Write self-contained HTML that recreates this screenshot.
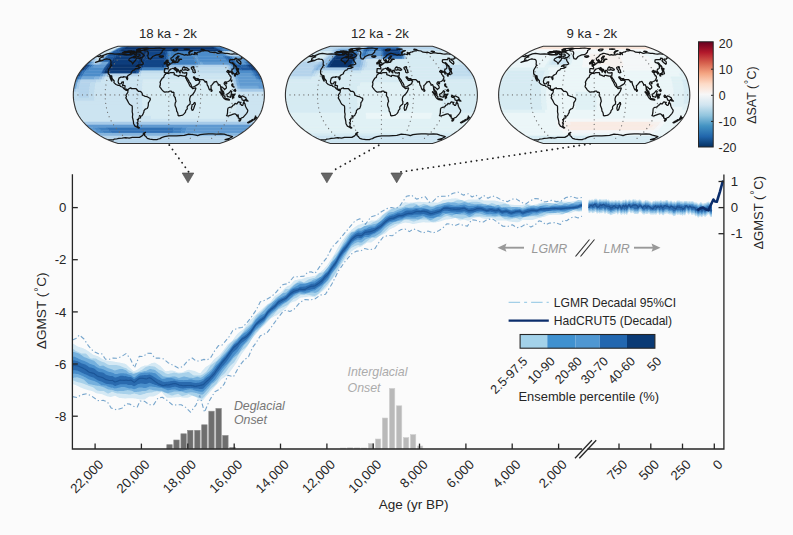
<!DOCTYPE html>
<html><head><meta charset="utf-8"><title>Figure</title>
<style>html,body{margin:0;padding:0;background:#fbfbfb;}svg{display:block;}</style></head>
<body>
<svg width="793" height="535" viewBox="0 0 793 535">
<clipPath id="c0"><polygon points="118,46.3 120.8,46.3 123.6,46.3 126.5,46.3 129.3,46.3 132.1,46.3 134.9,46.3 137.8,46.3 140.6,46.3 143.4,46.3 146.2,46.3 149.1,46.3 151.9,46.3 154.7,46.3 157.5,46.3 160.4,46.3 163.2,46.3 166,46.3 168.8,46.3 171.7,46.3 174.5,46.3 177.3,46.3 180.2,46.3 183,46.3 185.8,46.3 188.6,46.3 191.5,46.3 194.3,46.3 197.1,46.3 199.9,46.3 202.8,46.3 205.6,46.3 208.4,46.3 211.2,46.3 214.1,46.3 216.9,46.3 219.7,46.3 219.7,46.3 223.5,47.5 228.2,49.2 233.2,51.5 237.5,53.9 241.4,56.5 245.2,59.2 248.6,62 251.8,64.9 254.5,67.8 256.9,70.8 258.9,73.8 260.6,76.8 261.8,79.8 262.7,82.8 263.4,85.9 264,88.9 264.3,91.9 264.4,94.9 264.3,97.9 264,100.9 263.4,103.9 262.7,107 261.8,110 260.6,113 258.9,116 256.9,119 254.5,122 251.8,124.9 248.6,127.8 245.2,130.6 241.4,133.3 237.5,135.9 233.2,138.3 228.2,140.6 223.5,142.3 219.7,143.5 219.7,143.5 216.9,143.5 214.1,143.5 211.2,143.5 208.4,143.5 205.6,143.5 202.8,143.5 199.9,143.5 197.1,143.5 194.3,143.5 191.5,143.5 188.6,143.5 185.8,143.5 183,143.5 180.2,143.5 177.3,143.5 174.5,143.5 171.7,143.5 168.8,143.5 166,143.5 163.2,143.5 160.4,143.5 157.5,143.5 154.7,143.5 151.9,143.5 149.1,143.5 146.2,143.5 143.4,143.5 140.6,143.5 137.8,143.5 134.9,143.5 132.1,143.5 129.3,143.5 126.5,143.5 123.6,143.5 120.8,143.5 118,143.5 118,143.5 114.2,142.3 109.5,140.6 104.5,138.3 100.2,135.9 96.3,133.3 92.5,130.6 89.1,127.8 85.9,124.9 83.2,122 80.8,119 78.8,116 77.1,113 75.9,110 75,107 74.3,103.9 73.7,100.9 73.4,97.9 73.3,94.9 73.4,91.9 73.7,88.9 74.3,85.9 75,82.8 75.9,79.8 77.1,76.8 78.8,73.8 80.8,70.8 83.2,67.8 85.9,64.9 89.1,62 92.5,59.2 96.3,56.5 100.2,53.9 104.5,51.5 109.5,49.2 114.2,47.5 118,46.3"/></clipPath>
<g clip-path="url(#c0)">
<polygon points="118,46.3 119.4,46.3 115.7,47.5 114.2,47.5" fill="#c0dcee" stroke="#c0dcee" stroke-width="0.5"/>
<polygon points="119.4,46.3 123.6,46.3 120.3,47.5 115.7,47.5" fill="#cce4f1" stroke="#cce4f1" stroke-width="0.5"/>
<polygon points="123.6,46.3 125.1,46.3 121.8,47.5 120.3,47.5" fill="#72a8d8" stroke="#72a8d8" stroke-width="0.5"/>
<polygon points="125.1,46.3 127.9,46.3 124.8,47.5 121.8,47.5" fill="#3272b6" stroke="#3272b6" stroke-width="0.5"/>
<polygon points="127.9,46.3 129.3,46.3 126.3,47.5 124.8,47.5" fill="#1f599f" stroke="#1f599f" stroke-width="0.5"/>
<polygon points="129.3,46.3 209.8,46.3 212.9,47.5 126.3,47.5" fill="#0a356f" stroke="#0a356f" stroke-width="0.5"/>
<polygon points="209.8,46.3 211.2,46.3 214.4,47.5 212.9,47.5" fill="#124688" stroke="#124688" stroke-width="0.5"/>
<polygon points="211.2,46.3 212.6,46.3 215.9,47.5 214.4,47.5" fill="#1f599f" stroke="#1f599f" stroke-width="0.5"/>
<polygon points="212.6,46.3 214.1,46.3 217.4,47.5 215.9,47.5" fill="#3272b6" stroke="#3272b6" stroke-width="0.5"/>
<polygon points="214.1,46.3 218.3,46.3 222,47.5 217.4,47.5" fill="#4080c0" stroke="#4080c0" stroke-width="0.5"/>
<polygon points="218.3,46.3 219.7,46.3 223.5,47.5 222,47.5" fill="#4d8dca" stroke="#4d8dca" stroke-width="0.5"/>
<polygon points="114.2,47.5 115.7,47.5 111.1,49.2 109.5,49.2" fill="#c0dcee" stroke="#c0dcee" stroke-width="0.5"/>
<polygon points="115.7,47.5 120.3,47.5 116.1,49.2 111.1,49.2" fill="#cce4f1" stroke="#cce4f1" stroke-width="0.5"/>
<polygon points="120.3,47.5 121.8,47.5 117.7,49.2 116.1,49.2" fill="#72a8d8" stroke="#72a8d8" stroke-width="0.5"/>
<polygon points="121.8,47.5 124.8,47.5 121,49.2 117.7,49.2" fill="#1f599f" stroke="#1f599f" stroke-width="0.5"/>
<polygon points="124.8,47.5 126.3,47.5 122.7,49.2 121,49.2" fill="#185094" stroke="#185094" stroke-width="0.5"/>
<polygon points="126.3,47.5 212.9,47.5 216.7,49.2 122.7,49.2" fill="#0a356f" stroke="#0a356f" stroke-width="0.5"/>
<polygon points="212.9,47.5 214.4,47.5 218.3,49.2 216.7,49.2" fill="#0e3e7c" stroke="#0e3e7c" stroke-width="0.5"/>
<polygon points="214.4,47.5 215.9,47.5 220,49.2 218.3,49.2" fill="#1f599f" stroke="#1f599f" stroke-width="0.5"/>
<polygon points="215.9,47.5 222,47.5 226.6,49.2 220,49.2" fill="#3272b6" stroke="#3272b6" stroke-width="0.5"/>
<polygon points="222,47.5 223.5,47.5 228.2,49.2 226.6,49.2" fill="#4d8dca" stroke="#4d8dca" stroke-width="0.5"/>
<polygon points="109.5,49.2 111.1,49.2 106.3,51.5 104.5,51.5" fill="#c0dcee" stroke="#c0dcee" stroke-width="0.5"/>
<polygon points="111.1,49.2 116.1,49.2 111.7,51.5 106.3,51.5" fill="#cce4f1" stroke="#cce4f1" stroke-width="0.5"/>
<polygon points="116.1,49.2 117.7,49.2 113.5,51.5 111.7,51.5" fill="#72a8d8" stroke="#72a8d8" stroke-width="0.5"/>
<polygon points="117.7,49.2 121,49.2 117,51.5 113.5,51.5" fill="#1f599f" stroke="#1f599f" stroke-width="0.5"/>
<polygon points="121,49.2 122.7,49.2 118.8,51.5 117,51.5" fill="#185094" stroke="#185094" stroke-width="0.5"/>
<polygon points="122.7,49.2 216.7,49.2 220.7,51.5 118.8,51.5" fill="#0a356f" stroke="#0a356f" stroke-width="0.5"/>
<polygon points="216.7,49.2 218.3,49.2 222.5,51.5 220.7,51.5" fill="#0e3e7c" stroke="#0e3e7c" stroke-width="0.5"/>
<polygon points="218.3,49.2 220,49.2 224.2,51.5 222.5,51.5" fill="#1f599f" stroke="#1f599f" stroke-width="0.5"/>
<polygon points="220,49.2 221.6,49.2 226,51.5 224.2,51.5" fill="#3272b6" stroke="#3272b6" stroke-width="0.5"/>
<polygon points="221.6,49.2 226.6,49.2 231.4,51.5 226,51.5" fill="#4080c0" stroke="#4080c0" stroke-width="0.5"/>
<polygon points="226.6,49.2 228.2,49.2 233.2,51.5 231.4,51.5" fill="#4d8dca" stroke="#4d8dca" stroke-width="0.5"/>
<polygon points="104.5,51.5 111.7,51.5 107.8,53.9 100.2,53.9" fill="#cce4f1" stroke="#cce4f1" stroke-width="0.5"/>
<polygon points="111.7,51.5 113.5,51.5 109.7,53.9 107.8,53.9" fill="#72a8d8" stroke="#72a8d8" stroke-width="0.5"/>
<polygon points="113.5,51.5 120.6,51.5 117.4,53.9 109.7,53.9" fill="#1f599f" stroke="#1f599f" stroke-width="0.5"/>
<polygon points="120.6,51.5 122.4,51.5 119.3,53.9 117.4,53.9" fill="#185094" stroke="#185094" stroke-width="0.5"/>
<polygon points="122.4,51.5 143.8,51.5 142.1,53.9 119.3,53.9" fill="#0e3e7c" stroke="#0e3e7c" stroke-width="0.5"/>
<polygon points="143.8,51.5 147.4,51.5 146,53.9 142.1,53.9" fill="#0a356f" stroke="#0a356f" stroke-width="0.5"/>
<polygon points="147.4,51.5 149.2,51.5 147.9,53.9 146,53.9" fill="#0e3e7c" stroke="#0e3e7c" stroke-width="0.5"/>
<polygon points="149.2,51.5 165.3,51.5 165,53.9 147.9,53.9" fill="#124688" stroke="#124688" stroke-width="0.5"/>
<polygon points="165.3,51.5 167.1,51.5 166.9,53.9 165,53.9" fill="#185094" stroke="#185094" stroke-width="0.5"/>
<polygon points="167.1,51.5 168.8,51.5 168.8,53.9 166.9,53.9" fill="#3272b6" stroke="#3272b6" stroke-width="0.5"/>
<polygon points="168.8,51.5 170.6,51.5 170.8,53.9 168.8,53.9" fill="#4d8dca" stroke="#4d8dca" stroke-width="0.5"/>
<polygon points="170.6,51.5 190.3,51.5 191.7,53.9 170.8,53.9" fill="#4080c0" stroke="#4080c0" stroke-width="0.5"/>
<polygon points="190.3,51.5 218.9,51.5 222.3,53.9 191.7,53.9" fill="#4d8dca" stroke="#4d8dca" stroke-width="0.5"/>
<polygon points="218.9,51.5 220.7,51.5 224.2,53.9 222.3,53.9" fill="#609ad1" stroke="#609ad1" stroke-width="0.5"/>
<polygon points="220.7,51.5 222.5,51.5 226.1,53.9 224.2,53.9" fill="#85b4de" stroke="#85b4de" stroke-width="0.5"/>
<polygon points="222.5,51.5 224.2,51.5 228,53.9 226.1,53.9" fill="#a6cae8" stroke="#a6cae8" stroke-width="0.5"/>
<polygon points="224.2,51.5 226,51.5 229.9,53.9 228,53.9" fill="#c0dcee" stroke="#c0dcee" stroke-width="0.5"/>
<polygon points="226,51.5 233.2,51.5 237.5,53.9 229.9,53.9" fill="#cce4f1" stroke="#cce4f1" stroke-width="0.5"/>
<polygon points="100.2,53.9 104,53.9 100.3,56.5 96.3,56.5" fill="#c0dcee" stroke="#c0dcee" stroke-width="0.5"/>
<polygon points="104,53.9 107.8,53.9 104.3,56.5 100.3,56.5" fill="#cce4f1" stroke="#cce4f1" stroke-width="0.5"/>
<polygon points="107.8,53.9 109.7,53.9 106.3,56.5 104.3,56.5" fill="#72a8d8" stroke="#72a8d8" stroke-width="0.5"/>
<polygon points="109.7,53.9 117.4,53.9 114.4,56.5 106.3,56.5" fill="#1f599f" stroke="#1f599f" stroke-width="0.5"/>
<polygon points="117.4,53.9 119.3,53.9 116.4,56.5 114.4,56.5" fill="#185094" stroke="#185094" stroke-width="0.5"/>
<polygon points="119.3,53.9 142.1,53.9 140.6,56.5 116.4,56.5" fill="#0e3e7c" stroke="#0e3e7c" stroke-width="0.5"/>
<polygon points="142.1,53.9 146,53.9 144.7,56.5 140.6,56.5" fill="#0a356f" stroke="#0a356f" stroke-width="0.5"/>
<polygon points="146,53.9 147.9,53.9 146.7,56.5 144.7,56.5" fill="#0e3e7c" stroke="#0e3e7c" stroke-width="0.5"/>
<polygon points="147.9,53.9 165,53.9 164.8,56.5 146.7,56.5" fill="#124688" stroke="#124688" stroke-width="0.5"/>
<polygon points="165,53.9 166.9,53.9 166.8,56.5 164.8,56.5" fill="#185094" stroke="#185094" stroke-width="0.5"/>
<polygon points="166.9,53.9 168.8,53.9 168.8,56.5 166.8,56.5" fill="#3272b6" stroke="#3272b6" stroke-width="0.5"/>
<polygon points="168.8,53.9 170.8,53.9 170.9,56.5 168.8,56.5" fill="#4d8dca" stroke="#4d8dca" stroke-width="0.5"/>
<polygon points="170.8,53.9 191.7,53.9 193,56.5 170.9,56.5" fill="#4080c0" stroke="#4080c0" stroke-width="0.5"/>
<polygon points="191.7,53.9 193.6,53.9 195.1,56.5 193,56.5" fill="#4d8dca" stroke="#4d8dca" stroke-width="0.5"/>
<polygon points="193.6,53.9 195.6,53.9 197.1,56.5 195.1,56.5" fill="#609ad1" stroke="#609ad1" stroke-width="0.5"/>
<polygon points="195.6,53.9 224.2,53.9 227.3,56.5 197.1,56.5" fill="#4d8dca" stroke="#4d8dca" stroke-width="0.5"/>
<polygon points="224.2,53.9 226.1,53.9 229.3,56.5 227.3,56.5" fill="#609ad1" stroke="#609ad1" stroke-width="0.5"/>
<polygon points="226.1,53.9 228,53.9 231.4,56.5 229.3,56.5" fill="#98c0e4" stroke="#98c0e4" stroke-width="0.5"/>
<polygon points="228,53.9 237.5,53.9 241.4,56.5 231.4,56.5" fill="#b5d4ec" stroke="#b5d4ec" stroke-width="0.5"/>
<polygon points="96.3,56.5 98.3,56.5 94.7,59.2 92.5,59.2" fill="#a6cae8" stroke="#a6cae8" stroke-width="0.5"/>
<polygon points="98.3,56.5 100.3,56.5 96.8,59.2 94.7,59.2" fill="#c0dcee" stroke="#c0dcee" stroke-width="0.5"/>
<polygon points="100.3,56.5 102.3,56.5 98.9,59.2 96.8,59.2" fill="#d6ebf3" stroke="#d6ebf3" stroke-width="0.5"/>
<polygon points="102.3,56.5 104.3,56.5 101,59.2 98.9,59.2" fill="#ebf6f8" stroke="#ebf6f8" stroke-width="0.5"/>
<polygon points="104.3,56.5 106.3,56.5 103.1,59.2 101,59.2" fill="#98c0e4" stroke="#98c0e4" stroke-width="0.5"/>
<polygon points="106.3,56.5 108.4,56.5 105.3,59.2 103.1,59.2" fill="#3272b6" stroke="#3272b6" stroke-width="0.5"/>
<polygon points="108.4,56.5 114.4,56.5 111.6,59.2 105.3,59.2" fill="#1f599f" stroke="#1f599f" stroke-width="0.5"/>
<polygon points="114.4,56.5 116.4,56.5 113.7,59.2 111.6,59.2" fill="#185094" stroke="#185094" stroke-width="0.5"/>
<polygon points="116.4,56.5 140.6,56.5 139.2,59.2 113.7,59.2" fill="#0e3e7c" stroke="#0e3e7c" stroke-width="0.5"/>
<polygon points="140.6,56.5 144.7,56.5 143.4,59.2 139.2,59.2" fill="#0a356f" stroke="#0a356f" stroke-width="0.5"/>
<polygon points="144.7,56.5 146.7,56.5 145.5,59.2 143.4,59.2" fill="#0e3e7c" stroke="#0e3e7c" stroke-width="0.5"/>
<polygon points="146.7,56.5 164.8,56.5 164.6,59.2 145.5,59.2" fill="#124688" stroke="#124688" stroke-width="0.5"/>
<polygon points="164.8,56.5 166.8,56.5 166.7,59.2 164.6,59.2" fill="#185094" stroke="#185094" stroke-width="0.5"/>
<polygon points="166.8,56.5 168.8,56.5 168.8,59.2 166.7,59.2" fill="#3272b6" stroke="#3272b6" stroke-width="0.5"/>
<polygon points="168.8,56.5 170.9,56.5 171,59.2 168.8,59.2" fill="#4d8dca" stroke="#4d8dca" stroke-width="0.5"/>
<polygon points="170.9,56.5 193,56.5 194.3,59.2 171,59.2" fill="#4080c0" stroke="#4080c0" stroke-width="0.5"/>
<polygon points="193,56.5 195.1,56.5 196.4,59.2 194.3,59.2" fill="#4d8dca" stroke="#4d8dca" stroke-width="0.5"/>
<polygon points="195.1,56.5 197.1,56.5 198.5,59.2 196.4,59.2" fill="#609ad1" stroke="#609ad1" stroke-width="0.5"/>
<polygon points="197.1,56.5 223.3,56.5 226.1,59.2 198.5,59.2" fill="#4d8dca" stroke="#4d8dca" stroke-width="0.5"/>
<polygon points="223.3,56.5 225.3,56.5 228.2,59.2 226.1,59.2" fill="#3272b6" stroke="#3272b6" stroke-width="0.5"/>
<polygon points="225.3,56.5 229.3,56.5 232.4,59.2 228.2,59.2" fill="#2866aa" stroke="#2866aa" stroke-width="0.5"/>
<polygon points="229.3,56.5 231.4,56.5 234.6,59.2 232.4,59.2" fill="#4080c0" stroke="#4080c0" stroke-width="0.5"/>
<polygon points="231.4,56.5 233.4,56.5 236.7,59.2 234.6,59.2" fill="#609ad1" stroke="#609ad1" stroke-width="0.5"/>
<polygon points="233.4,56.5 241.4,56.5 245.2,59.2 236.7,59.2" fill="#72a8d8" stroke="#72a8d8" stroke-width="0.5"/>
<polygon points="92.5,59.2 94.7,59.2 91.3,62 89.1,62" fill="#85b4de" stroke="#85b4de" stroke-width="0.5"/>
<polygon points="94.7,59.2 96.8,59.2 93.5,62 91.3,62" fill="#a6cae8" stroke="#a6cae8" stroke-width="0.5"/>
<polygon points="96.8,59.2 98.9,59.2 95.7,62 93.5,62" fill="#c0dcee" stroke="#c0dcee" stroke-width="0.5"/>
<polygon points="98.9,59.2 101,59.2 97.9,62 95.7,62" fill="#d6ebf3" stroke="#d6ebf3" stroke-width="0.5"/>
<polygon points="101,59.2 103.1,59.2 100.1,62 97.9,62" fill="#98c0e4" stroke="#98c0e4" stroke-width="0.5"/>
<polygon points="103.1,59.2 105.3,59.2 102.4,62 100.1,62" fill="#4080c0" stroke="#4080c0" stroke-width="0.5"/>
<polygon points="105.3,59.2 111.6,59.2 109,62 102.4,62" fill="#2866aa" stroke="#2866aa" stroke-width="0.5"/>
<polygon points="111.6,59.2 113.7,59.2 111.2,62 109,62" fill="#185094" stroke="#185094" stroke-width="0.5"/>
<polygon points="113.7,59.2 115.9,59.2 113.4,62 111.2,62" fill="#0a356f" stroke="#0a356f" stroke-width="0.5"/>
<polygon points="115.9,59.2 139.2,59.2 137.8,62 113.4,62" fill="#0e3e7c" stroke="#0e3e7c" stroke-width="0.5"/>
<polygon points="139.2,59.2 143.4,59.2 142.3,62 137.8,62" fill="#0a356f" stroke="#0a356f" stroke-width="0.5"/>
<polygon points="143.4,59.2 145.5,59.2 144.5,62 142.3,62" fill="#0e3e7c" stroke="#0e3e7c" stroke-width="0.5"/>
<polygon points="145.5,59.2 164.6,59.2 164.4,62 144.5,62" fill="#124688" stroke="#124688" stroke-width="0.5"/>
<polygon points="164.6,59.2 166.7,59.2 166.6,62 164.4,62" fill="#185094" stroke="#185094" stroke-width="0.5"/>
<polygon points="166.7,59.2 168.8,59.2 168.8,62 166.6,62" fill="#3272b6" stroke="#3272b6" stroke-width="0.5"/>
<polygon points="168.8,59.2 171,59.2 171.1,62 168.8,62" fill="#4d8dca" stroke="#4d8dca" stroke-width="0.5"/>
<polygon points="171,59.2 194.3,59.2 195.4,62 171.1,62" fill="#4080c0" stroke="#4080c0" stroke-width="0.5"/>
<polygon points="194.3,59.2 196.4,59.2 197.7,62 195.4,62" fill="#4d8dca" stroke="#4d8dca" stroke-width="0.5"/>
<polygon points="196.4,59.2 198.5,59.2 199.9,62 197.7,62" fill="#609ad1" stroke="#609ad1" stroke-width="0.5"/>
<polygon points="198.5,59.2 226.1,59.2 228.7,62 199.9,62" fill="#4d8dca" stroke="#4d8dca" stroke-width="0.5"/>
<polygon points="226.1,59.2 228.2,59.2 230.9,62 228.7,62" fill="#3272b6" stroke="#3272b6" stroke-width="0.5"/>
<polygon points="228.2,59.2 232.4,59.2 235.3,62 230.9,62" fill="#1f599f" stroke="#1f599f" stroke-width="0.5"/>
<polygon points="232.4,59.2 234.6,59.2 237.6,62 235.3,62" fill="#4080c0" stroke="#4080c0" stroke-width="0.5"/>
<polygon points="234.6,59.2 243,59.2 246.4,62 237.6,62" fill="#609ad1" stroke="#609ad1" stroke-width="0.5"/>
<polygon points="243,59.2 245.2,59.2 248.6,62 246.4,62" fill="#4d8dca" stroke="#4d8dca" stroke-width="0.5"/>
<polygon points="89.1,62 91.3,62 88.2,64.9 85.9,64.9" fill="#3272b6" stroke="#3272b6" stroke-width="0.5"/>
<polygon points="91.3,62 93.5,62 90.5,64.9 88.2,64.9" fill="#609ad1" stroke="#609ad1" stroke-width="0.5"/>
<polygon points="93.5,62 95.7,62 92.8,64.9 90.5,64.9" fill="#85b4de" stroke="#85b4de" stroke-width="0.5"/>
<polygon points="95.7,62 100.1,62 97.4,64.9 92.8,64.9" fill="#a6cae8" stroke="#a6cae8" stroke-width="0.5"/>
<polygon points="100.1,62 102.4,62 99.7,64.9 97.4,64.9" fill="#98c0e4" stroke="#98c0e4" stroke-width="0.5"/>
<polygon points="102.4,62 109,62 106.7,64.9 99.7,64.9" fill="#72a8d8" stroke="#72a8d8" stroke-width="0.5"/>
<polygon points="109,62 111.2,62 109,64.9 106.7,64.9" fill="#1f599f" stroke="#1f599f" stroke-width="0.5"/>
<polygon points="111.2,62 115.7,62 113.6,64.9 109,64.9" fill="#0a356f" stroke="#0a356f" stroke-width="0.5"/>
<polygon points="115.7,62 137.8,62 136.6,64.9 113.6,64.9" fill="#0e3e7c" stroke="#0e3e7c" stroke-width="0.5"/>
<polygon points="137.8,62 142.3,62 141.2,64.9 136.6,64.9" fill="#0a356f" stroke="#0a356f" stroke-width="0.5"/>
<polygon points="142.3,62 144.5,62 143.5,64.9 141.2,64.9" fill="#0e3e7c" stroke="#0e3e7c" stroke-width="0.5"/>
<polygon points="144.5,62 164.4,62 164.2,64.9 143.5,64.9" fill="#124688" stroke="#124688" stroke-width="0.5"/>
<polygon points="164.4,62 166.6,62 166.5,64.9 164.2,64.9" fill="#185094" stroke="#185094" stroke-width="0.5"/>
<polygon points="166.6,62 168.8,62 168.8,64.9 166.5,64.9" fill="#3272b6" stroke="#3272b6" stroke-width="0.5"/>
<polygon points="168.8,62 171.1,62 171.2,64.9 168.8,64.9" fill="#4d8dca" stroke="#4d8dca" stroke-width="0.5"/>
<polygon points="171.1,62 195.4,62 196.5,64.9 171.2,64.9" fill="#4080c0" stroke="#4080c0" stroke-width="0.5"/>
<polygon points="195.4,62 197.7,62 198.8,64.9 196.5,64.9" fill="#4d8dca" stroke="#4d8dca" stroke-width="0.5"/>
<polygon points="197.7,62 199.9,62 201.1,64.9 198.8,64.9" fill="#609ad1" stroke="#609ad1" stroke-width="0.5"/>
<polygon points="199.9,62 202.1,62 203.4,64.9 201.1,64.9" fill="#72a8d8" stroke="#72a8d8" stroke-width="0.5"/>
<polygon points="202.1,62 228.7,62 231,64.9 203.4,64.9" fill="#609ad1" stroke="#609ad1" stroke-width="0.5"/>
<polygon points="228.7,62 230.9,62 233.3,64.9 231,64.9" fill="#4080c0" stroke="#4080c0" stroke-width="0.5"/>
<polygon points="230.9,62 235.3,62 238,64.9 233.3,64.9" fill="#2866aa" stroke="#2866aa" stroke-width="0.5"/>
<polygon points="235.3,62 237.6,62 240.3,64.9 238,64.9" fill="#4080c0" stroke="#4080c0" stroke-width="0.5"/>
<polygon points="237.6,62 239.8,62 242.6,64.9 240.3,64.9" fill="#4d8dca" stroke="#4d8dca" stroke-width="0.5"/>
<polygon points="239.8,62 244.2,62 247.2,64.9 242.6,64.9" fill="#609ad1" stroke="#609ad1" stroke-width="0.5"/>
<polygon points="244.2,62 246.4,62 249.5,64.9 247.2,64.9" fill="#4080c0" stroke="#4080c0" stroke-width="0.5"/>
<polygon points="246.4,62 248.6,62 251.8,64.9 249.5,64.9" fill="#2866aa" stroke="#2866aa" stroke-width="0.5"/>
<polygon points="85.9,64.9 88.2,64.9 85.6,67.8 83.2,67.8" fill="#0a356f" stroke="#0a356f" stroke-width="0.5"/>
<polygon points="88.2,64.9 90.5,64.9 88,67.8 85.6,67.8" fill="#185094" stroke="#185094" stroke-width="0.5"/>
<polygon points="90.5,64.9 92.8,64.9 90.4,67.8 88,67.8" fill="#3272b6" stroke="#3272b6" stroke-width="0.5"/>
<polygon points="92.8,64.9 95.1,64.9 92.7,67.8 90.4,67.8" fill="#4d8dca" stroke="#4d8dca" stroke-width="0.5"/>
<polygon points="95.1,64.9 106.7,64.9 104.6,67.8 92.7,67.8" fill="#609ad1" stroke="#609ad1" stroke-width="0.5"/>
<polygon points="106.7,64.9 109,64.9 107,67.8 104.6,67.8" fill="#185094" stroke="#185094" stroke-width="0.5"/>
<polygon points="109,64.9 143.5,64.9 142.7,67.8 107,67.8" fill="#0a356f" stroke="#0a356f" stroke-width="0.5"/>
<polygon points="143.5,64.9 161.9,64.9 161.7,67.8 142.7,67.8" fill="#124688" stroke="#124688" stroke-width="0.5"/>
<polygon points="161.9,64.9 164.2,64.9 164.1,67.8 161.7,67.8" fill="#0e3e7c" stroke="#0e3e7c" stroke-width="0.5"/>
<polygon points="164.2,64.9 166.5,64.9 166.5,67.8 164.1,67.8" fill="#1f599f" stroke="#1f599f" stroke-width="0.5"/>
<polygon points="166.5,64.9 168.8,64.9 168.8,67.8 166.5,67.8" fill="#609ad1" stroke="#609ad1" stroke-width="0.5"/>
<polygon points="168.8,64.9 196.5,64.9 197.4,67.8 168.8,67.8" fill="#98c0e4" stroke="#98c0e4" stroke-width="0.5"/>
<polygon points="196.5,64.9 198.8,64.9 199.8,67.8 197.4,67.8" fill="#a6cae8" stroke="#a6cae8" stroke-width="0.5"/>
<polygon points="198.8,64.9 226.4,64.9 228.3,67.8 199.8,67.8" fill="#b5d4ec" stroke="#b5d4ec" stroke-width="0.5"/>
<polygon points="226.4,64.9 228.7,64.9 230.7,67.8 228.3,67.8" fill="#a6cae8" stroke="#a6cae8" stroke-width="0.5"/>
<polygon points="228.7,64.9 231,64.9 233.1,67.8 230.7,67.8" fill="#85b4de" stroke="#85b4de" stroke-width="0.5"/>
<polygon points="231,64.9 233.3,64.9 235.5,67.8 233.1,67.8" fill="#4d8dca" stroke="#4d8dca" stroke-width="0.5"/>
<polygon points="233.3,64.9 235.7,64.9 237.8,67.8 235.5,67.8" fill="#3272b6" stroke="#3272b6" stroke-width="0.5"/>
<polygon points="235.7,64.9 240.3,64.9 242.6,67.8 237.8,67.8" fill="#1f599f" stroke="#1f599f" stroke-width="0.5"/>
<polygon points="240.3,64.9 244.9,64.9 247.3,67.8 242.6,67.8" fill="#2866aa" stroke="#2866aa" stroke-width="0.5"/>
<polygon points="244.9,64.9 247.2,64.9 249.7,67.8 247.3,67.8" fill="#1f599f" stroke="#1f599f" stroke-width="0.5"/>
<polygon points="247.2,64.9 249.5,64.9 252.1,67.8 249.7,67.8" fill="#124688" stroke="#124688" stroke-width="0.5"/>
<polygon points="249.5,64.9 251.8,64.9 254.5,67.8 252.1,67.8" fill="#0a356f" stroke="#0a356f" stroke-width="0.5"/>
<polygon points="83.2,67.8 85.6,67.8 83.2,70.8 80.8,70.8" fill="#0a356f" stroke="#0a356f" stroke-width="0.5"/>
<polygon points="85.6,67.8 88,67.8 85.7,70.8 83.2,70.8" fill="#1f599f" stroke="#1f599f" stroke-width="0.5"/>
<polygon points="88,67.8 90.4,67.8 88.1,70.8 85.7,70.8" fill="#4080c0" stroke="#4080c0" stroke-width="0.5"/>
<polygon points="90.4,67.8 104.6,67.8 102.8,70.8 88.1,70.8" fill="#4d8dca" stroke="#4d8dca" stroke-width="0.5"/>
<polygon points="104.6,67.8 107,67.8 105.3,70.8 102.8,70.8" fill="#185094" stroke="#185094" stroke-width="0.5"/>
<polygon points="107,67.8 140.3,67.8 139.5,70.8 105.3,70.8" fill="#0a356f" stroke="#0a356f" stroke-width="0.5"/>
<polygon points="140.3,67.8 142.7,67.8 141.9,70.8 139.5,70.8" fill="#2866aa" stroke="#2866aa" stroke-width="0.5"/>
<polygon points="142.7,67.8 164.1,67.8 164,70.8 141.9,70.8" fill="#4080c0" stroke="#4080c0" stroke-width="0.5"/>
<polygon points="164.1,67.8 166.5,67.8 166.4,70.8 164,70.8" fill="#609ad1" stroke="#609ad1" stroke-width="0.5"/>
<polygon points="166.5,67.8 168.8,67.8 168.8,70.8 166.4,70.8" fill="#a6cae8" stroke="#a6cae8" stroke-width="0.5"/>
<polygon points="168.8,67.8 228.3,67.8 230,70.8 168.8,70.8" fill="#c0dcee" stroke="#c0dcee" stroke-width="0.5"/>
<polygon points="228.3,67.8 230.7,67.8 232.4,70.8 230,70.8" fill="#98c0e4" stroke="#98c0e4" stroke-width="0.5"/>
<polygon points="230.7,67.8 233.1,67.8 234.9,70.8 232.4,70.8" fill="#609ad1" stroke="#609ad1" stroke-width="0.5"/>
<polygon points="233.1,67.8 235.5,67.8 237.3,70.8 234.9,70.8" fill="#4080c0" stroke="#4080c0" stroke-width="0.5"/>
<polygon points="235.5,67.8 237.8,67.8 239.8,70.8 237.3,70.8" fill="#3272b6" stroke="#3272b6" stroke-width="0.5"/>
<polygon points="237.8,67.8 240.2,67.8 242.2,70.8 239.8,70.8" fill="#2866aa" stroke="#2866aa" stroke-width="0.5"/>
<polygon points="240.2,67.8 249.7,67.8 252,70.8 242.2,70.8" fill="#1f599f" stroke="#1f599f" stroke-width="0.5"/>
<polygon points="249.7,67.8 252.1,67.8 254.5,70.8 252,70.8" fill="#124688" stroke="#124688" stroke-width="0.5"/>
<polygon points="252.1,67.8 254.5,67.8 256.9,70.8 254.5,70.8" fill="#0a356f" stroke="#0a356f" stroke-width="0.5"/>
<polygon points="80.8,70.8 83.2,70.8 81.3,73.8 78.8,73.8" fill="#1f599f" stroke="#1f599f" stroke-width="0.5"/>
<polygon points="83.2,70.8 85.7,70.8 83.8,73.8 81.3,73.8" fill="#3272b6" stroke="#3272b6" stroke-width="0.5"/>
<polygon points="85.7,70.8 102.8,70.8 101.3,73.8 83.8,73.8" fill="#4d8dca" stroke="#4d8dca" stroke-width="0.5"/>
<polygon points="102.8,70.8 105.3,70.8 103.8,73.8 101.3,73.8" fill="#1f599f" stroke="#1f599f" stroke-width="0.5"/>
<polygon points="105.3,70.8 110.1,70.8 108.8,73.8 103.8,73.8" fill="#0a356f" stroke="#0a356f" stroke-width="0.5"/>
<polygon points="110.1,70.8 137.1,70.8 136.3,73.8 108.8,73.8" fill="#0e3e7c" stroke="#0e3e7c" stroke-width="0.5"/>
<polygon points="137.1,70.8 139.5,70.8 138.8,73.8 136.3,73.8" fill="#1f599f" stroke="#1f599f" stroke-width="0.5"/>
<polygon points="139.5,70.8 141.9,70.8 141.3,73.8 138.8,73.8" fill="#a6cae8" stroke="#a6cae8" stroke-width="0.5"/>
<polygon points="141.9,70.8 230,70.8 231.4,73.8 141.3,73.8" fill="#c0dcee" stroke="#c0dcee" stroke-width="0.5"/>
<polygon points="230,70.8 232.4,70.8 233.9,73.8 231.4,73.8" fill="#98c0e4" stroke="#98c0e4" stroke-width="0.5"/>
<polygon points="232.4,70.8 234.9,70.8 236.4,73.8 233.9,73.8" fill="#609ad1" stroke="#609ad1" stroke-width="0.5"/>
<polygon points="234.9,70.8 252,70.8 253.9,73.8 236.4,73.8" fill="#4d8dca" stroke="#4d8dca" stroke-width="0.5"/>
<polygon points="252,70.8 254.5,70.8 256.4,73.8 253.9,73.8" fill="#3272b6" stroke="#3272b6" stroke-width="0.5"/>
<polygon points="254.5,70.8 256.9,70.8 258.9,73.8 256.4,73.8" fill="#1f599f" stroke="#1f599f" stroke-width="0.5"/>
<polygon points="78.8,73.8 81.3,73.8 79.7,76.8 77.1,76.8" fill="#185094" stroke="#185094" stroke-width="0.5"/>
<polygon points="81.3,73.8 83.8,73.8 82.2,76.8 79.7,76.8" fill="#3272b6" stroke="#3272b6" stroke-width="0.5"/>
<polygon points="83.8,73.8 101.3,73.8 100.1,76.8 82.2,76.8" fill="#4d8dca" stroke="#4d8dca" stroke-width="0.5"/>
<polygon points="101.3,73.8 103.8,73.8 102.6,76.8 100.1,76.8" fill="#609ad1" stroke="#609ad1" stroke-width="0.5"/>
<polygon points="103.8,73.8 106.3,73.8 105.1,76.8 102.6,76.8" fill="#85b4de" stroke="#85b4de" stroke-width="0.5"/>
<polygon points="106.3,73.8 108.8,73.8 107.7,76.8 105.1,76.8" fill="#a6cae8" stroke="#a6cae8" stroke-width="0.5"/>
<polygon points="108.8,73.8 138.8,73.8 138.3,76.8 107.7,76.8" fill="#b5d4ec" stroke="#b5d4ec" stroke-width="0.5"/>
<polygon points="138.8,73.8 141.3,73.8 140.8,76.8 138.3,76.8" fill="#c0dcee" stroke="#c0dcee" stroke-width="0.5"/>
<polygon points="141.3,73.8 228.9,73.8 230,76.8 140.8,76.8" fill="#cce4f1" stroke="#cce4f1" stroke-width="0.5"/>
<polygon points="228.9,73.8 231.4,73.8 232.6,76.8 230,76.8" fill="#c0dcee" stroke="#c0dcee" stroke-width="0.5"/>
<polygon points="231.4,73.8 233.9,73.8 235.1,76.8 232.6,76.8" fill="#98c0e4" stroke="#98c0e4" stroke-width="0.5"/>
<polygon points="233.9,73.8 251.4,73.8 252.9,76.8 235.1,76.8" fill="#609ad1" stroke="#609ad1" stroke-width="0.5"/>
<polygon points="251.4,73.8 253.9,73.8 255.5,76.8 252.9,76.8" fill="#4d8dca" stroke="#4d8dca" stroke-width="0.5"/>
<polygon points="253.9,73.8 256.4,73.8 258,76.8 255.5,76.8" fill="#3272b6" stroke="#3272b6" stroke-width="0.5"/>
<polygon points="256.4,73.8 258.9,73.8 260.6,76.8 258,76.8" fill="#1f599f" stroke="#1f599f" stroke-width="0.5"/>
<polygon points="77.1,76.8 79.7,76.8 78.5,79.8 75.9,79.8" fill="#3272b6" stroke="#3272b6" stroke-width="0.5"/>
<polygon points="79.7,76.8 82.2,76.8 81,79.8 78.5,79.8" fill="#4d8dca" stroke="#4d8dca" stroke-width="0.5"/>
<polygon points="82.2,76.8 95,76.8 94,79.8 81,79.8" fill="#72a8d8" stroke="#72a8d8" stroke-width="0.5"/>
<polygon points="95,76.8 100.1,76.8 99.1,79.8 94,79.8" fill="#85b4de" stroke="#85b4de" stroke-width="0.5"/>
<polygon points="100.1,76.8 102.6,76.8 101.7,79.8 99.1,79.8" fill="#98c0e4" stroke="#98c0e4" stroke-width="0.5"/>
<polygon points="102.6,76.8 105.1,76.8 104.3,79.8 101.7,79.8" fill="#b5d4ec" stroke="#b5d4ec" stroke-width="0.5"/>
<polygon points="105.1,76.8 232.6,76.8 233.4,79.8 104.3,79.8" fill="#cce4f1" stroke="#cce4f1" stroke-width="0.5"/>
<polygon points="232.6,76.8 235.1,76.8 236,79.8 233.4,79.8" fill="#a6cae8" stroke="#a6cae8" stroke-width="0.5"/>
<polygon points="235.1,76.8 237.6,76.8 238.6,79.8 236,79.8" fill="#72a8d8" stroke="#72a8d8" stroke-width="0.5"/>
<polygon points="237.6,76.8 255.5,76.8 256.7,79.8 238.6,79.8" fill="#609ad1" stroke="#609ad1" stroke-width="0.5"/>
<polygon points="255.5,76.8 258,76.8 259.2,79.8 256.7,79.8" fill="#4080c0" stroke="#4080c0" stroke-width="0.5"/>
<polygon points="258,76.8 260.6,76.8 261.8,79.8 259.2,79.8" fill="#2866aa" stroke="#2866aa" stroke-width="0.5"/>
<polygon points="75.9,79.8 78.5,79.8 77.6,82.8 75,82.8" fill="#609ad1" stroke="#609ad1" stroke-width="0.5"/>
<polygon points="78.5,79.8 81,79.8 80.2,82.8 77.6,82.8" fill="#98c0e4" stroke="#98c0e4" stroke-width="0.5"/>
<polygon points="81,79.8 96.5,79.8 95.9,82.8 80.2,82.8" fill="#b5d4ec" stroke="#b5d4ec" stroke-width="0.5"/>
<polygon points="96.5,79.8 101.7,79.8 101.1,82.8 95.9,82.8" fill="#c0dcee" stroke="#c0dcee" stroke-width="0.5"/>
<polygon points="101.7,79.8 143,79.8 142.8,82.8 101.1,82.8" fill="#cce4f1" stroke="#cce4f1" stroke-width="0.5"/>
<polygon points="143,79.8 230.8,79.8 231.4,82.8 142.8,82.8" fill="#d6ebf3" stroke="#d6ebf3" stroke-width="0.5"/>
<polygon points="230.8,79.8 233.4,79.8 234,82.8 231.4,82.8" fill="#cce4f1" stroke="#cce4f1" stroke-width="0.5"/>
<polygon points="233.4,79.8 236,79.8 236.6,82.8 234,82.8" fill="#a6cae8" stroke="#a6cae8" stroke-width="0.5"/>
<polygon points="236,79.8 238.6,79.8 239.2,82.8 236.6,82.8" fill="#72a8d8" stroke="#72a8d8" stroke-width="0.5"/>
<polygon points="238.6,79.8 259.2,79.8 260.1,82.8 239.2,82.8" fill="#609ad1" stroke="#609ad1" stroke-width="0.5"/>
<polygon points="259.2,79.8 261.8,79.8 262.7,82.8 260.1,82.8" fill="#4d8dca" stroke="#4d8dca" stroke-width="0.5"/>
<polygon points="75,82.8 77.6,82.8 76.9,85.9 74.3,85.9" fill="#72a8d8" stroke="#72a8d8" stroke-width="0.5"/>
<polygon points="77.6,82.8 80.2,82.8 79.5,85.9 76.9,85.9" fill="#a6cae8" stroke="#a6cae8" stroke-width="0.5"/>
<polygon points="80.2,82.8 90.6,82.8 90,85.9 79.5,85.9" fill="#b5d4ec" stroke="#b5d4ec" stroke-width="0.5"/>
<polygon points="90.6,82.8 95.9,82.8 95.3,85.9 90,85.9" fill="#c0dcee" stroke="#c0dcee" stroke-width="0.5"/>
<polygon points="95.9,82.8 142.8,82.8 142.6,85.9 95.3,85.9" fill="#cce4f1" stroke="#cce4f1" stroke-width="0.5"/>
<polygon points="142.8,82.8 231.4,82.8 231.9,85.9 142.6,85.9" fill="#d6ebf3" stroke="#d6ebf3" stroke-width="0.5"/>
<polygon points="231.4,82.8 234,82.8 234.5,85.9 231.9,85.9" fill="#cce4f1" stroke="#cce4f1" stroke-width="0.5"/>
<polygon points="234,82.8 236.6,82.8 237.2,85.9 234.5,85.9" fill="#a6cae8" stroke="#a6cae8" stroke-width="0.5"/>
<polygon points="236.6,82.8 239.2,82.8 239.8,85.9 237.2,85.9" fill="#72a8d8" stroke="#72a8d8" stroke-width="0.5"/>
<polygon points="239.2,82.8 262.7,82.8 263.4,85.9 239.8,85.9" fill="#609ad1" stroke="#609ad1" stroke-width="0.5"/>
<polygon points="74.3,85.9 76.9,85.9 76.4,88.9 73.7,88.9" fill="#72a8d8" stroke="#72a8d8" stroke-width="0.5"/>
<polygon points="76.9,85.9 79.5,85.9 79,88.9 76.4,88.9" fill="#a6cae8" stroke="#a6cae8" stroke-width="0.5"/>
<polygon points="79.5,85.9 90,85.9 89.6,88.9 79,88.9" fill="#b5d4ec" stroke="#b5d4ec" stroke-width="0.5"/>
<polygon points="90,85.9 95.3,85.9 94.9,88.9 89.6,88.9" fill="#c0dcee" stroke="#c0dcee" stroke-width="0.5"/>
<polygon points="95.3,85.9 142.6,85.9 142.4,88.9 94.9,88.9" fill="#cce4f1" stroke="#cce4f1" stroke-width="0.5"/>
<polygon points="142.6,85.9 231.9,85.9 232.3,88.9 142.4,88.9" fill="#d6ebf3" stroke="#d6ebf3" stroke-width="0.5"/>
<polygon points="231.9,85.9 234.5,85.9 234.9,88.9 232.3,88.9" fill="#cce4f1" stroke="#cce4f1" stroke-width="0.5"/>
<polygon points="234.5,85.9 237.2,85.9 237.5,88.9 234.9,88.9" fill="#b5d4ec" stroke="#b5d4ec" stroke-width="0.5"/>
<polygon points="237.2,85.9 239.8,85.9 240.2,88.9 237.5,88.9" fill="#85b4de" stroke="#85b4de" stroke-width="0.5"/>
<polygon points="239.8,85.9 258.2,85.9 258.7,88.9 240.2,88.9" fill="#72a8d8" stroke="#72a8d8" stroke-width="0.5"/>
<polygon points="258.2,85.9 263.4,85.9 264,88.9 258.7,88.9" fill="#609ad1" stroke="#609ad1" stroke-width="0.5"/>
<polygon points="73.7,88.9 76.4,88.9 76.1,91.9 73.4,91.9" fill="#a6cae8" stroke="#a6cae8" stroke-width="0.5"/>
<polygon points="76.4,88.9 89.6,88.9 89.3,91.9 76.1,91.9" fill="#b5d4ec" stroke="#b5d4ec" stroke-width="0.5"/>
<polygon points="89.6,88.9 94.9,88.9 94.6,91.9 89.3,91.9" fill="#c0dcee" stroke="#c0dcee" stroke-width="0.5"/>
<polygon points="94.9,88.9 142.4,88.9 142.3,91.9 94.6,91.9" fill="#cce4f1" stroke="#cce4f1" stroke-width="0.5"/>
<polygon points="142.4,88.9 232.3,88.9 232.5,91.9 142.3,91.9" fill="#d6ebf3" stroke="#d6ebf3" stroke-width="0.5"/>
<polygon points="232.3,88.9 234.9,88.9 235.1,91.9 232.5,91.9" fill="#cce4f1" stroke="#cce4f1" stroke-width="0.5"/>
<polygon points="234.9,88.9 237.5,88.9 237.8,91.9 235.1,91.9" fill="#c0dcee" stroke="#c0dcee" stroke-width="0.5"/>
<polygon points="237.5,88.9 240.2,88.9 240.4,91.9 237.8,91.9" fill="#b5d4ec" stroke="#b5d4ec" stroke-width="0.5"/>
<polygon points="240.2,88.9 264,88.9 264.3,91.9 240.4,91.9" fill="#a6cae8" stroke="#a6cae8" stroke-width="0.5"/>
<polygon points="73.4,91.9 78.7,91.9 78.6,94.9 73.3,94.9" fill="#c0dcee" stroke="#c0dcee" stroke-width="0.5"/>
<polygon points="78.7,91.9 89.3,91.9 89.2,94.9 78.6,94.9" fill="#b5d4ec" stroke="#b5d4ec" stroke-width="0.5"/>
<polygon points="89.3,91.9 94.6,91.9 94.5,94.9 89.2,94.9" fill="#c0dcee" stroke="#c0dcee" stroke-width="0.5"/>
<polygon points="94.6,91.9 142.3,91.9 142.3,94.9 94.5,94.9" fill="#cce4f1" stroke="#cce4f1" stroke-width="0.5"/>
<polygon points="142.3,91.9 237.8,91.9 237.9,94.9 142.3,94.9" fill="#d6ebf3" stroke="#d6ebf3" stroke-width="0.5"/>
<polygon points="237.8,91.9 264.3,91.9 264.4,94.9 237.9,94.9" fill="#cce4f1" stroke="#cce4f1" stroke-width="0.5"/>
<polygon points="73.3,94.9 78.6,94.9 78.7,97.9 73.4,97.9" fill="#c0dcee" stroke="#c0dcee" stroke-width="0.5"/>
<polygon points="78.6,94.9 89.2,94.9 89.3,97.9 78.7,97.9" fill="#b5d4ec" stroke="#b5d4ec" stroke-width="0.5"/>
<polygon points="89.2,94.9 94.5,94.9 94.6,97.9 89.3,97.9" fill="#c0dcee" stroke="#c0dcee" stroke-width="0.5"/>
<polygon points="94.5,94.9 142.3,94.9 142.3,97.9 94.6,97.9" fill="#cce4f1" stroke="#cce4f1" stroke-width="0.5"/>
<polygon points="142.3,94.9 237.9,94.9 237.8,97.9 142.3,97.9" fill="#d6ebf3" stroke="#d6ebf3" stroke-width="0.5"/>
<polygon points="237.9,94.9 264.4,94.9 264.3,97.9 237.8,97.9" fill="#cce4f1" stroke="#cce4f1" stroke-width="0.5"/>
<polygon points="73.4,97.9 94.6,97.9 94.9,100.9 73.7,100.9" fill="#c0dcee" stroke="#c0dcee" stroke-width="0.5"/>
<polygon points="94.6,97.9 142.3,97.9 142.4,100.9 94.9,100.9" fill="#cce4f1" stroke="#cce4f1" stroke-width="0.5"/>
<polygon points="142.3,97.9 237.8,97.9 237.5,100.9 142.4,100.9" fill="#d6ebf3" stroke="#d6ebf3" stroke-width="0.5"/>
<polygon points="237.8,97.9 264.3,97.9 264,100.9 237.5,100.9" fill="#cce4f1" stroke="#cce4f1" stroke-width="0.5"/>
<polygon points="73.7,100.9 142.4,100.9 142.6,103.9 74.3,103.9" fill="#cce4f1" stroke="#cce4f1" stroke-width="0.5"/>
<polygon points="142.4,100.9 237.5,100.9 237.2,103.9 142.6,103.9" fill="#d6ebf3" stroke="#d6ebf3" stroke-width="0.5"/>
<polygon points="237.5,100.9 264,100.9 263.4,103.9 237.2,103.9" fill="#cce4f1" stroke="#cce4f1" stroke-width="0.5"/>
<polygon points="74.3,103.9 142.6,103.9 142.8,107 75,107" fill="#cce4f1" stroke="#cce4f1" stroke-width="0.5"/>
<polygon points="142.6,103.9 237.2,103.9 236.6,107 142.8,107" fill="#d6ebf3" stroke="#d6ebf3" stroke-width="0.5"/>
<polygon points="237.2,103.9 263.4,103.9 262.7,107 236.6,107" fill="#cce4f1" stroke="#cce4f1" stroke-width="0.5"/>
<polygon points="75,107 142.8,107 143,110 75.9,110" fill="#cce4f1" stroke="#cce4f1" stroke-width="0.5"/>
<polygon points="142.8,107 236.6,107 236,110 143,110" fill="#d6ebf3" stroke="#d6ebf3" stroke-width="0.5"/>
<polygon points="236.6,107 262.7,107 261.8,110 236,110" fill="#cce4f1" stroke="#cce4f1" stroke-width="0.5"/>
<polygon points="75.9,110 143,110 143.4,113 77.1,113" fill="#cce4f1" stroke="#cce4f1" stroke-width="0.5"/>
<polygon points="143,110 236,110 235.1,113 143.4,113" fill="#d6ebf3" stroke="#d6ebf3" stroke-width="0.5"/>
<polygon points="236,110 261.8,110 260.6,113 235.1,113" fill="#cce4f1" stroke="#cce4f1" stroke-width="0.5"/>
<polygon points="77.1,113 143.4,113 143.8,116 78.8,116" fill="#cce4f1" stroke="#cce4f1" stroke-width="0.5"/>
<polygon points="143.4,113 235.1,113 233.9,116 143.8,116" fill="#d6ebf3" stroke="#d6ebf3" stroke-width="0.5"/>
<polygon points="235.1,113 260.6,113 258.9,116 233.9,116" fill="#cce4f1" stroke="#cce4f1" stroke-width="0.5"/>
<polygon points="78.8,116 151.3,116 151.7,119 80.8,119" fill="#cce4f1" stroke="#cce4f1" stroke-width="0.5"/>
<polygon points="151.3,116 226.4,116 225.1,119 151.7,119" fill="#d6ebf3" stroke="#d6ebf3" stroke-width="0.5"/>
<polygon points="226.4,116 258.9,116 256.9,119 225.1,119" fill="#cce4f1" stroke="#cce4f1" stroke-width="0.5"/>
<polygon points="80.8,119 256.9,119 254.5,122 83.2,122" fill="#cce4f1" stroke="#cce4f1" stroke-width="0.5"/>
<polygon points="83.2,122 254.5,122 251.8,124.9 85.9,124.9" fill="#a6cae8" stroke="#a6cae8" stroke-width="0.5"/>
<polygon points="85.9,124.9 251.8,124.9 248.6,127.8 89.1,127.8" fill="#609ad1" stroke="#609ad1" stroke-width="0.5"/>
<polygon points="89.1,127.8 93.5,127.8 96.8,130.6 92.5,130.6" fill="#609ad1" stroke="#609ad1" stroke-width="0.5"/>
<polygon points="93.5,127.8 97.9,127.8 101,130.6 96.8,130.6" fill="#4d8dca" stroke="#4d8dca" stroke-width="0.5"/>
<polygon points="97.9,127.8 106.8,127.8 109.5,130.6 101,130.6" fill="#4080c0" stroke="#4080c0" stroke-width="0.5"/>
<polygon points="106.8,127.8 173.3,127.8 173.1,130.6 109.5,130.6" fill="#3272b6" stroke="#3272b6" stroke-width="0.5"/>
<polygon points="173.3,127.8 182.1,127.8 181.6,130.6 173.1,130.6" fill="#4080c0" stroke="#4080c0" stroke-width="0.5"/>
<polygon points="182.1,127.8 186.6,127.8 185.8,130.6 181.6,130.6" fill="#4d8dca" stroke="#4d8dca" stroke-width="0.5"/>
<polygon points="186.6,127.8 248.6,127.8 245.2,130.6 185.8,130.6" fill="#609ad1" stroke="#609ad1" stroke-width="0.5"/>
<polygon points="92.5,130.6 96.8,130.6 100.3,133.3 96.3,133.3" fill="#609ad1" stroke="#609ad1" stroke-width="0.5"/>
<polygon points="96.8,130.6 101,130.6 104.3,133.3 100.3,133.3" fill="#4d8dca" stroke="#4d8dca" stroke-width="0.5"/>
<polygon points="101,130.6 109.5,130.6 112.4,133.3 104.3,133.3" fill="#4080c0" stroke="#4080c0" stroke-width="0.5"/>
<polygon points="109.5,130.6 173.1,130.6 172.9,133.3 112.4,133.3" fill="#3272b6" stroke="#3272b6" stroke-width="0.5"/>
<polygon points="173.1,130.6 181.6,130.6 180.9,133.3 172.9,133.3" fill="#4080c0" stroke="#4080c0" stroke-width="0.5"/>
<polygon points="181.6,130.6 185.8,130.6 185,133.3 180.9,133.3" fill="#4d8dca" stroke="#4d8dca" stroke-width="0.5"/>
<polygon points="185.8,130.6 245.2,130.6 241.4,133.3 185,133.3" fill="#609ad1" stroke="#609ad1" stroke-width="0.5"/>
<polygon points="96.3,133.3 241.4,133.3 237.5,135.9 100.2,135.9" fill="#85b4de" stroke="#85b4de" stroke-width="0.5"/>
<polygon points="100.2,135.9 237.5,135.9 233.2,138.3 104.5,138.3" fill="#b5d4ec" stroke="#b5d4ec" stroke-width="0.5"/>
<polygon points="104.5,138.3 233.2,138.3 228.2,140.6 109.5,140.6" fill="#b5d4ec" stroke="#b5d4ec" stroke-width="0.5"/>
<polygon points="109.5,140.6 228.2,140.6 223.5,142.3 114.2,142.3" fill="#b5d4ec" stroke="#b5d4ec" stroke-width="0.5"/>
<polygon points="114.2,142.3 223.5,142.3 219.7,143.5 118,143.5" fill="#b5d4ec" stroke="#b5d4ec" stroke-width="0.5"/>
<g fill="none" stroke="#6e6e6e" stroke-width="1.25" stroke-dasharray="0.01 4.6" stroke-linecap="round"><polyline points="126,138.3 123.1,135.9 120.5,133.3 118,130.6 115.7,127.8 113.6,124.9 111.8,122 110.1,119 108.8,116 107.7,113 106.9,110 106.3,107 105.8,103.9 105.4,100.9 105.2,97.9 105.1,94.9 105.2,91.9 105.4,88.9 105.8,85.9 106.3,82.8 106.9,79.8 107.7,76.8 108.8,73.8 110.1,70.8 111.8,67.8 113.6,64.9 115.7,62 118,59.2 120.5,56.5 123.1,53.9 126,51.5"/>
<polyline points="147.4,138.3 146,135.9 144.7,133.3 143.4,130.6 142.3,127.8 141.2,124.9 140.3,122 139.5,119 138.8,116 138.3,113 137.9,110 137.6,107 137.3,103.9 137.1,100.9 137,97.9 137,94.9 137,91.9 137.1,88.9 137.3,85.9 137.6,82.8 137.9,79.8 138.3,76.8 138.8,73.8 139.5,70.8 140.3,67.8 141.2,64.9 142.3,62 143.4,59.2 144.7,56.5 146,53.9 147.4,51.5"/>
<polyline points="168.8,138.3 168.8,135.9 168.8,133.3 168.8,130.6 168.8,127.8 168.8,124.9 168.8,122 168.8,119 168.8,116 168.8,113 168.8,110 168.8,107 168.8,103.9 168.8,100.9 168.8,97.9 168.8,94.9 168.8,91.9 168.8,88.9 168.8,85.9 168.8,82.8 168.8,79.8 168.8,76.8 168.8,73.8 168.8,70.8 168.8,67.8 168.8,64.9 168.8,62 168.8,59.2 168.8,56.5 168.8,53.9 168.8,51.5"/>
<polyline points="190.3,138.3 191.7,135.9 193,133.3 194.3,130.6 195.4,127.8 196.5,124.9 197.4,122 198.2,119 198.9,116 199.4,113 199.8,110 200.1,107 200.4,103.9 200.6,100.9 200.7,97.9 200.7,94.9 200.7,91.9 200.6,88.9 200.4,85.9 200.1,82.8 199.8,79.8 199.4,76.8 198.9,73.8 198.2,70.8 197.4,67.8 196.5,64.9 195.4,62 194.3,59.2 193,56.5 191.7,53.9 190.3,51.5"/>
<polyline points="211.7,138.3 214.6,135.9 217.2,133.3 219.7,130.6 222,127.8 224.1,124.9 225.9,122 227.6,119 228.9,116 230,113 230.8,110 231.4,107 231.9,103.9 232.3,100.9 232.5,97.9 232.6,94.9 232.5,91.9 232.3,88.9 231.9,85.9 231.4,82.8 230.8,79.8 230,76.8 228.9,73.8 227.6,70.8 225.9,67.8 224.1,64.9 222,62 219.7,59.2 217.2,56.5 214.6,53.9 211.7,51.5"/>
<polyline points="73.3,94.9 264.4,94.9"/></g>
<g fill="none" stroke="#141414" stroke-width="1.25" stroke-linejoin="round"><polyline points="101.5,56.2 107.1,53.9 110.1,53.3 114.9,54.1 119.3,53.9 122,54.2 124.2,54.7 126.7,54.9 130.6,54.9 133.7,53.2 134.1,54.4 136.2,54.2 136.3,55.7 134,56.8 132,57.3 129.4,58.7 128.7,60 129.7,60.9 131.3,61.8 132.2,62.6 132.6,64 133.7,62.3 135.6,60.3 136.5,58 138.2,58 139.5,58.7 141.4,59 141.2,60.3 141.8,61.4 143.1,62.9 143.3,64 141.2,64.8 138.4,64.9 136.1,66.4 138.6,65.6 138.5,66.9 139.9,67.5 140.5,67.2 138.8,68.1 137.2,68.5 135.3,68.7 134.7,69.8 132.7,70.5 131.9,71.6 131.2,72.6 131.1,73.7 129.7,74.5 127.9,75.6 127.4,76.8 127.7,78.6 127.3,79.7 126.8,78.9 126.4,78 126.3,76.9 125.5,77 123.5,76.6 123.2,77.4 122.4,77.1 120.9,77.1 119,78.1 118.5,79.8 118.1,81.3 118.3,82.5 118.7,83.4 119.4,83.9 121.3,83.6 121.8,82.2 123.5,81.9 123.2,83.4 122.5,85.3 123.7,85.3 125.1,85.9 124.8,88.3 125.5,89.5 126.8,89.2 127.9,89.7 127.6,90.4 126.5,90.4 125.7,90.1 123.6,88.4 122.8,87.1 120.7,86.5 119.5,85.3 118.2,85.4 116,84.5 113.9,82.6 114.2,81 112.9,79.5 112,78.1 111.7,75.9 110.8,75.7 111.1,77.4 111.2,78.9 111.9,80.4 111.9,81.1 111,79.8 110.2,78 109.7,75.9 109.7,75.3 109.3,74.4 108.4,74.1 108.2,72.3 108.3,70.6 108.9,69 110.3,67.1 110.8,65.8 111.8,65.5 110.8,64.3 111,62.3 110.9,60.9 110.2,59.8 109.4,59.3 107.8,59.2 106.4,58.9 104.3,59.5 102.1,60.6 99.7,61.2 97,62 95.6,62.3 97.9,61.4 101,60 99.4,59.9 99.5,58.9 100.1,58.1 101.3,57.5 103.6,56.8 102,56.8 101.5,56.2"/>
<polyline points="139.8,52.1 142.1,53.4 143.1,54.2 144.3,55.6 143,56.5 141.8,57.7 140.9,57.6 139.5,57 138,56.9 137.4,56.5 140.2,55.2 139.3,54.2 136.8,53.9 135.6,52.7 137.5,52.2 139.8,52.1"/>
<polyline points="123.3,54.4 126.2,54.7 129.4,54.5 130.3,53.9 130.6,52.2 127.7,52.4 125.1,53.2 122.3,53 124.2,51.7 127.4,51.5 124.3,53.2 123.3,54.4"/>
<polyline points="137.4,50.8 140.8,50.9 143.3,50.1 145.8,49.2 149,48.5 146.9,48.2 141.7,48.5 139.6,48.9 136.7,49.7 137,50.6 137.4,50.8"/>
<polyline points="132.2,52.4 134.5,52.7 135,51.7 133.4,51.2 131,51.5 132.2,52.4"/>
<polyline points="144,50.1 147.4,48.9 149.7,48.5 154.6,48.4 159.5,48 162.5,48.5 165,48.7 162.3,50.6 162.1,52 160.5,53.7 159.1,54.7 156.4,54.9 152.7,56.5 150.6,59.2 148.7,58.7 148.1,57 147.7,55.5 148.4,53.7 148.3,52.4 147.4,51 145,50.9 144,50.1"/>
<polyline points="159.9,55.9 161.7,55.9 163.1,55.8 163.4,56.5 162.8,56.9 161.5,57.4 160.3,57.1 159.6,57 159.2,56.3 159.9,55.9"/>
<polyline points="127.9,89.7 129,88.6 130.9,87.7 131.1,88.6 132.9,88.6 135.1,88.5 136.1,88.6 136.9,89.8 138.4,91.3 140.2,91.4 141.5,92.2 142.3,93.8 142.3,94.9 143.4,95.5 145.2,96.4 147.1,96.7 149,97.8 150.1,98.2 150.3,99.7 149.3,101.5 148.4,102.7 148.3,105.4 147.8,107.3 147.2,108.5 146,108.8 145,109.4 143.9,110.9 143.9,112.1 143.2,113.6 142.4,115.1 142,115.7 141.3,116 140.1,116 139.5,115.6 140.5,116.9 140.5,117.9 138.4,118.4 138.4,119.6 137.2,119.6 138,120.5 137.9,122 137,122.9 138.1,123.7 137.4,125.2 137.9,126.2 137.4,126.4 139.4,127.8 138.6,128.1 137.1,127.2 135,126.1 133.6,123.7 133.4,121.4 132.9,119 132.4,117.2 132.7,114.2 132.2,111.8 132.3,108.8 132.2,106 129.5,104.2 128.7,103 127.6,100.9 126.8,99.4 125.8,97.9 126.3,97 126.4,96.1 125.9,95.5 126.4,94.3 127,93.7 127.8,92.5 127.9,90.7 127.9,89.7"/>
<polyline points="165.9,73.3 168.4,73.5 170.3,72.7 173.8,72.5 174.4,73.8 174.1,74.7 176.4,75.4 178.8,76.5 179.2,75.3 180.5,75.3 183.6,76.2 185.1,76.1 185.4,76.8 186,78 187,80.4 188.1,82.2 189,84.1 189.6,85.6 190.7,86.8 191.7,87.4 192.6,88.6 195.7,87.8 195.9,88.6 194.8,91.3 193.3,93.7 191.7,95.2 190.6,96.1 190.1,97.3 189.7,98.8 189.7,100.9 190.2,101.5 190.1,103.9 188.2,105.4 187.1,107 187.3,108.8 185.7,110.6 185.5,112.1 184.3,113.6 182.7,115.1 181.4,115.4 178.9,115.9 178.1,115.4 178,114.2 177.5,112.4 176.7,111.2 176.4,108.8 175.1,105.7 175,104.5 175.3,102.7 176,101.5 175.7,100.2 175.3,98.5 175.4,97.9 174.7,97 173.7,95.5 173.9,93.7 174,92.8 173.4,92.2 172,92.3 171.2,91.1 169.6,91.2 167.8,92 166.7,91.8 164.9,92.2 163.8,91.6 162.8,90.7 162,89.8 160.9,88.3 160,87.4 159.7,86 160.2,85.3 160.4,83.1 160,82.2 161.1,80.1 162.2,78.3 163.7,77.4 163.9,76.5 164.6,74.8 165.4,74.4 165.9,73.3"/>
<polyline points="194.8,102.1 195.4,104.2 194.8,105.1 193.8,108.2 193.1,110 192.1,110.3 191.4,108.2 192,106 191.9,104.8 193.3,104.2 194.1,103 194.8,102.1"/>
<polyline points="185.2,76 186.3,75.9 186.5,75 186.8,73.5 186.7,72.7 186,72.7 184.8,73.1 184,72.9 182.8,72.8 182.3,72.1 181.9,71.4 181.6,70.6 181.5,70.3 180.5,70.3 180.1,70.6 179.9,70.7 180.1,71.3 180.3,71.9 180.2,72.3 180.2,72.9 179.7,72.7 179.3,72.1 179.3,71.8 178.8,71.1 178.3,70.5 178.3,69.7 177.8,69.3 176.5,68.7 175.5,67.8 175.3,67.5 174.7,67.6 174.7,68.1 175.4,68.7 175.9,69.6 176.6,70 177.9,70.7 177.2,71.4 177,72 176.6,72 176.5,70.8 175.9,70.4 174.9,69.9 174.2,69.3 173.7,68.5 173.1,68.2 172.4,68.5 171.3,68.8 170.4,69 170.4,69.6 169.3,70.2 168.8,71.1 168.6,71.9 168,72.6 166.6,72.8 166.1,73.2 165.7,72.7 165.1,72.5 164.4,72.6 164.5,71.6 164.2,71.1 164.6,70.2 164.6,69.3 164.4,69 165,68.6 166.5,68.7 167.9,68.8 168.1,68.7 168.3,67.2 167.8,66.5 166.7,66.1 166.8,65.7 168.2,65.6 168.2,65.1 168.9,65.1 169.5,64.8 170,64.3 170.7,64 171.1,63.2 172,62.9 172.7,62.6 172.6,61.7 172.4,61 173.4,60.5 173.3,61.4 173.3,62.1 173.8,62.6 174.6,62.4 175.2,62.6 176,62.3 177.1,62.2 177.7,62.3 178.2,61.9 178,61 178.5,60.5 179.1,60.9 179.4,60.2 178.9,59.6 180.8,59.5 181.6,59.3 181.1,59.1 179.8,59 178.6,59.3 177.9,58.8 177.7,57.8 178.9,56.5 179.1,56.2 177.6,56.1 177.4,56.8 176.6,57.4 176.1,58.1 176,58.7 176.8,59.3 176,60.6 175.9,61.4 175.1,61.8 174.5,61.8 174.4,61.3 174,60.6 173.5,59.8 173.3,59.5 172.5,60.2 171.7,60.3 171.2,59.8 170.9,58.7 171,58 171.7,57.7 172.3,57.3 172.9,56.8 173.8,56 174.3,55.2 174.9,54.7 175.8,54.2 176.7,53.9 177.9,53.4 178.6,53.4 179.6,53.5 180.6,53.8 181.5,54.2 182.7,54.4 184.5,55.2 185.9,54.7 186.8,54.9 187.6,55.1 189.4,54.7 190.2,54.8 191.3,54.5 192,54 193.8,54.3 195.2,54.7 194.5,52.4 195.3,52.5 196.2,53.4 197.1,54.7 197.1,54.5 196.7,52.9 198,52.2 200,52 199.9,51.5 202.3,51 203.8,50.8 204.6,50.3 206,50.6 208.3,51 210.2,52.2 212.9,52.4 215.2,52.2 217.8,53.4 219.4,53.2 220.6,52.7 222.6,52.8 225.1,53.3 227.2,53.4 229.9,53.9 232.1,54.1 233.7,53.9 235.8,54 238.4,54.5"/>
<polyline points="99.3,54.5 100.2,55.2 101,55.6 101.2,55.9 100.3,56.2 98.9,56.8 98.7,56.2 97.3,56.3 96.1,56.6"/>
<polyline points="241.4,56.5 242.7,57.8 241.3,58.2 240.9,59.2 239,59 238.3,59.3 238.8,60.3 240.4,61.3 240.8,62.1 241,63.3 240.5,63.4 240.5,64.3 239.1,63.2 236.9,61.2 236.7,60.4 237.1,60.3 237,59.5 236.9,58.4 235.1,58.2 235,59.6 233.3,59.6 231.1,59.6 229.7,59.9 229.5,61.4 229.8,62.3 232.1,63.2 232.9,63.6 233.6,64.9 234.2,65.8 233.9,66.6 234,68.1 232.9,69.1 232,69.2 232,70.2 231.6,71 233,72.6 233.5,73.6 232.5,74 232.2,74.1 231.6,72.6 230.7,72.1 230,71 228.7,71.4 227.9,70.3 228.5,70.5 227.8,70.3 227.4,70.9 226.8,71.3 226.9,71.8 227.8,72.5 228.5,72.1 229.5,72.4 228.8,73.2 228.6,73.8 229.9,75.3 230.8,76.3 231,76.9 231.1,78 230.6,78.9 230.4,79.7 229.5,80.7 228.1,81.5 226.6,82 226.3,82.7 225.8,81.9 225,81.9 224.4,82.7 224.1,83.6 224.6,84.4 226,85.7 226.4,87.2 226.4,88 225.4,88.7 224.4,89.7 224.2,88.7 223.3,88.3 222.8,87.5 222,87.2 221.8,86.8 221.1,87.5 221.3,88.7 221.9,89.9 222,90.7 222.5,90.7 223,91.2 223.7,92.1 223.7,93.1 224.1,94.1 223.7,94.1 222.6,93.2 222,91.6 221,90.1 220.8,88.9 220.7,87 220,85 219.8,84.7 219.2,84.9 218.3,85.3 218.1,83.6 217.4,82.8 216.8,81.9 216.5,81.3 215.9,81.5 215.1,81.8 214.1,81.9 214.1,82.5 213.2,83.3 212,84.9 211,85.6 211.1,86.9 211.1,88.7 210.2,89.5 209.9,90 209.3,89.5 208.7,88 208,86 207.4,85.3 206.9,83.3 206.7,82.2 206.5,81.5 205.4,82.2 204.7,81.5 205.2,81.3 204.3,80.7 203.6,80 203.2,79.6 200.9,79.7 199,79.5 198.1,78.6 197.8,78.5 196.9,78.9 195.2,78.1 194.4,76.8 193.6,76.8 193.4,77.2 194.3,78.6 194.7,79.1 195.4,79.8 195.6,80.4 196.8,80.3 197.8,79.9 197.8,79.1 198.1,80.1 199.1,80.7 199.9,81.4 199.3,82.5 199,83.5 197.9,84.4 196.3,85.4 194.5,86.5 192.6,87.2 191.8,87.2 191.4,86.2 191.2,85 190.3,83.1 189.2,81.9 188.6,80.3 187.6,78.9 186.8,78 186.7,77.1 186.5,78 186.1,78.1 185.5,76.9 185.2,76"/>
<polyline points="182.4,70 183.9,70.1 185.1,69.6 186.3,69.8 187.6,70.3 189,69.9 189,69.3 188,68.7 187.2,68.1 186.6,67.7 186.2,67.6 185.7,67.8 184.9,68.1 184.3,67.6 184.7,67.2 183.7,66.9 183.1,67.4 182.9,67.7 182.6,68.2 182.3,69.2 182.4,70"/>
<polyline points="192.4,66.9 193.7,66.6 194,67.6 193.2,67.7 194.5,69.6 195.1,70.2 194.8,70.8 195.5,72.4 194.2,72.8 193.1,72.2 192.9,71.7 193,70.7 192.3,69.7 191.7,69 191.6,68.3 191.1,68 191.4,67.5 192,67 192.4,66.9"/>
<polyline points="166.2,64.8 167.2,64.7 169.4,64.3 169.6,63.3 168.9,62.9 168.2,62 168,61.4 167.4,61.4 168.1,60.5 167.4,60 166.7,60 166.2,60.8 166.4,61.3 166.3,61.8 166.8,62.1 167.4,62.3 167.5,63 166.8,63 166.9,63.6 166.5,63.9 167.3,64.1 166.9,64.2 166.2,64.8"/>
<polyline points="166.1,63.7 166,62.5 166.3,62.2 166.1,61.9 165.6,61.8 165.1,62.3 164.4,62.5 164.4,63 164.2,63.7 164.5,64 165.4,63.7 166.1,63.7"/>
<polyline points="236,67.6 238.7,68.8 238.3,69.6 237.1,69.3 236.8,69.9 236.2,68.8 236,67.6"/>
<polyline points="236.8,69.9 237.6,70 238.5,71.1 238.4,71.9 238.9,72.9 239.2,73.5 238.8,73.8 238.3,74 237.4,74.1 237.3,74.7 236.7,74.5 236.6,74 235.6,74.3 234.7,74.5 234.5,74.1 235,73.5 236.5,73.4 236.6,72.4 237.3,72.1 237.3,70.9 236.8,69.9"/>
<polyline points="234.3,74.7 235.3,74.8 235.4,76 234.9,76.1 234.4,75.2 234.3,74.7"/>
<polyline points="232.1,62.4 233.5,63.2 234.7,64.9 235.6,65.5 236.5,66.9 236,67.2 234.8,65.5 233.2,63.7 232.1,62.4"/>
<polyline points="231.6,79.7 231.9,80.1 231.6,81.6 231.1,80.9 231.6,79.7"/>
<polyline points="226.5,82.8 226.8,83.1 226.4,83.9 225.6,83.4 225.9,82.8 226.5,82.8"/>
<polyline points="231.9,83.8 232.8,83.8 232.9,85.3 232.8,86.3 234.2,87.1 233.9,87.3 232.3,86.3 231.8,85.3 231.9,83.8"/>
<polyline points="233.4,90.7 235.2,89.2 235.8,90.7 235.3,91.5 234.5,91 233.4,90.7"/>
<polyline points="227,93.8 227.7,93.9 228.8,93.1 230.1,91.7 230.8,90.7 231.9,91.7 231.4,92.3 231.2,94.3 231.9,94.3 231.2,94.9 230.6,96.4 230.4,97.3 229.6,97 228,96.7 227.3,96.6 227.2,95.6 226.7,94.7 227,93.8"/>
<polyline points="219.3,91.5 220.5,91.8 222.1,93.6 223.9,95.5 225.1,96.7 225,98.4 224.2,98.5 223.1,97.3 222.1,95.5 221.2,93.9 219.3,91.5"/>
<polyline points="224.6,99 226.2,98.6 227.6,98.8 228.5,99.1 229.4,99.6 229.3,100.1 227.6,99.8 226,99.6 224.7,99.1 224.6,99"/>
<polyline points="232.2,98.2 232.7,96.6 232,96.7 231.9,95.5 232.4,94.6 232.8,94.3 234.7,94.3 235.2,94 234.3,94.7 232.8,94.6 233.3,95.5 234.3,95.4 233.6,96.1 233.8,97.8 233,96.7 232.6,98.3 232.2,98.2"/>
<polyline points="238.4,95.7 240,95.4 240.7,96.9 242.1,95.9 243.6,96.5 245.7,97.6 246.4,99.1 246.9,99.8 248.1,101.1 246.5,101 245.3,99.5 244.7,100.3 243.4,100.4 242.1,99.9 241.8,98 240.2,97.4 239.1,97.3 238.9,96.6 238.4,95.7"/>
<polyline points="227.8,108.2 227.6,110.6 227.5,113 227,115.1 226.5,115.6 227.9,116 229.9,115.3 231.4,114.8 232.5,114.4 234.2,113.9 235.3,113.9 236.4,114.7 236.9,115.9 238.2,114.8 237.5,116.3 238.3,115.8 238.3,116.6 238.2,117.8 239.4,118.3 240.7,118.5 242,117.7 243.1,117.4 244.9,115.3 246.7,113.3 247.5,111.9 247.8,110.3 247.1,109.1 246.5,108.3 245.6,106.5 245.1,104.8 245.2,103.9 244.3,103.3 244.1,101.3 243.3,103 243.1,104.5 242.6,105.4 241.7,105.3 241,104.5 240.1,103.9 240.4,103 241,102.3 240,102.3 238.7,101.8 237.9,102.3 236.9,103.9 236.1,103.9 235.1,103.3 234.1,104.8 233,105.1 232.1,106.7 230.8,107.1 229.6,107.3 228.4,108 227.8,108.2"/>
<polyline points="239.4,119.4 241,119.5 240.1,120.8 239.1,121.1 239,120.3 239.4,119.4"/>
<polyline points="255.5,115.6 255.8,116.6 255.9,117.6 257.1,117.6 256,118.6 254.3,119.8 253.8,119.8 254.7,118.7 254.2,118.5 255.2,117.5 255.5,115.6"/>
<polyline points="253.1,119.3 253.3,120 251.7,121.2 250.3,121.9 248.4,122.9 247.6,122.6 249.4,121.4 251.1,120.6 252.5,119.6 253.1,119.3"/>
<polyline points="211.1,89 212.1,90.4 211.9,91.2 211.2,91.3 211.1,90.1 211.1,89"/>
<polyline points="108,139.9 113.1,139.9 114.1,139.2 116.5,139 118.8,138.3 122.1,138.1 125.3,137.7 129.3,138.1 132.2,137.4 135.7,137.3 139.5,137.4 140.8,136.6 142.1,135.9 143.1,134.9 143.4,133.3 145.5,132.4 144.5,133 144.3,134.1 144.5,135.4 145.9,136.4 146.6,137.6 147.4,138.3 149.8,139.2 153.5,139.7 156.9,139.6 158.4,139 160,138.6 161.6,137.6 164.4,136.6 168.8,135.9 172.7,135.9 176.5,135.9 180.4,135.6 184.3,135.4 188.6,134.2 192.4,134.5 196,135.1 197.6,135.6 200.2,134.6 204.6,134.1 208.7,133.8 212.7,133.8 216.3,134.2 220.6,133.9 224.2,134.2 227.1,135.1 229.9,135.9 232.5,136.6 229.6,138.3 225.1,139.7 229.7,139.9"/>
<polyline points="134,56.2 136,56.2 136.2,57.1 134.1,57.8 133.3,57.1 134,56.2"/>
<polyline points="136.2,51.2 140.9,50.8 140.1,51.7 136.5,51.7 136.2,51.2"/>
<polyline points="134.4,52 135.9,52 134.6,52.9 133.8,52.7 134.4,52"/>
<polyline points="131.8,52.4 133.5,52.2 132.5,53.2 131.1,53.2 131.8,52.4"/>
<polyline points="127.7,51 131.7,50.9 131,51.5 127.6,51.6 127.7,51"/>
<polyline points="137.8,49.1 140.3,48.9 140,49.7 137.2,50.1 137.8,49.1"/>
<polyline points="130.9,54.2 132,54.2 131.6,54.7 130.4,54.7 130.9,54.2"/>
<polyline points="172.6,50.1 174.5,49.2 177.8,49.2 176.5,50.6 174.4,50.8 172.6,50.1"/>
<polyline points="188.4,53.4 189.1,52 190.1,50.8 192.7,50.6 189.9,52 189.6,53.4 188.4,53.4"/>
<polyline points="200.7,49.7 201.6,49.1 204.1,49.7 202.9,50.1 200.7,49.7"/>
<polyline points="217.8,51.5 219.2,51.2 221.7,51.5 220.6,52 217.8,51.5"/>
<polyline points="183.7,49.2 186.7,48.9 189.5,49.1 187.1,49.4 183.7,49.2"/></g>
</g>
<polygon points="118,46.3 120.8,46.3 123.6,46.3 126.5,46.3 129.3,46.3 132.1,46.3 134.9,46.3 137.8,46.3 140.6,46.3 143.4,46.3 146.2,46.3 149.1,46.3 151.9,46.3 154.7,46.3 157.5,46.3 160.4,46.3 163.2,46.3 166,46.3 168.8,46.3 171.7,46.3 174.5,46.3 177.3,46.3 180.2,46.3 183,46.3 185.8,46.3 188.6,46.3 191.5,46.3 194.3,46.3 197.1,46.3 199.9,46.3 202.8,46.3 205.6,46.3 208.4,46.3 211.2,46.3 214.1,46.3 216.9,46.3 219.7,46.3 219.7,46.3 223.5,47.5 228.2,49.2 233.2,51.5 237.5,53.9 241.4,56.5 245.2,59.2 248.6,62 251.8,64.9 254.5,67.8 256.9,70.8 258.9,73.8 260.6,76.8 261.8,79.8 262.7,82.8 263.4,85.9 264,88.9 264.3,91.9 264.4,94.9 264.3,97.9 264,100.9 263.4,103.9 262.7,107 261.8,110 260.6,113 258.9,116 256.9,119 254.5,122 251.8,124.9 248.6,127.8 245.2,130.6 241.4,133.3 237.5,135.9 233.2,138.3 228.2,140.6 223.5,142.3 219.7,143.5 219.7,143.5 216.9,143.5 214.1,143.5 211.2,143.5 208.4,143.5 205.6,143.5 202.8,143.5 199.9,143.5 197.1,143.5 194.3,143.5 191.5,143.5 188.6,143.5 185.8,143.5 183,143.5 180.2,143.5 177.3,143.5 174.5,143.5 171.7,143.5 168.8,143.5 166,143.5 163.2,143.5 160.4,143.5 157.5,143.5 154.7,143.5 151.9,143.5 149.1,143.5 146.2,143.5 143.4,143.5 140.6,143.5 137.8,143.5 134.9,143.5 132.1,143.5 129.3,143.5 126.5,143.5 123.6,143.5 120.8,143.5 118,143.5 118,143.5 114.2,142.3 109.5,140.6 104.5,138.3 100.2,135.9 96.3,133.3 92.5,130.6 89.1,127.8 85.9,124.9 83.2,122 80.8,119 78.8,116 77.1,113 75.9,110 75,107 74.3,103.9 73.7,100.9 73.4,97.9 73.3,94.9 73.4,91.9 73.7,88.9 74.3,85.9 75,82.8 75.9,79.8 77.1,76.8 78.8,73.8 80.8,70.8 83.2,67.8 85.9,64.9 89.1,62 92.5,59.2 96.3,56.5 100.2,53.9 104.5,51.5 109.5,49.2 114.2,47.5 118,46.3" fill="none" stroke="#333" stroke-width="1.1"/>
<clipPath id="c1"><polygon points="330.3,46.3 333.1,46.3 336,46.3 338.8,46.3 341.7,46.3 344.5,46.3 347.3,46.3 350.2,46.3 353,46.3 355.9,46.3 358.7,46.3 361.5,46.3 364.4,46.3 367.2,46.3 370,46.3 372.9,46.3 375.7,46.3 378.6,46.3 381.4,46.3 384.2,46.3 387.1,46.3 389.9,46.3 392.8,46.3 395.6,46.3 398.4,46.3 401.3,46.3 404.1,46.3 406.9,46.3 409.8,46.3 412.6,46.3 415.5,46.3 418.3,46.3 421.1,46.3 424,46.3 426.8,46.3 429.7,46.3 432.5,46.3 432.5,46.3 436.3,47.5 441,49.2 446,51.5 450.4,53.9 454.3,56.5 458.1,59.2 461.6,62 464.7,64.9 467.4,67.8 469.9,70.8 471.9,73.8 473.6,76.8 474.8,79.8 475.7,82.8 476.4,85.9 477,88.9 477.3,91.9 477.4,94.9 477.3,97.9 477,100.9 476.4,103.9 475.7,107 474.8,110 473.6,113 471.9,116 469.9,119 467.4,122 464.7,124.9 461.6,127.8 458.1,130.6 454.3,133.3 450.4,135.9 446,138.3 441,140.6 436.3,142.3 432.5,143.5 432.5,143.5 429.7,143.5 426.8,143.5 424,143.5 421.1,143.5 418.3,143.5 415.5,143.5 412.6,143.5 409.8,143.5 406.9,143.5 404.1,143.5 401.3,143.5 398.4,143.5 395.6,143.5 392.8,143.5 389.9,143.5 387.1,143.5 384.2,143.5 381.4,143.5 378.6,143.5 375.7,143.5 372.9,143.5 370,143.5 367.2,143.5 364.4,143.5 361.5,143.5 358.7,143.5 355.9,143.5 353,143.5 350.2,143.5 347.3,143.5 344.5,143.5 341.7,143.5 338.8,143.5 336,143.5 333.1,143.5 330.3,143.5 330.3,143.5 326.5,142.3 321.8,140.6 316.8,138.3 312.4,135.9 308.5,133.3 304.7,130.6 301.2,127.8 298.1,124.9 295.4,122 292.9,119 290.9,116 289.2,113 288,110 287.1,107 286.4,103.9 285.8,100.9 285.5,97.9 285.4,94.9 285.5,91.9 285.8,88.9 286.4,85.9 287.1,82.8 288,79.8 289.2,76.8 290.9,73.8 292.9,70.8 295.4,67.8 298.1,64.9 301.2,62 304.7,59.2 308.5,56.5 312.4,53.9 316.8,51.5 321.8,49.2 326.5,47.5 330.3,46.3"/></clipPath>
<g clip-path="url(#c1)">
<polygon points="330.3,46.3 365.8,46.3 364.6,47.5 326.5,47.5" fill="#b5d4ec" stroke="#b5d4ec" stroke-width="0.5"/>
<polygon points="365.8,46.3 367.2,46.3 366.1,47.5 364.6,47.5" fill="#98c0e4" stroke="#98c0e4" stroke-width="0.5"/>
<polygon points="367.2,46.3 368.6,46.3 367.7,47.5 366.1,47.5" fill="#609ad1" stroke="#609ad1" stroke-width="0.5"/>
<polygon points="368.6,46.3 397,46.3 398.2,47.5 367.7,47.5" fill="#4080c0" stroke="#4080c0" stroke-width="0.5"/>
<polygon points="397,46.3 398.4,46.3 399.7,47.5 398.2,47.5" fill="#609ad1" stroke="#609ad1" stroke-width="0.5"/>
<polygon points="398.4,46.3 399.8,46.3 401.2,47.5 399.7,47.5" fill="#98c0e4" stroke="#98c0e4" stroke-width="0.5"/>
<polygon points="399.8,46.3 432.5,46.3 436.3,47.5 401.2,47.5" fill="#b5d4ec" stroke="#b5d4ec" stroke-width="0.5"/>
<polygon points="326.5,47.5 341.7,47.5 338.3,49.2 321.8,49.2" fill="#b5d4ec" stroke="#b5d4ec" stroke-width="0.5"/>
<polygon points="341.7,47.5 364.6,47.5 363.2,49.2 338.3,49.2" fill="#a6cae8" stroke="#a6cae8" stroke-width="0.5"/>
<polygon points="364.6,47.5 366.1,47.5 364.8,49.2 363.2,49.2" fill="#85b4de" stroke="#85b4de" stroke-width="0.5"/>
<polygon points="366.1,47.5 367.7,47.5 366.5,49.2 364.8,49.2" fill="#4d8dca" stroke="#4d8dca" stroke-width="0.5"/>
<polygon points="367.7,47.5 398.2,47.5 399.6,49.2 366.5,49.2" fill="#3272b6" stroke="#3272b6" stroke-width="0.5"/>
<polygon points="398.2,47.5 399.7,47.5 401.3,49.2 399.6,49.2" fill="#609ad1" stroke="#609ad1" stroke-width="0.5"/>
<polygon points="399.7,47.5 401.2,47.5 402.9,49.2 401.3,49.2" fill="#98c0e4" stroke="#98c0e4" stroke-width="0.5"/>
<polygon points="401.2,47.5 436.3,47.5 441,49.2 402.9,49.2" fill="#b5d4ec" stroke="#b5d4ec" stroke-width="0.5"/>
<polygon points="321.8,49.2 333.4,49.2 329.3,51.5 316.8,51.5" fill="#c0dcee" stroke="#c0dcee" stroke-width="0.5"/>
<polygon points="333.4,49.2 335,49.2 331.1,51.5 329.3,51.5" fill="#b5d4ec" stroke="#b5d4ec" stroke-width="0.5"/>
<polygon points="335,49.2 336.7,49.2 332.9,51.5 331.1,51.5" fill="#a6cae8" stroke="#a6cae8" stroke-width="0.5"/>
<polygon points="336.7,49.2 338.3,49.2 334.7,51.5 332.9,51.5" fill="#98c0e4" stroke="#98c0e4" stroke-width="0.5"/>
<polygon points="338.3,49.2 340,49.2 336.5,51.5 334.7,51.5" fill="#85b4de" stroke="#85b4de" stroke-width="0.5"/>
<polygon points="340,49.2 363.2,49.2 361.7,51.5 336.5,51.5" fill="#72a8d8" stroke="#72a8d8" stroke-width="0.5"/>
<polygon points="363.2,49.2 364.8,49.2 363.4,51.5 361.7,51.5" fill="#4d8dca" stroke="#4d8dca" stroke-width="0.5"/>
<polygon points="364.8,49.2 366.5,49.2 365.2,51.5 363.4,51.5" fill="#2866aa" stroke="#2866aa" stroke-width="0.5"/>
<polygon points="366.5,49.2 368.1,49.2 367,51.5 365.2,51.5" fill="#1f599f" stroke="#1f599f" stroke-width="0.5"/>
<polygon points="368.1,49.2 369.8,49.2 368.8,51.5 367,51.5" fill="#2866aa" stroke="#2866aa" stroke-width="0.5"/>
<polygon points="369.8,49.2 371.5,49.2 370.6,51.5 368.8,51.5" fill="#3272b6" stroke="#3272b6" stroke-width="0.5"/>
<polygon points="371.5,49.2 381.4,49.2 381.4,51.5 370.6,51.5" fill="#4080c0" stroke="#4080c0" stroke-width="0.5"/>
<polygon points="381.4,49.2 383.1,49.2 383.2,51.5 381.4,51.5" fill="#2866aa" stroke="#2866aa" stroke-width="0.5"/>
<polygon points="383.1,49.2 384.7,49.2 385,51.5 383.2,51.5" fill="#124688" stroke="#124688" stroke-width="0.5"/>
<polygon points="384.7,49.2 398,49.2 399.4,51.5 385,51.5" fill="#0a356f" stroke="#0a356f" stroke-width="0.5"/>
<polygon points="398,49.2 399.6,49.2 401.1,51.5 399.4,51.5" fill="#124688" stroke="#124688" stroke-width="0.5"/>
<polygon points="399.6,49.2 401.3,49.2 402.9,51.5 401.1,51.5" fill="#4080c0" stroke="#4080c0" stroke-width="0.5"/>
<polygon points="401.3,49.2 402.9,49.2 404.7,51.5 402.9,51.5" fill="#98c0e4" stroke="#98c0e4" stroke-width="0.5"/>
<polygon points="402.9,49.2 404.6,49.2 406.5,51.5 404.7,51.5" fill="#b5d4ec" stroke="#b5d4ec" stroke-width="0.5"/>
<polygon points="404.6,49.2 441,49.2 446,51.5 406.5,51.5" fill="#c0dcee" stroke="#c0dcee" stroke-width="0.5"/>
<polygon points="316.8,51.5 331.1,51.5 327.7,53.9 312.4,53.9" fill="#d6ebf3" stroke="#d6ebf3" stroke-width="0.5"/>
<polygon points="331.1,51.5 332.9,51.5 329.7,53.9 327.7,53.9" fill="#cce4f1" stroke="#cce4f1" stroke-width="0.5"/>
<polygon points="332.9,51.5 334.7,51.5 331.6,53.9 329.7,53.9" fill="#b5d4ec" stroke="#b5d4ec" stroke-width="0.5"/>
<polygon points="334.7,51.5 338.3,51.5 335.4,53.9 331.6,53.9" fill="#98c0e4" stroke="#98c0e4" stroke-width="0.5"/>
<polygon points="338.3,51.5 340.1,51.5 337.3,53.9 335.4,53.9" fill="#85b4de" stroke="#85b4de" stroke-width="0.5"/>
<polygon points="340.1,51.5 341.9,51.5 339.2,53.9 337.3,53.9" fill="#4d8dca" stroke="#4d8dca" stroke-width="0.5"/>
<polygon points="341.9,51.5 358.1,51.5 356.5,53.9 339.2,53.9" fill="#3272b6" stroke="#3272b6" stroke-width="0.5"/>
<polygon points="358.1,51.5 359.9,51.5 358.4,53.9 356.5,53.9" fill="#609ad1" stroke="#609ad1" stroke-width="0.5"/>
<polygon points="359.9,51.5 361.7,51.5 360.3,53.9 358.4,53.9" fill="#98c0e4" stroke="#98c0e4" stroke-width="0.5"/>
<polygon points="361.7,51.5 363.4,51.5 362.2,53.9 360.3,53.9" fill="#72a8d8" stroke="#72a8d8" stroke-width="0.5"/>
<polygon points="363.4,51.5 365.2,51.5 364.2,53.9 362.2,53.9" fill="#4080c0" stroke="#4080c0" stroke-width="0.5"/>
<polygon points="365.2,51.5 367,51.5 366.1,53.9 364.2,53.9" fill="#3272b6" stroke="#3272b6" stroke-width="0.5"/>
<polygon points="367,51.5 368.8,51.5 368,53.9 366.1,53.9" fill="#4d8dca" stroke="#4d8dca" stroke-width="0.5"/>
<polygon points="368.8,51.5 381.4,51.5 381.4,53.9 368,53.9" fill="#609ad1" stroke="#609ad1" stroke-width="0.5"/>
<polygon points="381.4,51.5 383.2,51.5 383.3,53.9 381.4,53.9" fill="#4080c0" stroke="#4080c0" stroke-width="0.5"/>
<polygon points="383.2,51.5 385,51.5 385.2,53.9 383.3,53.9" fill="#1f599f" stroke="#1f599f" stroke-width="0.5"/>
<polygon points="385,51.5 399.4,51.5 400.6,53.9 385.2,53.9" fill="#124688" stroke="#124688" stroke-width="0.5"/>
<polygon points="399.4,51.5 401.1,51.5 402.5,53.9 400.6,53.9" fill="#1f599f" stroke="#1f599f" stroke-width="0.5"/>
<polygon points="401.1,51.5 402.9,51.5 404.4,53.9 402.5,53.9" fill="#72a8d8" stroke="#72a8d8" stroke-width="0.5"/>
<polygon points="402.9,51.5 404.7,51.5 406.3,53.9 404.4,53.9" fill="#c0dcee" stroke="#c0dcee" stroke-width="0.5"/>
<polygon points="404.7,51.5 446,51.5 450.4,53.9 406.3,53.9" fill="#d6ebf3" stroke="#d6ebf3" stroke-width="0.5"/>
<polygon points="312.4,53.9 327.7,53.9 324.7,56.5 308.5,56.5" fill="#d6ebf3" stroke="#d6ebf3" stroke-width="0.5"/>
<polygon points="327.7,53.9 329.7,53.9 326.7,56.5 324.7,56.5" fill="#cce4f1" stroke="#cce4f1" stroke-width="0.5"/>
<polygon points="329.7,53.9 331.6,53.9 328.7,56.5 326.7,56.5" fill="#b5d4ec" stroke="#b5d4ec" stroke-width="0.5"/>
<polygon points="331.6,53.9 335.4,53.9 332.8,56.5 328.7,56.5" fill="#98c0e4" stroke="#98c0e4" stroke-width="0.5"/>
<polygon points="335.4,53.9 337.3,53.9 334.8,56.5 332.8,56.5" fill="#72a8d8" stroke="#72a8d8" stroke-width="0.5"/>
<polygon points="337.3,53.9 339.2,53.9 336.8,56.5 334.8,56.5" fill="#0e3e7c" stroke="#0e3e7c" stroke-width="0.5"/>
<polygon points="339.2,53.9 356.5,53.9 355.1,56.5 336.8,56.5" fill="#0a356f" stroke="#0a356f" stroke-width="0.5"/>
<polygon points="356.5,53.9 358.4,53.9 357.1,56.5 355.1,56.5" fill="#2866aa" stroke="#2866aa" stroke-width="0.5"/>
<polygon points="358.4,53.9 360.3,53.9 359.1,56.5 357.1,56.5" fill="#85b4de" stroke="#85b4de" stroke-width="0.5"/>
<polygon points="360.3,53.9 362.2,53.9 361.1,56.5 359.1,56.5" fill="#72a8d8" stroke="#72a8d8" stroke-width="0.5"/>
<polygon points="362.2,53.9 364.2,53.9 363.2,56.5 361.1,56.5" fill="#4080c0" stroke="#4080c0" stroke-width="0.5"/>
<polygon points="364.2,53.9 366.1,53.9 365.2,56.5 363.2,56.5" fill="#3272b6" stroke="#3272b6" stroke-width="0.5"/>
<polygon points="366.1,53.9 368,53.9 367.2,56.5 365.2,56.5" fill="#4d8dca" stroke="#4d8dca" stroke-width="0.5"/>
<polygon points="368,53.9 381.4,53.9 381.4,56.5 367.2,56.5" fill="#609ad1" stroke="#609ad1" stroke-width="0.5"/>
<polygon points="381.4,53.9 383.3,53.9 383.4,56.5 381.4,56.5" fill="#4080c0" stroke="#4080c0" stroke-width="0.5"/>
<polygon points="383.3,53.9 385.2,53.9 385.5,56.5 383.4,56.5" fill="#1f599f" stroke="#1f599f" stroke-width="0.5"/>
<polygon points="385.2,53.9 400.6,53.9 401.7,56.5 385.5,56.5" fill="#124688" stroke="#124688" stroke-width="0.5"/>
<polygon points="400.6,53.9 402.5,53.9 403.7,56.5 401.7,56.5" fill="#1f599f" stroke="#1f599f" stroke-width="0.5"/>
<polygon points="402.5,53.9 404.4,53.9 405.7,56.5 403.7,56.5" fill="#72a8d8" stroke="#72a8d8" stroke-width="0.5"/>
<polygon points="404.4,53.9 406.3,53.9 407.7,56.5 405.7,56.5" fill="#c0dcee" stroke="#c0dcee" stroke-width="0.5"/>
<polygon points="406.3,53.9 450.4,53.9 454.3,56.5 407.7,56.5" fill="#d6ebf3" stroke="#d6ebf3" stroke-width="0.5"/>
<polygon points="308.5,56.5 324.7,56.5 321.8,59.2 304.7,59.2" fill="#d6ebf3" stroke="#d6ebf3" stroke-width="0.5"/>
<polygon points="324.7,56.5 326.7,56.5 323.9,59.2 321.8,59.2" fill="#cce4f1" stroke="#cce4f1" stroke-width="0.5"/>
<polygon points="326.7,56.5 328.7,56.5 326,59.2 323.9,59.2" fill="#b5d4ec" stroke="#b5d4ec" stroke-width="0.5"/>
<polygon points="328.7,56.5 332.8,56.5 330.3,59.2 326,59.2" fill="#98c0e4" stroke="#98c0e4" stroke-width="0.5"/>
<polygon points="332.8,56.5 334.8,56.5 332.4,59.2 330.3,59.2" fill="#72a8d8" stroke="#72a8d8" stroke-width="0.5"/>
<polygon points="334.8,56.5 336.8,56.5 334.5,59.2 332.4,59.2" fill="#0e3e7c" stroke="#0e3e7c" stroke-width="0.5"/>
<polygon points="336.8,56.5 355.1,56.5 353.7,59.2 334.5,59.2" fill="#0a356f" stroke="#0a356f" stroke-width="0.5"/>
<polygon points="355.1,56.5 357.1,56.5 355.8,59.2 353.7,59.2" fill="#2866aa" stroke="#2866aa" stroke-width="0.5"/>
<polygon points="357.1,56.5 359.1,56.5 358,59.2 355.8,59.2" fill="#85b4de" stroke="#85b4de" stroke-width="0.5"/>
<polygon points="359.1,56.5 361.1,56.5 360.1,59.2 358,59.2" fill="#72a8d8" stroke="#72a8d8" stroke-width="0.5"/>
<polygon points="361.1,56.5 365.2,56.5 364.4,59.2 360.1,59.2" fill="#609ad1" stroke="#609ad1" stroke-width="0.5"/>
<polygon points="365.2,56.5 367.2,56.5 366.5,59.2 364.4,59.2" fill="#85b4de" stroke="#85b4de" stroke-width="0.5"/>
<polygon points="367.2,56.5 381.4,56.5 381.4,59.2 366.5,59.2" fill="#98c0e4" stroke="#98c0e4" stroke-width="0.5"/>
<polygon points="381.4,56.5 383.4,56.5 383.5,59.2 381.4,59.2" fill="#72a8d8" stroke="#72a8d8" stroke-width="0.5"/>
<polygon points="383.4,56.5 385.5,56.5 385.7,59.2 383.5,59.2" fill="#4080c0" stroke="#4080c0" stroke-width="0.5"/>
<polygon points="385.5,56.5 401.7,56.5 402.7,59.2 385.7,59.2" fill="#3272b6" stroke="#3272b6" stroke-width="0.5"/>
<polygon points="401.7,56.5 403.7,56.5 404.8,59.2 402.7,59.2" fill="#4d8dca" stroke="#4d8dca" stroke-width="0.5"/>
<polygon points="403.7,56.5 405.7,56.5 407,59.2 404.8,59.2" fill="#98c0e4" stroke="#98c0e4" stroke-width="0.5"/>
<polygon points="405.7,56.5 407.7,56.5 409.1,59.2 407,59.2" fill="#cce4f1" stroke="#cce4f1" stroke-width="0.5"/>
<polygon points="407.7,56.5 454.3,56.5 458.1,59.2 409.1,59.2" fill="#d6ebf3" stroke="#d6ebf3" stroke-width="0.5"/>
<polygon points="304.7,59.2 306.9,59.2 303.5,62 301.2,62" fill="#d6ebf3" stroke="#d6ebf3" stroke-width="0.5"/>
<polygon points="306.9,59.2 321.8,59.2 319.1,62 303.5,62" fill="#cce4f1" stroke="#cce4f1" stroke-width="0.5"/>
<polygon points="321.8,59.2 323.9,59.2 321.3,62 319.1,62" fill="#c0dcee" stroke="#c0dcee" stroke-width="0.5"/>
<polygon points="323.9,59.2 326,59.2 323.5,62 321.3,62" fill="#a6cae8" stroke="#a6cae8" stroke-width="0.5"/>
<polygon points="326,59.2 330.3,59.2 328,62 323.5,62" fill="#98c0e4" stroke="#98c0e4" stroke-width="0.5"/>
<polygon points="330.3,59.2 332.4,59.2 330.2,62 328,62" fill="#72a8d8" stroke="#72a8d8" stroke-width="0.5"/>
<polygon points="332.4,59.2 334.5,59.2 332.4,62 330.2,62" fill="#0e3e7c" stroke="#0e3e7c" stroke-width="0.5"/>
<polygon points="334.5,59.2 353.7,59.2 352.5,62 332.4,62" fill="#0a356f" stroke="#0a356f" stroke-width="0.5"/>
<polygon points="353.7,59.2 355.8,59.2 354.7,62 352.5,62" fill="#1f599f" stroke="#1f599f" stroke-width="0.5"/>
<polygon points="355.8,59.2 362.2,59.2 361.4,62 354.7,62" fill="#85b4de" stroke="#85b4de" stroke-width="0.5"/>
<polygon points="362.2,59.2 364.4,59.2 363.6,62 361.4,62" fill="#a6cae8" stroke="#a6cae8" stroke-width="0.5"/>
<polygon points="364.4,59.2 366.5,59.2 365.8,62 363.6,62" fill="#b5d4ec" stroke="#b5d4ec" stroke-width="0.5"/>
<polygon points="366.5,59.2 381.4,59.2 381.4,62 365.8,62" fill="#cce4f1" stroke="#cce4f1" stroke-width="0.5"/>
<polygon points="381.4,59.2 458.1,59.2 461.6,62 381.4,62" fill="#d6ebf3" stroke="#d6ebf3" stroke-width="0.5"/>
<polygon points="301.2,62 303.5,62 300.4,64.9 298.1,64.9" fill="#c0dcee" stroke="#c0dcee" stroke-width="0.5"/>
<polygon points="303.5,62 319.1,62 316.6,64.9 300.4,64.9" fill="#b5d4ec" stroke="#b5d4ec" stroke-width="0.5"/>
<polygon points="319.1,62 321.3,62 318.9,64.9 316.6,64.9" fill="#a6cae8" stroke="#a6cae8" stroke-width="0.5"/>
<polygon points="321.3,62 323.5,62 321.2,64.9 318.9,64.9" fill="#98c0e4" stroke="#98c0e4" stroke-width="0.5"/>
<polygon points="323.5,62 325.7,62 323.5,64.9 321.2,64.9" fill="#85b4de" stroke="#85b4de" stroke-width="0.5"/>
<polygon points="325.7,62 328,62 325.9,64.9 323.5,64.9" fill="#98c0e4" stroke="#98c0e4" stroke-width="0.5"/>
<polygon points="328,62 330.2,62 328.2,64.9 325.9,64.9" fill="#72a8d8" stroke="#72a8d8" stroke-width="0.5"/>
<polygon points="330.2,62 332.4,62 330.5,64.9 328.2,64.9" fill="#0e3e7c" stroke="#0e3e7c" stroke-width="0.5"/>
<polygon points="332.4,62 352.5,62 351.3,64.9 330.5,64.9" fill="#0a356f" stroke="#0a356f" stroke-width="0.5"/>
<polygon points="352.5,62 354.7,62 353.6,64.9 351.3,64.9" fill="#1f599f" stroke="#1f599f" stroke-width="0.5"/>
<polygon points="354.7,62 361.4,62 360.6,64.9 353.6,64.9" fill="#85b4de" stroke="#85b4de" stroke-width="0.5"/>
<polygon points="361.4,62 363.6,62 362.9,64.9 360.6,64.9" fill="#98c0e4" stroke="#98c0e4" stroke-width="0.5"/>
<polygon points="363.6,62 365.8,62 365.2,64.9 362.9,64.9" fill="#b5d4ec" stroke="#b5d4ec" stroke-width="0.5"/>
<polygon points="365.8,62 368,62 367.5,64.9 365.2,64.9" fill="#c0dcee" stroke="#c0dcee" stroke-width="0.5"/>
<polygon points="368,62 381.4,62 381.4,64.9 367.5,64.9" fill="#cce4f1" stroke="#cce4f1" stroke-width="0.5"/>
<polygon points="381.4,62 457.1,62 460.1,64.9 381.4,64.9" fill="#d6ebf3" stroke="#d6ebf3" stroke-width="0.5"/>
<polygon points="457.1,62 461.6,62 464.7,64.9 460.1,64.9" fill="#cce4f1" stroke="#cce4f1" stroke-width="0.5"/>
<polygon points="298.1,64.9 314.3,64.9 312.1,67.8 295.4,67.8" fill="#b5d4ec" stroke="#b5d4ec" stroke-width="0.5"/>
<polygon points="314.3,64.9 316.6,64.9 314.5,67.8 312.1,67.8" fill="#a6cae8" stroke="#a6cae8" stroke-width="0.5"/>
<polygon points="316.6,64.9 318.9,64.9 316.9,67.8 314.5,67.8" fill="#98c0e4" stroke="#98c0e4" stroke-width="0.5"/>
<polygon points="318.9,64.9 323.5,64.9 321.7,67.8 316.9,67.8" fill="#85b4de" stroke="#85b4de" stroke-width="0.5"/>
<polygon points="323.5,64.9 325.9,64.9 324,67.8 321.7,67.8" fill="#98c0e4" stroke="#98c0e4" stroke-width="0.5"/>
<polygon points="325.9,64.9 328.2,64.9 326.4,67.8 324,67.8" fill="#72a8d8" stroke="#72a8d8" stroke-width="0.5"/>
<polygon points="328.2,64.9 330.5,64.9 328.8,67.8 326.4,67.8" fill="#185094" stroke="#185094" stroke-width="0.5"/>
<polygon points="330.5,64.9 351.3,64.9 350.3,67.8 328.8,67.8" fill="#0a356f" stroke="#0a356f" stroke-width="0.5"/>
<polygon points="351.3,64.9 353.6,64.9 352.7,67.8 350.3,67.8" fill="#3272b6" stroke="#3272b6" stroke-width="0.5"/>
<polygon points="353.6,64.9 360.6,64.9 359.9,67.8 352.7,67.8" fill="#85b4de" stroke="#85b4de" stroke-width="0.5"/>
<polygon points="360.6,64.9 362.9,64.9 362.3,67.8 359.9,67.8" fill="#98c0e4" stroke="#98c0e4" stroke-width="0.5"/>
<polygon points="362.9,64.9 365.2,64.9 364.7,67.8 362.3,67.8" fill="#b5d4ec" stroke="#b5d4ec" stroke-width="0.5"/>
<polygon points="365.2,64.9 367.5,64.9 367.1,67.8 364.7,67.8" fill="#c0dcee" stroke="#c0dcee" stroke-width="0.5"/>
<polygon points="367.5,64.9 381.4,64.9 381.4,67.8 367.1,67.8" fill="#cce4f1" stroke="#cce4f1" stroke-width="0.5"/>
<polygon points="381.4,64.9 441.6,64.9 443.5,67.8 381.4,67.8" fill="#d6ebf3" stroke="#d6ebf3" stroke-width="0.5"/>
<polygon points="441.6,64.9 443.9,64.9 445.9,67.8 443.5,67.8" fill="#cce4f1" stroke="#cce4f1" stroke-width="0.5"/>
<polygon points="443.9,64.9 464.7,64.9 467.4,67.8 445.9,67.8" fill="#c0dcee" stroke="#c0dcee" stroke-width="0.5"/>
<polygon points="295.4,67.8 314.5,67.8 312.6,70.8 292.9,70.8" fill="#b5d4ec" stroke="#b5d4ec" stroke-width="0.5"/>
<polygon points="314.5,67.8 316.9,67.8 315,70.8 312.6,70.8" fill="#98c0e4" stroke="#98c0e4" stroke-width="0.5"/>
<polygon points="316.9,67.8 319.3,67.8 317.5,70.8 315,70.8" fill="#85b4de" stroke="#85b4de" stroke-width="0.5"/>
<polygon points="319.3,67.8 321.7,67.8 320,70.8 317.5,70.8" fill="#98c0e4" stroke="#98c0e4" stroke-width="0.5"/>
<polygon points="321.7,67.8 352.7,67.8 351.9,70.8 320,70.8" fill="#a6cae8" stroke="#a6cae8" stroke-width="0.5"/>
<polygon points="352.7,67.8 359.9,67.8 359.3,70.8 351.9,70.8" fill="#98c0e4" stroke="#98c0e4" stroke-width="0.5"/>
<polygon points="359.9,67.8 362.3,67.8 361.7,70.8 359.3,70.8" fill="#a6cae8" stroke="#a6cae8" stroke-width="0.5"/>
<polygon points="362.3,67.8 364.7,67.8 364.2,70.8 361.7,70.8" fill="#c0dcee" stroke="#c0dcee" stroke-width="0.5"/>
<polygon points="364.7,67.8 381.4,67.8 381.4,70.8 364.2,70.8" fill="#cce4f1" stroke="#cce4f1" stroke-width="0.5"/>
<polygon points="381.4,67.8 441.1,67.8 442.8,70.8 381.4,70.8" fill="#d6ebf3" stroke="#d6ebf3" stroke-width="0.5"/>
<polygon points="441.1,67.8 443.5,67.8 445.3,70.8 442.8,70.8" fill="#cce4f1" stroke="#cce4f1" stroke-width="0.5"/>
<polygon points="443.5,67.8 465,67.8 467.4,70.8 445.3,70.8" fill="#c0dcee" stroke="#c0dcee" stroke-width="0.5"/>
<polygon points="465,67.8 467.4,67.8 469.9,70.8 467.4,70.8" fill="#b5d4ec" stroke="#b5d4ec" stroke-width="0.5"/>
<polygon points="292.9,70.8 312.6,70.8 311,73.8 290.9,73.8" fill="#b5d4ec" stroke="#b5d4ec" stroke-width="0.5"/>
<polygon points="312.6,70.8 315,70.8 313.5,73.8 311,73.8" fill="#a6cae8" stroke="#a6cae8" stroke-width="0.5"/>
<polygon points="315,70.8 317.5,70.8 316,73.8 313.5,73.8" fill="#b5d4ec" stroke="#b5d4ec" stroke-width="0.5"/>
<polygon points="317.5,70.8 320,70.8 318.6,73.8 316,73.8" fill="#c0dcee" stroke="#c0dcee" stroke-width="0.5"/>
<polygon points="320,70.8 361.7,70.8 361.3,73.8 318.6,73.8" fill="#cce4f1" stroke="#cce4f1" stroke-width="0.5"/>
<polygon points="361.7,70.8 442.8,70.8 444.2,73.8 361.3,73.8" fill="#d6ebf3" stroke="#d6ebf3" stroke-width="0.5"/>
<polygon points="442.8,70.8 445.3,70.8 446.8,73.8 444.2,73.8" fill="#cce4f1" stroke="#cce4f1" stroke-width="0.5"/>
<polygon points="445.3,70.8 467.4,70.8 469.4,73.8 446.8,73.8" fill="#c0dcee" stroke="#c0dcee" stroke-width="0.5"/>
<polygon points="467.4,70.8 469.9,70.8 471.9,73.8 469.4,73.8" fill="#b5d4ec" stroke="#b5d4ec" stroke-width="0.5"/>
<polygon points="290.9,73.8 313.5,73.8 312.3,76.8 289.2,76.8" fill="#b5d4ec" stroke="#b5d4ec" stroke-width="0.5"/>
<polygon points="313.5,73.8 316,73.8 314.8,76.8 312.3,76.8" fill="#c0dcee" stroke="#c0dcee" stroke-width="0.5"/>
<polygon points="316,73.8 318.6,73.8 317.4,76.8 314.8,76.8" fill="#cce4f1" stroke="#cce4f1" stroke-width="0.5"/>
<polygon points="318.6,73.8 444.2,73.8 445.4,76.8 317.4,76.8" fill="#d6ebf3" stroke="#d6ebf3" stroke-width="0.5"/>
<polygon points="444.2,73.8 449.3,73.8 450.5,76.8 445.4,76.8" fill="#cce4f1" stroke="#cce4f1" stroke-width="0.5"/>
<polygon points="449.3,73.8 471.9,73.8 473.6,76.8 450.5,76.8" fill="#c0dcee" stroke="#c0dcee" stroke-width="0.5"/>
<polygon points="289.2,76.8 312.3,76.8 311.3,79.8 288,79.8" fill="#cce4f1" stroke="#cce4f1" stroke-width="0.5"/>
<polygon points="312.3,76.8 448,76.8 448.9,79.8 311.3,79.8" fill="#d6ebf3" stroke="#d6ebf3" stroke-width="0.5"/>
<polygon points="448,76.8 473.6,76.8 474.8,79.8 448.9,79.8" fill="#cce4f1" stroke="#cce4f1" stroke-width="0.5"/>
<polygon points="288,79.8 474.8,79.8 475.7,82.8 287.1,82.8" fill="#d6ebf3" stroke="#d6ebf3" stroke-width="0.5"/>
<polygon points="287.1,82.8 360.4,82.8 360.3,85.9 286.4,85.9" fill="#d6ebf3" stroke="#d6ebf3" stroke-width="0.5"/>
<polygon points="360.4,82.8 439,82.8 439.5,85.9 360.3,85.9" fill="#e0f1f5" stroke="#e0f1f5" stroke-width="0.5"/>
<polygon points="439,82.8 475.7,82.8 476.4,85.9 439.5,85.9" fill="#d6ebf3" stroke="#d6ebf3" stroke-width="0.5"/>
<polygon points="286.4,85.9 357.6,85.9 357.5,88.9 285.8,88.9" fill="#d6ebf3" stroke="#d6ebf3" stroke-width="0.5"/>
<polygon points="357.6,85.9 442.1,85.9 442.5,88.9 357.5,88.9" fill="#e0f1f5" stroke="#e0f1f5" stroke-width="0.5"/>
<polygon points="442.1,85.9 476.4,85.9 477,88.9 442.5,88.9" fill="#d6ebf3" stroke="#d6ebf3" stroke-width="0.5"/>
<polygon points="285.8,88.9 357.5,88.9 357.4,91.9 285.5,91.9" fill="#d6ebf3" stroke="#d6ebf3" stroke-width="0.5"/>
<polygon points="357.5,88.9 442.5,88.9 442.6,91.9 357.4,91.9" fill="#e0f1f5" stroke="#e0f1f5" stroke-width="0.5"/>
<polygon points="442.5,88.9 477,88.9 477.3,91.9 442.6,91.9" fill="#d6ebf3" stroke="#d6ebf3" stroke-width="0.5"/>
<polygon points="285.5,91.9 357.4,91.9 357.4,94.9 285.4,94.9" fill="#d6ebf3" stroke="#d6ebf3" stroke-width="0.5"/>
<polygon points="357.4,91.9 442.6,91.9 442.7,94.9 357.4,94.9" fill="#e0f1f5" stroke="#e0f1f5" stroke-width="0.5"/>
<polygon points="442.6,91.9 477.3,91.9 477.4,94.9 442.7,94.9" fill="#d6ebf3" stroke="#d6ebf3" stroke-width="0.5"/>
<polygon points="285.4,94.9 357.4,94.9 357.4,97.9 285.5,97.9" fill="#d6ebf3" stroke="#d6ebf3" stroke-width="0.5"/>
<polygon points="357.4,94.9 442.7,94.9 442.6,97.9 357.4,97.9" fill="#e0f1f5" stroke="#e0f1f5" stroke-width="0.5"/>
<polygon points="442.7,94.9 477.4,94.9 477.3,97.9 442.6,97.9" fill="#d6ebf3" stroke="#d6ebf3" stroke-width="0.5"/>
<polygon points="285.5,97.9 357.4,97.9 357.5,100.9 285.8,100.9" fill="#d6ebf3" stroke="#d6ebf3" stroke-width="0.5"/>
<polygon points="357.4,97.9 442.6,97.9 442.5,100.9 357.5,100.9" fill="#e0f1f5" stroke="#e0f1f5" stroke-width="0.5"/>
<polygon points="442.6,97.9 477.3,97.9 477,100.9 442.5,100.9" fill="#d6ebf3" stroke="#d6ebf3" stroke-width="0.5"/>
<polygon points="285.8,100.9 357.5,100.9 357.6,103.9 286.4,103.9" fill="#d6ebf3" stroke="#d6ebf3" stroke-width="0.5"/>
<polygon points="357.5,100.9 442.5,100.9 442.1,103.9 357.6,103.9" fill="#e0f1f5" stroke="#e0f1f5" stroke-width="0.5"/>
<polygon points="442.5,100.9 477,100.9 476.4,103.9 442.1,103.9" fill="#d6ebf3" stroke="#d6ebf3" stroke-width="0.5"/>
<polygon points="286.4,103.9 357.6,103.9 357.8,107 287.1,107" fill="#d6ebf3" stroke="#d6ebf3" stroke-width="0.5"/>
<polygon points="357.6,103.9 442.1,103.9 441.6,107 357.8,107" fill="#e0f1f5" stroke="#e0f1f5" stroke-width="0.5"/>
<polygon points="442.1,103.9 476.4,103.9 475.7,107 441.6,107" fill="#d6ebf3" stroke="#d6ebf3" stroke-width="0.5"/>
<polygon points="287.1,107 357.8,107 358,110 288,110" fill="#d6ebf3" stroke="#d6ebf3" stroke-width="0.5"/>
<polygon points="357.8,107 441.6,107 441.1,110 358,110" fill="#e0f1f5" stroke="#e0f1f5" stroke-width="0.5"/>
<polygon points="441.6,107 475.7,107 474.8,110 441.1,110" fill="#d6ebf3" stroke="#d6ebf3" stroke-width="0.5"/>
<polygon points="288,110 355.5,110 355.8,113 289.2,113" fill="#d6ebf3" stroke="#d6ebf3" stroke-width="0.5"/>
<polygon points="355.5,110 443.7,110 442.8,113 355.8,113" fill="#e0f1f5" stroke="#e0f1f5" stroke-width="0.5"/>
<polygon points="443.7,110 474.8,110 473.6,113 442.8,113" fill="#d6ebf3" stroke="#d6ebf3" stroke-width="0.5"/>
<polygon points="289.2,113 366,113 366.3,116 290.9,116" fill="#e0f1f5" stroke="#e0f1f5" stroke-width="0.5"/>
<polygon points="366,113 432.6,113 431.7,116 366.3,116" fill="#ebf6f8" stroke="#ebf6f8" stroke-width="0.5"/>
<polygon points="432.6,113 473.6,113 471.9,116 431.7,116" fill="#e0f1f5" stroke="#e0f1f5" stroke-width="0.5"/>
<polygon points="290.9,116 366.3,116 366.7,119 292.9,119" fill="#e0f1f5" stroke="#e0f1f5" stroke-width="0.5"/>
<polygon points="366.3,116 431.7,116 430.6,119 366.7,119" fill="#ebf6f8" stroke="#ebf6f8" stroke-width="0.5"/>
<polygon points="431.7,116 471.9,116 469.9,119 430.6,119" fill="#e0f1f5" stroke="#e0f1f5" stroke-width="0.5"/>
<polygon points="292.9,119 469.9,119 467.4,122 295.4,122" fill="#e0f1f5" stroke="#e0f1f5" stroke-width="0.5"/>
<polygon points="295.4,122 467.4,122 464.7,124.9 298.1,124.9" fill="#e0f1f5" stroke="#e0f1f5" stroke-width="0.5"/>
<polygon points="298.1,124.9 464.7,124.9 461.6,127.8 301.2,127.8" fill="#e0f1f5" stroke="#e0f1f5" stroke-width="0.5"/>
<polygon points="301.2,127.8 461.6,127.8 458.1,130.6 304.7,130.6" fill="#e0f1f5" stroke="#e0f1f5" stroke-width="0.5"/>
<polygon points="304.7,130.6 458.1,130.6 454.3,133.3 308.5,133.3" fill="#e0f1f5" stroke="#e0f1f5" stroke-width="0.5"/>
<polygon points="308.5,133.3 454.3,133.3 450.4,135.9 312.4,135.9" fill="#d6ebf3" stroke="#d6ebf3" stroke-width="0.5"/>
<polygon points="312.4,135.9 450.4,135.9 446,138.3 316.8,138.3" fill="#cce4f1" stroke="#cce4f1" stroke-width="0.5"/>
<polygon points="316.8,138.3 446,138.3 441,140.6 321.8,140.6" fill="#cce4f1" stroke="#cce4f1" stroke-width="0.5"/>
<polygon points="321.8,140.6 441,140.6 436.3,142.3 326.5,142.3" fill="#cce4f1" stroke="#cce4f1" stroke-width="0.5"/>
<polygon points="326.5,142.3 436.3,142.3 432.5,143.5 330.3,143.5" fill="#cce4f1" stroke="#cce4f1" stroke-width="0.5"/>
<g fill="none" stroke="#6e6e6e" stroke-width="1.25" stroke-dasharray="0.01 4.6" stroke-linecap="round"><polyline points="338.3,138.3 335.4,135.9 332.8,133.3 330.3,130.6 328,127.8 325.9,124.9 324,122 322.4,119 321.1,116 320,113 319.1,110 318.5,107 318,103.9 317.7,100.9 317.5,97.9 317.4,94.9 317.5,91.9 317.7,88.9 318,85.9 318.5,82.8 319.1,79.8 320,76.8 321.1,73.8 322.4,70.8 324,67.8 325.9,64.9 328,62 330.3,59.2 332.8,56.5 335.4,53.9 338.3,51.5"/>
<polyline points="359.9,138.3 358.4,135.9 357.1,133.3 355.8,130.6 354.7,127.8 353.6,124.9 352.7,122 351.9,119 351.2,116 350.7,113 350.3,110 350,107 349.7,103.9 349.5,100.9 349.4,97.9 349.4,94.9 349.4,91.9 349.5,88.9 349.7,85.9 350,82.8 350.3,79.8 350.7,76.8 351.2,73.8 351.9,70.8 352.7,67.8 353.6,64.9 354.7,62 355.8,59.2 357.1,56.5 358.4,53.9 359.9,51.5"/>
<polyline points="381.4,138.3 381.4,135.9 381.4,133.3 381.4,130.6 381.4,127.8 381.4,124.9 381.4,122 381.4,119 381.4,116 381.4,113 381.4,110 381.4,107 381.4,103.9 381.4,100.9 381.4,97.9 381.4,94.9 381.4,91.9 381.4,88.9 381.4,85.9 381.4,82.8 381.4,79.8 381.4,76.8 381.4,73.8 381.4,70.8 381.4,67.8 381.4,64.9 381.4,62 381.4,59.2 381.4,56.5 381.4,53.9 381.4,51.5"/>
<polyline points="402.9,138.3 404.4,135.9 405.7,133.3 407,130.6 408.1,127.8 409.2,124.9 410.1,122 410.9,119 411.6,116 412.1,113 412.5,110 412.8,107 413.1,103.9 413.3,100.9 413.4,97.9 413.4,94.9 413.4,91.9 413.3,88.9 413.1,85.9 412.8,82.8 412.5,79.8 412.1,76.8 411.6,73.8 410.9,70.8 410.1,67.8 409.2,64.9 408.1,62 407,59.2 405.7,56.5 404.4,53.9 402.9,51.5"/>
<polyline points="424.5,138.3 427.4,135.9 430,133.3 432.5,130.6 434.8,127.8 436.9,124.9 438.8,122 440.4,119 441.7,116 442.8,113 443.7,110 444.3,107 444.8,103.9 445.1,100.9 445.3,97.9 445.4,94.9 445.3,91.9 445.1,88.9 444.8,85.9 444.3,82.8 443.7,79.8 442.8,76.8 441.7,73.8 440.4,70.8 438.8,67.8 436.9,64.9 434.8,62 432.5,59.2 430,56.5 427.4,53.9 424.5,51.5"/>
<polyline points="285.4,94.9 477.4,94.9"/></g>
<g fill="none" stroke="#141414" stroke-width="1.25" stroke-linejoin="round"><polyline points="313.8,56.2 319.3,53.9 322.4,53.3 327.2,54.1 331.6,53.9 334.4,54.2 336.6,54.7 339.1,54.9 343,54.9 346.1,53.2 346.5,54.4 348.6,54.2 348.7,55.7 346.4,56.8 344.4,57.3 341.8,58.7 341,60 342,60.9 343.6,61.8 344.6,62.6 345,64 346.1,62.3 348,60.3 348.9,58 350.6,58 351.9,58.7 353.8,59 353.6,60.3 354.3,61.4 355.5,62.9 355.8,64 353.7,64.8 350.8,64.9 348.5,66.4 351.1,65.6 350.9,66.9 352.3,67.5 352.9,67.2 351.2,68.1 349.6,68.5 347.7,68.7 347.1,69.8 345.1,70.5 344.3,71.6 343.5,72.6 343.5,73.7 342,74.5 340.2,75.6 339.8,76.8 340.1,78.6 339.6,79.7 339.1,78.9 338.8,78 338.6,76.9 337.8,77 335.9,76.6 335.5,77.4 334.7,77.1 333.2,77.1 331.3,78.1 330.8,79.8 330.4,81.3 330.6,82.5 331,83.4 331.8,83.9 333.6,83.6 334.1,82.2 335.8,81.9 335.5,83.4 334.9,85.3 336.1,85.3 337.5,85.9 337.1,88.3 337.8,89.5 339.2,89.2 340.3,89.7 339.9,90.4 338.9,90.4 338.1,90.1 335.9,88.4 335.1,87.1 333,86.5 331.8,85.3 330.5,85.4 328.3,84.5 326.2,82.6 326.4,81 325.2,79.5 324.3,78.1 324,75.9 323.1,75.7 323.4,77.4 323.5,78.9 324.2,80.4 324.1,81.1 323.3,79.8 322.5,78 322,75.9 322,75.3 321.6,74.4 320.7,74.1 320.5,72.3 320.6,70.6 321.2,69 322.6,67.1 323.1,65.8 324.1,65.5 323.1,64.3 323.3,62.3 323.2,60.9 322.5,59.8 321.7,59.3 320.1,59.2 318.7,58.9 316.6,59.5 314.3,60.6 312,61.2 309.3,62 307.9,62.3 310.1,61.4 313.2,60 311.6,59.9 311.7,58.9 312.3,58.1 313.5,57.5 315.8,56.8 314.2,56.8 313.8,56.2"/>
<polyline points="352.2,52.1 354.5,53.4 355.6,54.2 356.7,55.6 355.5,56.5 354.3,57.7 353.3,57.6 351.9,57 350.4,56.9 349.8,56.5 352.6,55.2 351.7,54.2 349.2,53.9 348,52.7 349.9,52.2 352.2,52.1"/>
<polyline points="335.7,54.4 338.5,54.7 341.8,54.5 342.7,53.9 342.9,52.2 340.1,52.4 337.4,53.2 334.6,53 336.6,51.7 339.8,51.5 336.7,53.2 335.7,54.4"/>
<polyline points="349.8,50.8 353.3,50.9 355.7,50.1 358.2,49.2 361.5,48.5 359.3,48.2 354.1,48.5 352,48.9 349.1,49.7 349.4,50.6 349.8,50.8"/>
<polyline points="344.5,52.4 346.9,52.7 347.4,51.7 345.8,51.2 343.3,51.5 344.5,52.4"/>
<polyline points="356.4,50.1 359.9,48.9 362.1,48.5 367.1,48.4 372,48 375,48.5 377.5,48.7 374.8,50.6 374.7,52 373,53.7 371.7,54.7 368.9,54.9 365.2,56.5 363.1,59.2 361.2,58.7 360.5,57 360.2,55.5 360.8,53.7 360.8,52.4 359.8,51 357.5,50.9 356.4,50.1"/>
<polyline points="372.4,55.9 374.2,55.9 375.6,55.8 375.9,56.5 375.3,56.9 374,57.4 372.8,57.1 372.1,57 371.7,56.3 372.4,55.9"/>
<polyline points="340.3,89.7 341.3,88.6 343.3,87.7 343.5,88.6 345.3,88.6 347.4,88.5 348.5,88.6 349.3,89.8 350.8,91.3 352.7,91.4 354,92.2 354.7,93.8 354.7,94.9 355.8,95.5 357.7,96.4 359.6,96.7 361.4,97.8 362.6,98.2 362.8,99.7 361.8,101.5 360.9,102.7 360.8,105.4 360.2,107.3 359.6,108.5 358.5,108.8 357.5,109.4 356.3,110.9 356.4,112.1 355.6,113.6 354.9,115.1 354.5,115.7 353.7,116 352.5,116 351.9,115.6 352.9,116.9 352.9,117.9 350.8,118.4 350.8,119.6 349.6,119.6 350.4,120.5 350.3,122 349.4,122.9 350.5,123.7 349.8,125.2 350.3,126.2 349.8,126.4 351.8,127.8 351,128.1 349.5,127.2 347.4,126.1 346,123.7 345.8,121.4 345.3,119 344.8,117.2 345.1,114.2 344.6,111.8 344.7,108.8 344.5,106 341.8,104.2 341,103 340,100.9 339.1,99.4 338.2,97.9 338.6,97 338.8,96.1 338.2,95.5 338.7,94.3 339.4,93.7 340.1,92.5 340.3,90.7 340.3,89.7"/>
<polyline points="378.4,73.3 380.9,73.5 382.9,72.7 386.4,72.5 386.9,73.8 386.7,74.7 389,75.4 391.4,76.5 391.8,75.3 393.1,75.3 396.2,76.2 397.7,76.1 398,76.8 398.6,78 399.6,80.4 400.7,82.2 401.6,84.1 402.2,85.6 403.3,86.8 404.3,87.4 405.3,88.6 408.4,87.8 408.6,88.6 407.5,91.3 405.9,93.7 404.3,95.2 403.3,96.1 402.7,97.3 402.3,98.8 402.4,100.9 402.9,101.5 402.8,103.9 400.9,105.4 399.7,107 399.9,108.8 398.4,110.6 398.1,112.1 397,113.6 395.3,115.1 394,115.4 391.5,115.9 390.7,115.4 390.5,114.2 390.1,112.4 389.2,111.2 389,108.8 387.7,105.7 387.6,104.5 387.9,102.7 388.6,101.5 388.3,100.2 387.9,98.5 388,97.9 387.3,97 386.3,95.5 386.5,93.7 386.6,92.8 385.9,92.2 384.6,92.3 383.8,91.1 382.2,91.2 380.3,92 379.3,91.8 377.4,92.2 376.3,91.6 375.3,90.7 374.5,89.8 373.4,88.3 372.6,87.4 372.2,86 372.7,85.3 372.9,83.1 372.5,82.2 373.6,80.1 374.7,78.3 376.3,77.4 376.4,76.5 377.1,74.8 378,74.4 378.4,73.3"/>
<polyline points="407.5,102.1 408,104.2 407.5,105.1 406.5,108.2 405.8,110 404.7,110.3 404.1,108.2 404.7,106 404.6,104.8 405.9,104.2 406.8,103 407.5,102.1"/>
<polyline points="397.9,76 399,75.9 399.1,75 399.4,73.5 399.4,72.7 398.6,72.7 397.4,73.1 396.6,72.9 395.4,72.8 394.9,72.1 394.5,71.4 394.3,70.6 394.1,70.3 393.1,70.3 392.7,70.6 392.5,70.7 392.7,71.3 392.9,71.9 392.8,72.3 392.8,72.9 392.3,72.7 391.9,72.1 391.9,71.8 391.4,71.1 390.9,70.5 390.9,69.7 390.4,69.3 389.1,68.7 388.1,67.8 387.9,67.5 387.3,67.6 387.3,68.1 388,68.7 388.4,69.6 389.2,70 390.5,70.7 389.8,71.4 389.6,72 389.2,72 389.1,70.8 388.5,70.4 387.5,69.9 386.7,69.3 386.3,68.5 385.6,68.2 385,68.5 383.8,68.8 382.9,69 383,69.6 381.9,70.2 381.4,71.1 381.2,71.9 380.5,72.6 379.2,72.8 378.6,73.2 378.3,72.7 377.7,72.5 376.9,72.6 377,71.6 376.8,71.1 377.1,70.2 377.1,69.3 376.9,69 377.5,68.6 379,68.7 380.4,68.8 380.7,68.7 380.8,67.2 380.4,66.5 379.3,66.1 379.3,65.7 380.7,65.6 380.8,65.1 381.5,65.1 382.1,64.8 382.5,64.3 383.2,64 383.7,63.2 384.6,62.9 385.2,62.6 385.2,61.7 385,61 386,60.5 385.9,61.4 385.9,62.1 386.3,62.6 387.2,62.4 387.8,62.6 388.6,62.3 389.7,62.2 390.3,62.3 390.8,61.9 390.6,61 391.1,60.5 391.7,60.9 392,60.2 391.5,59.6 393.4,59.5 394.2,59.3 393.7,59.1 392.4,59 391.2,59.3 390.4,58.8 390.3,57.8 391.5,56.5 391.7,56.2 390.2,56.1 390,56.8 389.2,57.4 388.7,58.1 388.6,58.7 389.4,59.3 388.6,60.6 388.5,61.4 387.7,61.8 387.1,61.8 387,61.3 386.6,60.6 386.1,59.8 385.9,59.5 385.1,60.2 384.2,60.3 383.8,59.8 383.5,58.7 383.6,58 384.3,57.7 384.9,57.3 385.5,56.8 386.4,56 386.9,55.2 387.4,54.7 388.3,54.2 389.3,53.9 390.5,53.4 391.2,53.4 392.2,53.5 393.3,53.8 394.1,54.2 395.4,54.4 397.2,55.2 398.6,54.7 399.4,54.9 400.3,55.1 402.1,54.7 402.9,54.8 403.9,54.5 404.6,54 406.5,54.3 407.9,54.7 407.2,52.4 408,52.5 408.8,53.4 409.8,54.7 409.8,54.5 409.4,52.9 410.7,52.2 412.7,52 412.6,51.5 415,51 416.5,50.8 417.4,50.3 418.7,50.6 421,51 423,52.2 425.6,52.4 427.9,52.2 430.6,53.4 432.2,53.2 433.4,52.7 435.4,52.8 437.9,53.3 440.1,53.4 442.7,53.9 444.9,54.1 446.6,53.9 448.6,54 451.3,54.5"/>
<polyline points="311.5,54.5 312.4,55.2 313.3,55.6 313.5,55.9 312.5,56.2 311.1,56.8 311,56.2 309.5,56.3 308.3,56.6"/>
<polyline points="454.3,56.5 455.6,57.8 454.2,58.2 453.8,59.2 451.9,59 451.2,59.3 451.7,60.3 453.3,61.3 453.7,62.1 453.9,63.3 453.4,63.4 453.4,64.3 452,63.2 449.7,61.2 449.5,60.4 449.9,60.3 449.9,59.5 449.8,58.4 447.9,58.2 447.8,59.6 446.2,59.6 444,59.6 442.5,59.9 442.3,61.4 442.7,62.3 445,63.2 445.7,63.6 446.4,64.9 447,65.8 446.8,66.6 446.8,68.1 445.8,69.1 444.8,69.2 444.8,70.2 444.4,71 445.9,72.6 446.3,73.6 445.3,74 445,74.1 444.5,72.6 443.6,72.1 442.8,71 441.5,71.4 440.8,70.3 441.3,70.5 440.6,70.3 440.2,70.9 439.6,71.3 439.7,71.8 440.6,72.5 441.4,72.1 442.4,72.4 441.7,73.2 441.4,73.8 442.7,75.3 443.6,76.3 443.8,76.9 443.9,78 443.4,78.9 443.2,79.7 442.3,80.7 441,81.5 439.4,82 439.1,82.7 438.6,81.9 437.8,81.9 437.2,82.7 436.9,83.6 437.4,84.4 438.8,85.7 439.2,87.2 439.2,88 438.2,88.7 437.2,89.7 437,88.7 436.1,88.3 435.6,87.5 434.8,87.2 434.6,86.8 433.9,87.5 434.1,88.7 434.7,89.9 434.8,90.7 435.3,90.7 435.8,91.2 436.5,92.1 436.5,93.1 437,94.1 436.5,94.1 435.4,93.2 434.8,91.6 433.8,90.1 433.6,88.9 433.5,87 432.8,85 432.6,84.7 432,84.9 431.1,85.3 430.8,83.6 430.2,82.8 429.6,81.9 429.3,81.3 428.7,81.5 427.9,81.8 426.8,81.9 426.9,82.5 426,83.3 424.7,84.9 423.8,85.6 423.9,86.9 423.8,88.7 422.9,89.5 422.6,90 422,89.5 421.4,88 420.7,86 420.1,85.3 419.6,83.3 419.5,82.2 419.3,81.5 418.1,82.2 417.4,81.5 417.9,81.3 417,80.7 416.3,80 415.9,79.6 413.6,79.7 411.7,79.5 410.8,78.6 410.4,78.5 409.6,78.9 407.9,78.1 407.1,76.8 406.2,76.8 406,77.2 406.9,78.6 407.4,79.1 408.1,79.8 408.2,80.4 409.5,80.3 410.5,79.9 410.5,79.1 410.7,80.1 411.8,80.7 412.6,81.4 412,82.5 411.7,83.5 410.6,84.4 408.9,85.4 407.1,86.5 405.2,87.2 404.4,87.2 404,86.2 403.9,85 403,83.1 401.9,81.9 401.3,80.3 400.3,78.9 399.4,78 399.3,77.1 399.2,78 398.7,78.1 398.1,76.9 397.9,76"/>
<polyline points="395.1,70 396.5,70.1 397.7,69.6 398.9,69.8 400.2,70.3 401.6,69.9 401.6,69.3 400.7,68.7 399.9,68.1 399.2,67.7 398.8,67.6 398.3,67.8 397.5,68.1 396.9,67.6 397.3,67.2 396.3,66.9 395.8,67.4 395.5,67.7 395.2,68.2 394.9,69.2 395.1,70"/>
<polyline points="405.1,66.9 406.4,66.6 406.7,67.6 405.9,67.7 407.2,69.6 407.8,70.2 407.5,70.8 408.2,72.4 406.8,72.8 405.7,72.2 405.6,71.7 405.7,70.7 405,69.7 404.4,69 404.3,68.3 403.8,68 404,67.5 404.7,67 405.1,66.9"/>
<polyline points="378.8,64.8 379.8,64.7 382,64.3 382.2,63.3 381.5,62.9 380.7,62 380.5,61.4 380,61.4 380.6,60.5 379.9,60 379.2,60 378.8,60.8 378.9,61.3 378.9,61.8 379.3,62.1 380,62.3 380,63 379.3,63 379.5,63.6 379,63.9 379.9,64.1 379.5,64.2 378.8,64.8"/>
<polyline points="378.7,63.7 378.6,62.5 378.9,62.2 378.6,61.9 378.2,61.8 377.6,62.3 376.9,62.5 377,63 376.7,63.7 377.1,64 378,63.7 378.7,63.7"/>
<polyline points="448.9,67.6 451.6,68.8 451.2,69.6 450,69.3 449.6,69.9 449.1,68.8 448.9,67.6"/>
<polyline points="449.6,69.9 450.5,70 451.4,71.1 451.3,71.9 451.8,72.9 452,73.5 451.7,73.8 451.1,74 450.3,74.1 450.2,74.7 449.6,74.5 449.5,74 448.5,74.3 447.5,74.5 447.4,74.1 447.9,73.5 449.3,73.4 449.5,72.4 450.2,72.1 450.2,70.9 449.6,69.9"/>
<polyline points="447.1,74.7 448.1,74.8 448.3,76 447.8,76.1 447.2,75.2 447.1,74.7"/>
<polyline points="445,62.4 446.3,63.2 447.6,64.9 448.5,65.5 449.3,66.9 448.8,67.2 447.7,65.5 446,63.7 445,62.4"/>
<polyline points="444.4,79.7 444.8,80.1 444.4,81.6 443.9,80.9 444.4,79.7"/>
<polyline points="439.3,82.8 439.6,83.1 439.2,83.9 438.4,83.4 438.8,82.8 439.3,82.8"/>
<polyline points="444.7,83.8 445.6,83.8 445.7,85.3 445.7,86.3 447,87.1 446.8,87.3 445.1,86.3 444.7,85.3 444.7,83.8"/>
<polyline points="446.3,90.7 448,89.2 448.7,90.7 448.2,91.5 447.4,91 446.3,90.7"/>
<polyline points="439.8,93.8 440.6,93.9 441.6,93.1 442.9,91.7 443.6,90.7 444.8,91.7 444.3,92.3 444,94.3 444.7,94.3 444.1,94.9 443.5,96.4 443.2,97.3 442.4,97 440.8,96.7 440.1,96.6 440,95.6 439.5,94.7 439.8,93.8"/>
<polyline points="432.1,91.5 433.3,91.8 434.9,93.6 436.7,95.5 437.9,96.7 437.8,98.4 437,98.5 435.9,97.3 434.9,95.5 434,93.9 432.1,91.5"/>
<polyline points="437.4,99 439,98.6 440.5,98.8 441.3,99.1 442.3,99.6 442.2,100.1 440.4,99.8 438.8,99.6 437.5,99.1 437.4,99"/>
<polyline points="445,98.2 445.6,96.6 444.8,96.7 444.7,95.5 445.3,94.6 445.6,94.3 447.5,94.3 448,94 447.2,94.7 445.7,94.6 446.2,95.5 447.1,95.4 446.4,96.1 446.6,97.8 445.9,96.7 445.5,98.3 445,98.2"/>
<polyline points="451.2,95.7 452.9,95.4 453.6,96.9 455,95.9 456.5,96.5 458.6,97.6 459.3,99.1 459.8,99.8 461,101.1 459.4,101 458.2,99.5 457.6,100.3 456.3,100.4 455,99.9 454.7,98 453.1,97.4 452,97.3 451.7,96.6 451.2,95.7"/>
<polyline points="440.6,108.2 440.4,110.6 440.3,113 439.8,115.1 439.4,115.6 440.7,116 442.8,115.3 444.2,114.8 445.4,114.4 447.1,113.9 448.2,113.9 449.3,114.7 449.7,115.9 451,114.8 450.4,116.3 451.2,115.8 451.2,116.6 451.1,117.8 452.3,118.3 453.6,118.5 454.9,117.7 456,117.4 457.8,115.3 459.6,113.3 460.4,111.9 460.7,110.3 460,109.1 459.4,108.3 458.5,106.5 458,104.8 458.1,103.9 457.3,103.3 457,101.3 456.2,103 456,104.5 455.4,105.4 454.6,105.3 453.9,104.5 452.9,103.9 453.3,103 453.9,102.3 452.9,102.3 451.6,101.8 450.8,102.3 449.8,103.9 449,103.9 448,103.3 447,104.8 445.9,105.1 444.9,106.7 443.6,107.1 442.5,107.3 441.2,108 440.6,108.2"/>
<polyline points="452.2,119.4 453.9,119.5 452.9,120.8 452,121.1 451.9,120.3 452.2,119.4"/>
<polyline points="468.4,115.6 468.7,116.6 468.9,117.6 470.1,117.6 468.9,118.6 467.3,119.8 466.7,119.8 467.6,118.7 467.1,118.5 468.2,117.5 468.4,115.6"/>
<polyline points="466.1,119.3 466.2,120 464.6,121.2 463.2,121.9 461.4,122.9 460.5,122.6 462.3,121.4 464,120.6 465.5,119.6 466.1,119.3"/>
<polyline points="423.9,89 424.9,90.4 424.7,91.2 424,91.3 423.8,90.1 423.9,89"/>
<polyline points="320.3,139.9 325.4,139.9 326.4,139.2 328.8,139 331.1,138.3 334.4,138.1 337.6,137.7 341.6,138.1 344.5,137.4 348.1,137.3 351.9,137.4 353.2,136.6 354.6,135.9 355.5,134.9 355.9,133.3 357.9,132.4 357,133 356.7,134.1 357,135.4 358.3,136.4 359.1,137.6 359.9,138.3 362.3,139.2 366,139.7 369.4,139.6 370.9,139 372.5,138.6 374.1,137.6 376.9,136.6 381.4,135.9 385.2,135.9 389.1,135.9 393,135.6 396.9,135.4 401.3,134.2 405.1,134.5 408.7,135.1 410.3,135.6 412.9,134.6 417.3,134.1 421.5,133.8 425.5,133.8 429.1,134.2 433.4,133.9 437,134.2 439.9,135.1 442.7,135.9 445.3,136.6 442.4,138.3 437.9,139.7 442.5,139.9"/>
<polyline points="346.3,56.2 348.4,56.2 348.6,57.1 346.5,57.8 345.7,57.1 346.3,56.2"/>
<polyline points="348.6,51.2 353.3,50.8 352.5,51.7 348.9,51.7 348.6,51.2"/>
<polyline points="346.8,52 348.3,52 347,52.9 346.1,52.7 346.8,52"/>
<polyline points="344.2,52.4 345.9,52.2 344.9,53.2 343.4,53.2 344.2,52.4"/>
<polyline points="340,51 344.1,50.9 343.3,51.5 339.9,51.6 340,51"/>
<polyline points="350.2,49.1 352.7,48.9 352.4,49.7 349.6,50.1 350.2,49.1"/>
<polyline points="343.2,54.2 344.4,54.2 344,54.7 342.8,54.7 343.2,54.2"/>
<polyline points="385.2,50.1 387,49.2 390.3,49.2 389.1,50.6 387,50.8 385.2,50.1"/>
<polyline points="401.1,53.4 401.8,52 402.8,50.8 405.4,50.6 402.5,52 402.2,53.4 401.1,53.4"/>
<polyline points="413.4,49.7 414.3,49.1 416.8,49.7 415.6,50.1 413.4,49.7"/>
<polyline points="430.6,51.5 432,51.2 434.5,51.5 433.4,52 430.6,51.5"/>
<polyline points="396.3,49.2 399.3,48.9 402.1,49.1 399.7,49.4 396.3,49.2"/></g>
</g>
<polygon points="330.3,46.3 333.1,46.3 336,46.3 338.8,46.3 341.7,46.3 344.5,46.3 347.3,46.3 350.2,46.3 353,46.3 355.9,46.3 358.7,46.3 361.5,46.3 364.4,46.3 367.2,46.3 370,46.3 372.9,46.3 375.7,46.3 378.6,46.3 381.4,46.3 384.2,46.3 387.1,46.3 389.9,46.3 392.8,46.3 395.6,46.3 398.4,46.3 401.3,46.3 404.1,46.3 406.9,46.3 409.8,46.3 412.6,46.3 415.5,46.3 418.3,46.3 421.1,46.3 424,46.3 426.8,46.3 429.7,46.3 432.5,46.3 432.5,46.3 436.3,47.5 441,49.2 446,51.5 450.4,53.9 454.3,56.5 458.1,59.2 461.6,62 464.7,64.9 467.4,67.8 469.9,70.8 471.9,73.8 473.6,76.8 474.8,79.8 475.7,82.8 476.4,85.9 477,88.9 477.3,91.9 477.4,94.9 477.3,97.9 477,100.9 476.4,103.9 475.7,107 474.8,110 473.6,113 471.9,116 469.9,119 467.4,122 464.7,124.9 461.6,127.8 458.1,130.6 454.3,133.3 450.4,135.9 446,138.3 441,140.6 436.3,142.3 432.5,143.5 432.5,143.5 429.7,143.5 426.8,143.5 424,143.5 421.1,143.5 418.3,143.5 415.5,143.5 412.6,143.5 409.8,143.5 406.9,143.5 404.1,143.5 401.3,143.5 398.4,143.5 395.6,143.5 392.8,143.5 389.9,143.5 387.1,143.5 384.2,143.5 381.4,143.5 378.6,143.5 375.7,143.5 372.9,143.5 370,143.5 367.2,143.5 364.4,143.5 361.5,143.5 358.7,143.5 355.9,143.5 353,143.5 350.2,143.5 347.3,143.5 344.5,143.5 341.7,143.5 338.8,143.5 336,143.5 333.1,143.5 330.3,143.5 330.3,143.5 326.5,142.3 321.8,140.6 316.8,138.3 312.4,135.9 308.5,133.3 304.7,130.6 301.2,127.8 298.1,124.9 295.4,122 292.9,119 290.9,116 289.2,113 288,110 287.1,107 286.4,103.9 285.8,100.9 285.5,97.9 285.4,94.9 285.5,91.9 285.8,88.9 286.4,85.9 287.1,82.8 288,79.8 289.2,76.8 290.9,73.8 292.9,70.8 295.4,67.8 298.1,64.9 301.2,62 304.7,59.2 308.5,56.5 312.4,53.9 316.8,51.5 321.8,49.2 326.5,47.5 330.3,46.3" fill="none" stroke="#333" stroke-width="1.1"/>
<clipPath id="c2"><polygon points="543.3,46.3 546.1,46.3 549,46.3 551.8,46.3 554.6,46.3 557.5,46.3 560.3,46.3 563.1,46.3 565.9,46.3 568.8,46.3 571.6,46.3 574.4,46.3 577.2,46.3 580.1,46.3 582.9,46.3 585.7,46.3 588.5,46.3 591.4,46.3 594.2,46.3 597,46.3 599.9,46.3 602.7,46.3 605.5,46.3 608.3,46.3 611.2,46.3 614,46.3 616.8,46.3 619.6,46.3 622.5,46.3 625.3,46.3 628.1,46.3 630.9,46.3 633.8,46.3 636.6,46.3 639.4,46.3 642.3,46.3 645.1,46.3 645.1,46.3 648.9,47.5 653.6,49.2 658.6,51.5 662.9,53.9 666.8,56.5 670.5,59.2 674,62 677.2,64.9 679.9,67.8 682.3,70.8 684.3,73.8 686,76.8 687.2,79.8 688.1,82.8 688.8,85.9 689.4,88.9 689.7,91.9 689.8,94.9 689.7,97.9 689.4,100.9 688.8,103.9 688.1,107 687.2,110 686,113 684.3,116 682.3,119 679.9,122 677.2,124.9 674,127.8 670.5,130.6 666.8,133.3 662.9,135.9 658.6,138.3 653.6,140.6 648.9,142.3 645.1,143.5 645.1,143.5 642.3,143.5 639.4,143.5 636.6,143.5 633.8,143.5 630.9,143.5 628.1,143.5 625.3,143.5 622.5,143.5 619.6,143.5 616.8,143.5 614,143.5 611.2,143.5 608.3,143.5 605.5,143.5 602.7,143.5 599.9,143.5 597,143.5 594.2,143.5 591.4,143.5 588.5,143.5 585.7,143.5 582.9,143.5 580.1,143.5 577.2,143.5 574.4,143.5 571.6,143.5 568.8,143.5 565.9,143.5 563.1,143.5 560.3,143.5 557.5,143.5 554.6,143.5 551.8,143.5 549,143.5 546.1,143.5 543.3,143.5 543.3,143.5 539.5,142.3 534.8,140.6 529.8,138.3 525.5,135.9 521.6,133.3 517.9,130.6 514.4,127.8 511.2,124.9 508.5,122 506.1,119 504.1,116 502.4,113 501.2,110 500.3,107 499.6,103.9 499,100.9 498.7,97.9 498.6,94.9 498.7,91.9 499,88.9 499.6,85.9 500.3,82.8 501.2,79.8 502.4,76.8 504.1,73.8 506.1,70.8 508.5,67.8 511.2,64.9 514.4,62 517.9,59.2 521.6,56.5 525.5,53.9 529.8,51.5 534.8,49.2 539.5,47.5 543.3,46.3"/></clipPath>
<g clip-path="url(#c2)">
<polygon points="543.3,46.3 645.1,46.3 648.9,47.5 539.5,47.5" fill="#fae4d8" stroke="#fae4d8" stroke-width="0.5"/>
<polygon points="539.5,47.5 648.9,47.5 653.6,49.2 534.8,49.2" fill="#fae4d8" stroke="#fae4d8" stroke-width="0.5"/>
<polygon points="534.8,49.2 653.6,49.2 658.6,51.5 529.8,51.5" fill="#f4f7f8" stroke="#f4f7f8" stroke-width="0.5"/>
<polygon points="529.8,51.5 585.3,51.5 584.7,53.9 525.5,53.9" fill="#ebf6f8" stroke="#ebf6f8" stroke-width="0.5"/>
<polygon points="585.3,51.5 606.7,51.5 607.6,53.9 584.7,53.9" fill="#f4f7f8" stroke="#f4f7f8" stroke-width="0.5"/>
<polygon points="606.7,51.5 613.9,51.5 615.2,53.9 607.6,53.9" fill="#f6f1ee" stroke="#f6f1ee" stroke-width="0.5"/>
<polygon points="613.9,51.5 637.1,51.5 640,53.9 615.2,53.9" fill="#f4f7f8" stroke="#f4f7f8" stroke-width="0.5"/>
<polygon points="637.1,51.5 658.6,51.5 662.9,53.9 640,53.9" fill="#ebf6f8" stroke="#ebf6f8" stroke-width="0.5"/>
<polygon points="525.5,53.9 556,53.9 553.9,56.5 521.6,56.5" fill="#ebf6f8" stroke="#ebf6f8" stroke-width="0.5"/>
<polygon points="556,53.9 557.9,53.9 555.9,56.5 553.9,56.5" fill="#e0f1f5" stroke="#e0f1f5" stroke-width="0.5"/>
<polygon points="557.9,53.9 571.3,53.9 570,56.5 555.9,56.5" fill="#d6ebf3" stroke="#d6ebf3" stroke-width="0.5"/>
<polygon points="571.3,53.9 573.2,53.9 572,56.5 570,56.5" fill="#e0f1f5" stroke="#e0f1f5" stroke-width="0.5"/>
<polygon points="573.2,53.9 584.7,53.9 584.1,56.5 572,56.5" fill="#ebf6f8" stroke="#ebf6f8" stroke-width="0.5"/>
<polygon points="584.7,53.9 590.4,53.9 590.2,56.5 584.1,56.5" fill="#f4f7f8" stroke="#f4f7f8" stroke-width="0.5"/>
<polygon points="590.4,53.9 619,53.9 620.4,56.5 590.2,56.5" fill="#f6f1ee" stroke="#f6f1ee" stroke-width="0.5"/>
<polygon points="619,53.9 643.8,53.9 646.7,56.5 620.4,56.5" fill="#f4f7f8" stroke="#f4f7f8" stroke-width="0.5"/>
<polygon points="643.8,53.9 662.9,53.9 666.8,56.5 646.7,56.5" fill="#ebf6f8" stroke="#ebf6f8" stroke-width="0.5"/>
<polygon points="521.6,56.5 551.8,56.5 549.7,59.2 517.9,59.2" fill="#ebf6f8" stroke="#ebf6f8" stroke-width="0.5"/>
<polygon points="551.8,56.5 553.9,56.5 551.8,59.2 549.7,59.2" fill="#e0f1f5" stroke="#e0f1f5" stroke-width="0.5"/>
<polygon points="553.9,56.5 555.9,56.5 553.9,59.2 551.8,59.2" fill="#d6ebf3" stroke="#d6ebf3" stroke-width="0.5"/>
<polygon points="555.9,56.5 570,56.5 568.8,59.2 553.9,59.2" fill="#cce4f1" stroke="#cce4f1" stroke-width="0.5"/>
<polygon points="570,56.5 572,56.5 570.9,59.2 568.8,59.2" fill="#d6ebf3" stroke="#d6ebf3" stroke-width="0.5"/>
<polygon points="572,56.5 574,56.5 573,59.2 570.9,59.2" fill="#e0f1f5" stroke="#e0f1f5" stroke-width="0.5"/>
<polygon points="574,56.5 584.1,56.5 583.6,59.2 573,59.2" fill="#ebf6f8" stroke="#ebf6f8" stroke-width="0.5"/>
<polygon points="584.1,56.5 590.2,56.5 590,59.2 583.6,59.2" fill="#f4f7f8" stroke="#f4f7f8" stroke-width="0.5"/>
<polygon points="590.2,56.5 620.4,56.5 621.8,59.2 590,59.2" fill="#f6f1ee" stroke="#f6f1ee" stroke-width="0.5"/>
<polygon points="620.4,56.5 648.7,56.5 651.5,59.2 621.8,59.2" fill="#f4f7f8" stroke="#f4f7f8" stroke-width="0.5"/>
<polygon points="648.7,56.5 666.8,56.5 670.5,59.2 651.5,59.2" fill="#ebf6f8" stroke="#ebf6f8" stroke-width="0.5"/>
<polygon points="517.9,59.2 549.7,59.2 547.6,62 514.4,62" fill="#ebf6f8" stroke="#ebf6f8" stroke-width="0.5"/>
<polygon points="549.7,59.2 551.8,59.2 549.9,62 547.6,62" fill="#e0f1f5" stroke="#e0f1f5" stroke-width="0.5"/>
<polygon points="551.8,59.2 553.9,59.2 552.1,62 549.9,62" fill="#d6ebf3" stroke="#d6ebf3" stroke-width="0.5"/>
<polygon points="553.9,59.2 568.8,59.2 567.6,62 552.1,62" fill="#cce4f1" stroke="#cce4f1" stroke-width="0.5"/>
<polygon points="568.8,59.2 570.9,59.2 569.8,62 567.6,62" fill="#d6ebf3" stroke="#d6ebf3" stroke-width="0.5"/>
<polygon points="570.9,59.2 573,59.2 572,62 569.8,62" fill="#e0f1f5" stroke="#e0f1f5" stroke-width="0.5"/>
<polygon points="573,59.2 583.6,59.2 583.1,62 572,62" fill="#ebf6f8" stroke="#ebf6f8" stroke-width="0.5"/>
<polygon points="583.6,59.2 590,59.2 589.8,62 583.1,62" fill="#f4f7f8" stroke="#f4f7f8" stroke-width="0.5"/>
<polygon points="590,59.2 621.8,59.2 623,62 589.8,62" fill="#f6f1ee" stroke="#f6f1ee" stroke-width="0.5"/>
<polygon points="621.8,59.2 651.5,59.2 654.1,62 623,62" fill="#f4f7f8" stroke="#f4f7f8" stroke-width="0.5"/>
<polygon points="651.5,59.2 670.5,59.2 674,62 654.1,62" fill="#ebf6f8" stroke="#ebf6f8" stroke-width="0.5"/>
<polygon points="514.4,62 547.6,62 545.8,64.9 511.2,64.9" fill="#ebf6f8" stroke="#ebf6f8" stroke-width="0.5"/>
<polygon points="547.6,62 549.9,62 548.1,64.9 545.8,64.9" fill="#e0f1f5" stroke="#e0f1f5" stroke-width="0.5"/>
<polygon points="549.9,62 552.1,62 550.4,64.9 548.1,64.9" fill="#d6ebf3" stroke="#d6ebf3" stroke-width="0.5"/>
<polygon points="552.1,62 567.6,62 566.5,64.9 550.4,64.9" fill="#cce4f1" stroke="#cce4f1" stroke-width="0.5"/>
<polygon points="567.6,62 569.8,62 568.8,64.9 566.5,64.9" fill="#d6ebf3" stroke="#d6ebf3" stroke-width="0.5"/>
<polygon points="569.8,62 572,62 571.2,64.9 568.8,64.9" fill="#e0f1f5" stroke="#e0f1f5" stroke-width="0.5"/>
<polygon points="572,62 583.1,62 582.7,64.9 571.2,64.9" fill="#ebf6f8" stroke="#ebf6f8" stroke-width="0.5"/>
<polygon points="583.1,62 589.8,62 589.6,64.9 582.7,64.9" fill="#f4f7f8" stroke="#f4f7f8" stroke-width="0.5"/>
<polygon points="589.8,62 623,62 624.2,64.9 589.6,64.9" fill="#f6f1ee" stroke="#f6f1ee" stroke-width="0.5"/>
<polygon points="623,62 654.1,62 656.4,64.9 624.2,64.9" fill="#f4f7f8" stroke="#f4f7f8" stroke-width="0.5"/>
<polygon points="654.1,62 674,62 677.2,64.9 656.4,64.9" fill="#ebf6f8" stroke="#ebf6f8" stroke-width="0.5"/>
<polygon points="511.2,64.9 545.8,64.9 544.2,67.8 508.5,67.8" fill="#ebf6f8" stroke="#ebf6f8" stroke-width="0.5"/>
<polygon points="545.8,64.9 568.8,64.9 568,67.8 544.2,67.8" fill="#e0f1f5" stroke="#e0f1f5" stroke-width="0.5"/>
<polygon points="568.8,64.9 582.7,64.9 582.3,67.8 568,67.8" fill="#ebf6f8" stroke="#ebf6f8" stroke-width="0.5"/>
<polygon points="582.7,64.9 608,64.9 608.5,67.8 582.3,67.8" fill="#f4f7f8" stroke="#f4f7f8" stroke-width="0.5"/>
<polygon points="608,64.9 621.9,64.9 622.8,67.8 608.5,67.8" fill="#f6f1ee" stroke="#f6f1ee" stroke-width="0.5"/>
<polygon points="621.9,64.9 656.4,64.9 658.5,67.8 622.8,67.8" fill="#f4f7f8" stroke="#f4f7f8" stroke-width="0.5"/>
<polygon points="656.4,64.9 677.2,64.9 679.9,67.8 658.5,67.8" fill="#ebf6f8" stroke="#ebf6f8" stroke-width="0.5"/>
<polygon points="508.5,67.8 549,67.8 547.7,70.8 506.1,70.8" fill="#e0f1f5" stroke="#e0f1f5" stroke-width="0.5"/>
<polygon points="549,67.8 589.4,67.8 589.3,70.8 547.7,70.8" fill="#ebf6f8" stroke="#ebf6f8" stroke-width="0.5"/>
<polygon points="589.4,67.8 656.1,67.8 657.8,70.8 589.3,70.8" fill="#f4f7f8" stroke="#f4f7f8" stroke-width="0.5"/>
<polygon points="656.1,67.8 679.9,67.8 682.3,70.8 657.8,70.8" fill="#ebf6f8" stroke="#ebf6f8" stroke-width="0.5"/>
<polygon points="506.1,70.8 508.5,70.8 506.6,73.8 504.1,73.8" fill="#e0f1f5" stroke="#e0f1f5" stroke-width="0.5"/>
<polygon points="508.5,70.8 545.3,70.8 544.1,73.8 506.6,73.8" fill="#d6ebf3" stroke="#d6ebf3" stroke-width="0.5"/>
<polygon points="545.3,70.8 550.1,70.8 549.1,73.8 544.1,73.8" fill="#e0f1f5" stroke="#e0f1f5" stroke-width="0.5"/>
<polygon points="550.1,70.8 679.9,70.8 681.8,73.8 549.1,73.8" fill="#ebf6f8" stroke="#ebf6f8" stroke-width="0.5"/>
<polygon points="679.9,70.8 682.3,70.8 684.3,73.8 681.8,73.8" fill="#e0f1f5" stroke="#e0f1f5" stroke-width="0.5"/>
<polygon points="504.1,73.8 506.6,73.8 505,76.8 502.4,76.8" fill="#e0f1f5" stroke="#e0f1f5" stroke-width="0.5"/>
<polygon points="506.6,73.8 544.1,73.8 543.2,76.8 505,76.8" fill="#d6ebf3" stroke="#d6ebf3" stroke-width="0.5"/>
<polygon points="544.1,73.8 549.1,73.8 548.3,76.8 543.2,76.8" fill="#e0f1f5" stroke="#e0f1f5" stroke-width="0.5"/>
<polygon points="549.1,73.8 679.3,73.8 680.9,76.8 548.3,76.8" fill="#ebf6f8" stroke="#ebf6f8" stroke-width="0.5"/>
<polygon points="679.3,73.8 684.3,73.8 686,76.8 680.9,76.8" fill="#e0f1f5" stroke="#e0f1f5" stroke-width="0.5"/>
<polygon points="502.4,76.8 543.2,76.8 542.5,79.8 501.2,79.8" fill="#d6ebf3" stroke="#d6ebf3" stroke-width="0.5"/>
<polygon points="543.2,76.8 548.3,76.8 547.7,79.8 542.5,79.8" fill="#e0f1f5" stroke="#e0f1f5" stroke-width="0.5"/>
<polygon points="548.3,76.8 670.7,76.8 671.7,79.8 547.7,79.8" fill="#ebf6f8" stroke="#ebf6f8" stroke-width="0.5"/>
<polygon points="670.7,76.8 686,76.8 687.2,79.8 671.7,79.8" fill="#e0f1f5" stroke="#e0f1f5" stroke-width="0.5"/>
<polygon points="501.2,79.8 542.5,79.8 542,82.8 500.3,82.8" fill="#d6ebf3" stroke="#d6ebf3" stroke-width="0.5"/>
<polygon points="542.5,79.8 547.7,79.8 547.3,82.8 542,82.8" fill="#e0f1f5" stroke="#e0f1f5" stroke-width="0.5"/>
<polygon points="547.7,79.8 671.7,79.8 672.4,82.8 547.3,82.8" fill="#ebf6f8" stroke="#ebf6f8" stroke-width="0.5"/>
<polygon points="671.7,79.8 682.1,79.8 682.9,82.8 672.4,82.8" fill="#e0f1f5" stroke="#e0f1f5" stroke-width="0.5"/>
<polygon points="682.1,79.8 687.2,79.8 688.1,82.8 682.9,82.8" fill="#d6ebf3" stroke="#d6ebf3" stroke-width="0.5"/>
<polygon points="500.3,82.8 542,82.8 541.6,85.9 499.6,85.9" fill="#d6ebf3" stroke="#d6ebf3" stroke-width="0.5"/>
<polygon points="542,82.8 547.3,82.8 546.9,85.9 541.6,85.9" fill="#e0f1f5" stroke="#e0f1f5" stroke-width="0.5"/>
<polygon points="547.3,82.8 672.4,82.8 673.1,85.9 546.9,85.9" fill="#ebf6f8" stroke="#ebf6f8" stroke-width="0.5"/>
<polygon points="672.4,82.8 682.9,82.8 683.6,85.9 673.1,85.9" fill="#e0f1f5" stroke="#e0f1f5" stroke-width="0.5"/>
<polygon points="682.9,82.8 688.1,82.8 688.8,85.9 683.6,85.9" fill="#d6ebf3" stroke="#d6ebf3" stroke-width="0.5"/>
<polygon points="499.6,85.9 541.6,85.9 541.3,88.9 499,88.9" fill="#d6ebf3" stroke="#d6ebf3" stroke-width="0.5"/>
<polygon points="541.6,85.9 546.9,85.9 546.6,88.9 541.3,88.9" fill="#e0f1f5" stroke="#e0f1f5" stroke-width="0.5"/>
<polygon points="546.9,85.9 673.1,85.9 673.5,88.9 546.6,88.9" fill="#ebf6f8" stroke="#ebf6f8" stroke-width="0.5"/>
<polygon points="673.1,85.9 683.6,85.9 684.1,88.9 673.5,88.9" fill="#e0f1f5" stroke="#e0f1f5" stroke-width="0.5"/>
<polygon points="683.6,85.9 688.8,85.9 689.4,88.9 684.1,88.9" fill="#d6ebf3" stroke="#d6ebf3" stroke-width="0.5"/>
<polygon points="499,88.9 541.3,88.9 541.2,91.9 498.7,91.9" fill="#d6ebf3" stroke="#d6ebf3" stroke-width="0.5"/>
<polygon points="541.3,88.9 546.6,88.9 546.5,91.9 541.2,91.9" fill="#e0f1f5" stroke="#e0f1f5" stroke-width="0.5"/>
<polygon points="546.6,88.9 673.5,88.9 673.8,91.9 546.5,91.9" fill="#ebf6f8" stroke="#ebf6f8" stroke-width="0.5"/>
<polygon points="673.5,88.9 684.1,88.9 684.4,91.9 673.8,91.9" fill="#e0f1f5" stroke="#e0f1f5" stroke-width="0.5"/>
<polygon points="684.1,88.9 689.4,88.9 689.7,91.9 684.4,91.9" fill="#d6ebf3" stroke="#d6ebf3" stroke-width="0.5"/>
<polygon points="498.7,91.9 541.2,91.9 541.1,94.9 498.6,94.9" fill="#d6ebf3" stroke="#d6ebf3" stroke-width="0.5"/>
<polygon points="541.2,91.9 546.5,91.9 546.4,94.9 541.1,94.9" fill="#e0f1f5" stroke="#e0f1f5" stroke-width="0.5"/>
<polygon points="546.5,91.9 575.6,91.9 575.6,94.9 546.4,94.9" fill="#ebf6f8" stroke="#ebf6f8" stroke-width="0.5"/>
<polygon points="575.6,91.9 596.9,91.9 596.9,94.9 575.6,94.9" fill="#e0f1f5" stroke="#e0f1f5" stroke-width="0.5"/>
<polygon points="596.9,91.9 673.8,91.9 673.9,94.9 596.9,94.9" fill="#ebf6f8" stroke="#ebf6f8" stroke-width="0.5"/>
<polygon points="673.8,91.9 684.4,91.9 684.5,94.9 673.9,94.9" fill="#e0f1f5" stroke="#e0f1f5" stroke-width="0.5"/>
<polygon points="684.4,91.9 689.7,91.9 689.8,94.9 684.5,94.9" fill="#d6ebf3" stroke="#d6ebf3" stroke-width="0.5"/>
<polygon points="498.6,94.9 541.1,94.9 541.2,97.9 498.7,97.9" fill="#d6ebf3" stroke="#d6ebf3" stroke-width="0.5"/>
<polygon points="541.1,94.9 546.4,94.9 546.5,97.9 541.2,97.9" fill="#e0f1f5" stroke="#e0f1f5" stroke-width="0.5"/>
<polygon points="546.4,94.9 575.6,94.9 575.6,97.9 546.5,97.9" fill="#ebf6f8" stroke="#ebf6f8" stroke-width="0.5"/>
<polygon points="575.6,94.9 596.9,94.9 596.9,97.9 575.6,97.9" fill="#e0f1f5" stroke="#e0f1f5" stroke-width="0.5"/>
<polygon points="596.9,94.9 673.9,94.9 673.8,97.9 596.9,97.9" fill="#ebf6f8" stroke="#ebf6f8" stroke-width="0.5"/>
<polygon points="673.9,94.9 684.5,94.9 684.4,97.9 673.8,97.9" fill="#e0f1f5" stroke="#e0f1f5" stroke-width="0.5"/>
<polygon points="684.5,94.9 689.8,94.9 689.7,97.9 684.4,97.9" fill="#d6ebf3" stroke="#d6ebf3" stroke-width="0.5"/>
<polygon points="498.7,97.9 541.2,97.9 541.3,100.9 499,100.9" fill="#d6ebf3" stroke="#d6ebf3" stroke-width="0.5"/>
<polygon points="541.2,97.9 546.5,97.9 546.6,100.9 541.3,100.9" fill="#e0f1f5" stroke="#e0f1f5" stroke-width="0.5"/>
<polygon points="546.5,97.9 575.6,97.9 575.7,100.9 546.6,100.9" fill="#ebf6f8" stroke="#ebf6f8" stroke-width="0.5"/>
<polygon points="575.6,97.9 596.9,97.9 596.8,100.9 575.7,100.9" fill="#e0f1f5" stroke="#e0f1f5" stroke-width="0.5"/>
<polygon points="596.9,97.9 673.8,97.9 673.5,100.9 596.8,100.9" fill="#ebf6f8" stroke="#ebf6f8" stroke-width="0.5"/>
<polygon points="673.8,97.9 684.4,97.9 684.1,100.9 673.5,100.9" fill="#e0f1f5" stroke="#e0f1f5" stroke-width="0.5"/>
<polygon points="684.4,97.9 689.7,97.9 689.4,100.9 684.1,100.9" fill="#d6ebf3" stroke="#d6ebf3" stroke-width="0.5"/>
<polygon points="499,100.9 541.3,100.9 541.6,103.9 499.6,103.9" fill="#d6ebf3" stroke="#d6ebf3" stroke-width="0.5"/>
<polygon points="541.3,100.9 546.6,100.9 546.9,103.9 541.6,103.9" fill="#e0f1f5" stroke="#e0f1f5" stroke-width="0.5"/>
<polygon points="546.6,100.9 575.7,100.9 575.8,103.9 546.9,103.9" fill="#ebf6f8" stroke="#ebf6f8" stroke-width="0.5"/>
<polygon points="575.7,100.9 596.8,100.9 596.8,103.9 575.8,103.9" fill="#e0f1f5" stroke="#e0f1f5" stroke-width="0.5"/>
<polygon points="596.8,100.9 673.5,100.9 673.1,103.9 596.8,103.9" fill="#ebf6f8" stroke="#ebf6f8" stroke-width="0.5"/>
<polygon points="673.5,100.9 684.1,100.9 683.6,103.9 673.1,103.9" fill="#e0f1f5" stroke="#e0f1f5" stroke-width="0.5"/>
<polygon points="684.1,100.9 689.4,100.9 688.8,103.9 683.6,103.9" fill="#d6ebf3" stroke="#d6ebf3" stroke-width="0.5"/>
<polygon points="499.6,103.9 541.6,103.9 542,107 500.3,107" fill="#d6ebf3" stroke="#d6ebf3" stroke-width="0.5"/>
<polygon points="541.6,103.9 546.9,103.9 547.3,107 542,107" fill="#e0f1f5" stroke="#e0f1f5" stroke-width="0.5"/>
<polygon points="546.9,103.9 575.8,103.9 575.9,107 547.3,107" fill="#ebf6f8" stroke="#ebf6f8" stroke-width="0.5"/>
<polygon points="575.8,103.9 596.8,103.9 596.8,107 575.9,107" fill="#e0f1f5" stroke="#e0f1f5" stroke-width="0.5"/>
<polygon points="596.8,103.9 673.1,103.9 672.4,107 596.8,107" fill="#ebf6f8" stroke="#ebf6f8" stroke-width="0.5"/>
<polygon points="673.1,103.9 688.8,103.9 688.1,107 672.4,107" fill="#e0f1f5" stroke="#e0f1f5" stroke-width="0.5"/>
<polygon points="500.3,107 502.9,107 503.8,110 501.2,110" fill="#e0f1f5" stroke="#e0f1f5" stroke-width="0.5"/>
<polygon points="502.9,107 542,107 542.5,110 503.8,110" fill="#d6ebf3" stroke="#d6ebf3" stroke-width="0.5"/>
<polygon points="542,107 547.3,107 547.7,110 542.5,110" fill="#e0f1f5" stroke="#e0f1f5" stroke-width="0.5"/>
<polygon points="547.3,107 575.9,107 576.1,110 547.7,110" fill="#ebf6f8" stroke="#ebf6f8" stroke-width="0.5"/>
<polygon points="575.9,107 596.8,107 596.8,110 576.1,110" fill="#e0f1f5" stroke="#e0f1f5" stroke-width="0.5"/>
<polygon points="596.8,107 682.9,107 682.1,110 596.8,110" fill="#ebf6f8" stroke="#ebf6f8" stroke-width="0.5"/>
<polygon points="682.9,107 688.1,107 687.2,110 682.1,110" fill="#e0f1f5" stroke="#e0f1f5" stroke-width="0.5"/>
<polygon points="501.2,110 545.1,110 545.8,113 502.4,113" fill="#e0f1f5" stroke="#e0f1f5" stroke-width="0.5"/>
<polygon points="545.1,110 687.2,110 686,113 545.8,113" fill="#ebf6f8" stroke="#ebf6f8" stroke-width="0.5"/>
<polygon points="502.4,113 686,113 684.3,116 504.1,116" fill="#ebf6f8" stroke="#ebf6f8" stroke-width="0.5"/>
<polygon points="504.1,116 684.3,116 682.3,119 506.1,119" fill="#ebf6f8" stroke="#ebf6f8" stroke-width="0.5"/>
<polygon points="506.1,119 557.5,119 558.5,122 508.5,122" fill="#ebf6f8" stroke="#ebf6f8" stroke-width="0.5"/>
<polygon points="557.5,119 665.2,119 663.2,122 558.5,122" fill="#f4f7f8" stroke="#f4f7f8" stroke-width="0.5"/>
<polygon points="665.2,119 682.3,119 679.9,122 663.2,122" fill="#ebf6f8" stroke="#ebf6f8" stroke-width="0.5"/>
<polygon points="508.5,122 556.1,122 557.3,124.9 511.2,124.9" fill="#ebf6f8" stroke="#ebf6f8" stroke-width="0.5"/>
<polygon points="556.1,122 560.9,122 561.9,124.9 557.3,124.9" fill="#f4f7f8" stroke="#f4f7f8" stroke-width="0.5"/>
<polygon points="560.9,122 570.4,122 571.2,124.9 561.9,124.9" fill="#f6f1ee" stroke="#f6f1ee" stroke-width="0.5"/>
<polygon points="570.4,122 651.3,122 649.5,124.9 571.2,124.9" fill="#f9ebe4" stroke="#f9ebe4" stroke-width="0.5"/>
<polygon points="651.3,122 660.8,122 658.7,124.9 649.5,124.9" fill="#f6f1ee" stroke="#f6f1ee" stroke-width="0.5"/>
<polygon points="660.8,122 665.6,122 663.3,124.9 658.7,124.9" fill="#f4f7f8" stroke="#f4f7f8" stroke-width="0.5"/>
<polygon points="665.6,122 679.9,122 677.2,124.9 663.3,124.9" fill="#ebf6f8" stroke="#ebf6f8" stroke-width="0.5"/>
<polygon points="511.2,124.9 557.3,124.9 558.7,127.8 514.4,127.8" fill="#ebf6f8" stroke="#ebf6f8" stroke-width="0.5"/>
<polygon points="557.3,124.9 561.9,124.9 563.2,127.8 558.7,127.8" fill="#f4f7f8" stroke="#f4f7f8" stroke-width="0.5"/>
<polygon points="561.9,124.9 566.5,124.9 567.6,127.8 563.2,127.8" fill="#f6f1ee" stroke="#f6f1ee" stroke-width="0.5"/>
<polygon points="566.5,124.9 654.1,124.9 651.9,127.8 567.6,127.8" fill="#f9ebe4" stroke="#f9ebe4" stroke-width="0.5"/>
<polygon points="654.1,124.9 658.7,124.9 656.3,127.8 651.9,127.8" fill="#f6f1ee" stroke="#f6f1ee" stroke-width="0.5"/>
<polygon points="658.7,124.9 663.3,124.9 660.7,127.8 656.3,127.8" fill="#f4f7f8" stroke="#f4f7f8" stroke-width="0.5"/>
<polygon points="663.3,124.9 677.2,124.9 674,127.8 660.7,127.8" fill="#ebf6f8" stroke="#ebf6f8" stroke-width="0.5"/>
<polygon points="514.4,127.8 558.7,127.8 560.3,130.6 517.9,130.6" fill="#ebf6f8" stroke="#ebf6f8" stroke-width="0.5"/>
<polygon points="558.7,127.8 563.2,127.8 564.5,130.6 560.3,130.6" fill="#f4f7f8" stroke="#f4f7f8" stroke-width="0.5"/>
<polygon points="563.2,127.8 569.8,127.8 570.9,130.6 564.5,130.6" fill="#f6f1ee" stroke="#f6f1ee" stroke-width="0.5"/>
<polygon points="569.8,127.8 649.6,127.8 647.2,130.6 570.9,130.6" fill="#f9ebe4" stroke="#f9ebe4" stroke-width="0.5"/>
<polygon points="649.6,127.8 656.3,127.8 653.6,130.6 647.2,130.6" fill="#f6f1ee" stroke="#f6f1ee" stroke-width="0.5"/>
<polygon points="656.3,127.8 660.7,127.8 657.8,130.6 653.6,130.6" fill="#f4f7f8" stroke="#f4f7f8" stroke-width="0.5"/>
<polygon points="660.7,127.8 674,127.8 670.5,130.6 657.8,130.6" fill="#ebf6f8" stroke="#ebf6f8" stroke-width="0.5"/>
<polygon points="517.9,130.6 562.4,130.6 563.9,133.3 521.6,133.3" fill="#ebf6f8" stroke="#ebf6f8" stroke-width="0.5"/>
<polygon points="562.4,130.6 655.7,130.6 652.7,133.3 563.9,133.3" fill="#f4f7f8" stroke="#f4f7f8" stroke-width="0.5"/>
<polygon points="655.7,130.6 670.5,130.6 666.8,133.3 652.7,133.3" fill="#ebf6f8" stroke="#ebf6f8" stroke-width="0.5"/>
<polygon points="521.6,133.3 666.8,133.3 662.9,135.9 525.5,135.9" fill="#ebf6f8" stroke="#ebf6f8" stroke-width="0.5"/>
<polygon points="525.5,135.9 662.9,135.9 658.6,138.3 529.8,138.3" fill="#d6ebf3" stroke="#d6ebf3" stroke-width="0.5"/>
<polygon points="529.8,138.3 658.6,138.3 653.6,140.6 534.8,140.6" fill="#d6ebf3" stroke="#d6ebf3" stroke-width="0.5"/>
<polygon points="534.8,140.6 653.6,140.6 648.9,142.3 539.5,142.3" fill="#d6ebf3" stroke="#d6ebf3" stroke-width="0.5"/>
<polygon points="539.5,142.3 648.9,142.3 645.1,143.5 543.3,143.5" fill="#d6ebf3" stroke="#d6ebf3" stroke-width="0.5"/>
<g fill="none" stroke="#6e6e6e" stroke-width="1.25" stroke-dasharray="0.01 4.6" stroke-linecap="round"><polyline points="551.3,138.3 548.4,135.9 545.8,133.3 543.3,130.6 541,127.8 538.9,124.9 537.1,122 535.5,119 534.1,116 533,113 532.2,110 531.6,107 531.1,103.9 530.8,100.9 530.6,97.9 530.5,94.9 530.6,91.9 530.8,88.9 531.1,85.9 531.6,82.8 532.2,79.8 533,76.8 534.1,73.8 535.5,70.8 537.1,67.8 538.9,64.9 541,62 543.3,59.2 545.8,56.5 548.4,53.9 551.3,51.5"/>
<polyline points="572.7,138.3 571.3,135.9 570,133.3 568.8,130.6 567.6,127.8 566.5,124.9 565.6,122 564.8,119 564.2,116 563.6,113 563.2,110 562.9,107 562.7,103.9 562.5,100.9 562.4,97.9 562.3,94.9 562.4,91.9 562.5,88.9 562.7,85.9 562.9,82.8 563.2,79.8 563.6,76.8 564.2,73.8 564.8,70.8 565.6,67.8 566.5,64.9 567.6,62 568.8,59.2 570,56.5 571.3,53.9 572.7,51.5"/>
<polyline points="594.2,138.3 594.2,135.9 594.2,133.3 594.2,130.6 594.2,127.8 594.2,124.9 594.2,122 594.2,119 594.2,116 594.2,113 594.2,110 594.2,107 594.2,103.9 594.2,100.9 594.2,97.9 594.2,94.9 594.2,91.9 594.2,88.9 594.2,85.9 594.2,82.8 594.2,79.8 594.2,76.8 594.2,73.8 594.2,70.8 594.2,67.8 594.2,64.9 594.2,62 594.2,59.2 594.2,56.5 594.2,53.9 594.2,51.5"/>
<polyline points="615.7,138.3 617.1,135.9 618.4,133.3 619.6,130.6 620.8,127.8 621.9,124.9 622.8,122 623.6,119 624.2,116 624.8,113 625.2,110 625.5,107 625.7,103.9 625.9,100.9 626,97.9 626.1,94.9 626,91.9 625.9,88.9 625.7,85.9 625.5,82.8 625.2,79.8 624.8,76.8 624.2,73.8 623.6,70.8 622.8,67.8 621.9,64.9 620.8,62 619.6,59.2 618.4,56.5 617.1,53.9 615.7,51.5"/>
<polyline points="637.1,138.3 640,135.9 642.6,133.3 645.1,130.6 647.4,127.8 649.5,124.9 651.3,122 652.9,119 654.3,116 655.4,113 656.2,110 656.8,107 657.3,103.9 657.6,100.9 657.8,97.9 657.9,94.9 657.8,91.9 657.6,88.9 657.3,85.9 656.8,82.8 656.2,79.8 655.4,76.8 654.3,73.8 652.9,70.8 651.3,67.8 649.5,64.9 647.4,62 645.1,59.2 642.6,56.5 640,53.9 637.1,51.5"/>
<polyline points="498.6,94.9 689.8,94.9"/></g>
<g fill="none" stroke="#141414" stroke-width="1.25" stroke-linejoin="round"><polyline points="526.9,56.2 532.4,53.9 535.5,53.3 540.2,54.1 544.6,53.9 547.4,54.2 549.6,54.7 552,54.9 555.9,54.9 559,53.2 559.5,54.4 561.6,54.2 561.7,55.7 559.3,56.8 557.3,57.3 554.7,58.7 554,60 555,60.9 556.6,61.8 557.5,62.6 558,64 559,62.3 560.9,60.3 561.9,58 563.5,58 564.8,58.7 566.7,59 566.6,60.3 567.2,61.4 568.4,62.9 568.7,64 566.6,64.8 563.8,64.9 561.4,66.4 564,65.6 563.8,66.9 565.3,67.5 565.8,67.2 564.1,68.1 562.6,68.5 560.6,68.7 560,69.8 558.1,70.5 557.3,71.6 556.5,72.6 556.4,73.7 555,74.5 553.2,75.6 552.7,76.8 553,78.6 552.6,79.7 552.1,78.9 551.8,78 551.6,76.9 550.8,77 548.9,76.6 548.5,77.4 547.7,77.1 546.2,77.1 544.3,78.1 543.8,79.8 543.4,81.3 543.6,82.5 544,83.4 544.8,83.9 546.6,83.6 547.1,82.2 548.8,81.9 548.5,83.4 547.8,85.3 549.1,85.3 550.5,85.9 550.1,88.3 550.8,89.5 552.2,89.2 553.2,89.7 552.9,90.4 551.8,90.4 551.1,90.1 548.9,88.4 548.1,87.1 546,86.5 544.9,85.3 543.5,85.4 541.3,84.5 539.2,82.6 539.5,81 538.2,79.5 537.3,78.1 537,75.9 536.1,75.7 536.4,77.4 536.6,78.9 537.2,80.4 537.2,81.1 536.3,79.8 535.5,78 535,75.9 535,75.3 534.7,74.4 533.7,74.1 533.6,72.3 533.6,70.6 534.3,69 535.6,67.1 536.1,65.8 537.1,65.5 536.1,64.3 536.3,62.3 536.2,60.9 535.6,59.8 534.7,59.3 533.1,59.2 531.7,58.9 529.6,59.5 527.4,60.6 525,61.2 522.4,62 521,62.3 523.2,61.4 526.3,60 524.7,59.9 524.8,58.9 525.4,58.1 526.6,57.5 528.9,56.8 527.3,56.8 526.9,56.2"/>
<polyline points="565.1,52.1 567.4,53.4 568.5,54.2 569.6,55.6 568.4,56.5 567.2,57.7 566.2,57.6 564.9,57 563.3,56.9 562.7,56.5 565.5,55.2 564.6,54.2 562.1,53.9 560.9,52.7 562.8,52.2 565.1,52.1"/>
<polyline points="548.6,54.4 551.5,54.7 554.7,54.5 555.7,53.9 555.9,52.2 553.1,52.4 550.4,53.2 547.6,53 549.6,51.7 552.7,51.5 549.6,53.2 548.6,54.4"/>
<polyline points="562.8,50.8 566.2,50.9 568.6,50.1 571.1,49.2 574.4,48.5 572.2,48.2 567,48.5 565,48.9 562,49.7 562.3,50.6 562.8,50.8"/>
<polyline points="557.5,52.4 559.8,52.7 560.4,51.7 558.7,51.2 556.3,51.5 557.5,52.4"/>
<polyline points="569.3,50.1 572.8,48.9 575,48.5 579.9,48.4 584.8,48 587.8,48.5 590.3,48.7 587.6,50.6 587.5,52 585.9,53.7 584.5,54.7 581.7,54.9 578.1,56.5 576,59.2 574,58.7 573.4,57 573.1,55.5 573.7,53.7 573.6,52.4 572.7,51 570.4,50.9 569.3,50.1"/>
<polyline points="585.2,55.9 587,55.9 588.4,55.8 588.8,56.5 588.1,56.9 586.8,57.4 585.6,57.1 585,57 584.6,56.3 585.2,55.9"/>
<polyline points="553.2,89.7 554.3,88.6 556.2,87.7 556.4,88.6 558.3,88.6 560.4,88.5 561.4,88.6 562.2,89.8 563.7,91.3 565.6,91.4 566.9,92.2 567.7,93.8 567.6,94.9 568.7,95.5 570.6,96.4 572.4,96.7 574.3,97.8 575.5,98.2 575.7,99.7 574.7,101.5 573.8,102.7 573.7,105.4 573.1,107.3 572.5,108.5 571.4,108.8 570.4,109.4 569.2,110.9 569.3,112.1 568.5,113.6 567.8,115.1 567.4,115.7 566.7,116 565.4,116 564.8,115.6 565.9,116.9 565.8,117.9 563.7,118.4 563.8,119.6 562.6,119.6 563.3,120.5 563.3,122 562.4,122.9 563.5,123.7 562.7,125.2 563.2,126.2 562.8,126.4 564.7,127.8 564,128.1 562.5,127.2 560.4,126.1 558.9,123.7 558.8,121.4 558.2,119 557.7,117.2 558,114.2 557.5,111.8 557.6,108.8 557.5,106 554.8,104.2 554,103 553,100.9 552.1,99.4 551.1,97.9 551.6,97 551.7,96.1 551.2,95.5 551.7,94.3 552.4,93.7 553.1,92.5 553.3,90.7 553.2,89.7"/>
<polyline points="591.3,73.3 593.7,73.5 595.7,72.7 599.2,72.5 599.7,73.8 599.5,74.7 601.8,75.4 604.1,76.5 604.6,75.3 605.8,75.3 608.9,76.2 610.4,76.1 610.8,76.8 611.4,78 612.3,80.4 613.5,82.2 614.3,84.1 615,85.6 616.1,86.8 617,87.4 618,88.6 621.1,87.8 621.3,88.6 620.2,91.3 618.6,93.7 617,95.2 616,96.1 615.4,97.3 615,98.8 615.1,100.9 615.6,101.5 615.5,103.9 613.6,105.4 612.5,107 612.6,108.8 611.1,110.6 610.8,112.1 609.7,113.6 608,115.1 606.8,115.4 604.2,115.9 603.4,115.4 603.3,114.2 602.9,112.4 602,111.2 601.7,108.8 600.5,105.7 600.4,104.5 600.7,102.7 601.3,101.5 601.1,100.2 600.7,98.5 600.7,97.9 600,97 599.1,95.5 599.3,93.7 599.4,92.8 598.7,92.2 597.4,92.3 596.6,91.1 595,91.2 593.1,92 592.1,91.8 590.2,92.2 589.2,91.6 588.1,90.7 587.3,89.8 586.3,88.3 585.4,87.4 585,86 585.5,85.3 585.7,83.1 585.3,82.2 586.4,80.1 587.5,78.3 589.1,77.4 589.3,76.5 589.9,74.8 590.8,74.4 591.3,73.3"/>
<polyline points="620.2,102.1 620.7,104.2 620.1,105.1 619.1,108.2 618.5,110 617.4,110.3 616.8,108.2 617.4,106 617.3,104.8 618.6,104.2 619.5,103 620.2,102.1"/>
<polyline points="610.6,76 611.7,75.9 611.9,75 612.1,73.5 612.1,72.7 611.3,72.7 610.1,73.1 609.4,72.9 608.1,72.8 607.6,72.1 607.2,71.4 607,70.6 606.9,70.3 605.9,70.3 605.4,70.6 605.2,70.7 605.4,71.3 605.6,71.9 605.6,72.3 605.5,72.9 605,72.7 604.7,72.1 604.7,71.8 604.1,71.1 603.7,70.5 603.7,69.7 603.1,69.3 601.9,68.7 600.9,67.8 600.7,67.5 600,67.6 600.1,68.1 600.7,68.7 601.2,69.6 602,70 603.2,70.7 602.6,71.4 602.4,72 602,72 601.8,70.8 601.3,70.4 600.3,69.9 599.5,69.3 599.1,68.5 598.4,68.2 597.8,68.5 596.6,68.8 595.7,69 595.7,69.6 594.7,70.2 594.2,71.1 594,71.9 593.3,72.6 592,72.8 591.4,73.2 591.1,72.7 590.5,72.5 589.7,72.6 589.9,71.6 589.6,71.1 589.9,70.2 589.9,69.3 589.7,69 590.4,68.6 591.8,68.7 593.2,68.8 593.5,68.7 593.6,67.2 593.2,66.5 592.1,66.1 592.1,65.7 593.5,65.6 593.6,65.1 594.3,65.1 594.9,64.8 595.3,64.3 596,64 596.5,63.2 597.3,62.9 598,62.6 598,61.7 597.7,61 598.7,60.5 598.7,61.4 598.6,62.1 599.1,62.6 600,62.4 600.6,62.6 601.3,62.3 602.4,62.2 603.1,62.3 603.6,61.9 603.4,61 603.8,60.5 604.4,60.9 604.7,60.2 604.2,59.6 606.1,59.5 606.9,59.3 606.5,59.1 605.2,59 603.9,59.3 603.2,58.8 603.1,57.8 604.3,56.5 604.4,56.2 603,56.1 602.7,56.8 602,57.4 601.5,58.1 601.4,58.7 602.2,59.3 601.4,60.6 601.2,61.4 600.5,61.8 599.9,61.8 599.7,61.3 599.4,60.6 598.9,59.8 598.7,59.5 597.9,60.2 597,60.3 596.6,59.8 596.3,58.7 596.4,58 597.1,57.7 597.7,57.3 598.3,56.8 599.2,56 599.7,55.2 600.2,54.7 601.1,54.2 602,53.9 603.2,53.4 604,53.4 605,53.5 606,53.8 606.9,54.2 608.1,54.4 609.9,55.2 611.3,54.7 612.2,54.9 613,55.1 614.8,54.7 615.6,54.8 616.6,54.5 617.3,54 619.2,54.3 620.6,54.7 619.9,52.4 620.7,52.5 621.5,53.4 622.5,54.7 622.4,54.5 622.1,52.9 623.4,52.2 625.4,52 625.3,51.5 627.6,51 629.1,50.8 630,50.3 631.3,50.6 633.6,51 635.6,52.2 638.3,52.4 640.5,52.2 643.2,53.4 644.7,53.2 645.9,52.7 647.9,52.8 650.5,53.3 652.6,53.4 655.3,53.9 657.5,54.1 659.1,53.9 661.1,54 663.8,54.5"/>
<polyline points="524.6,54.5 525.5,55.2 526.4,55.6 526.5,55.9 525.6,56.2 524.2,56.8 524,56.2 522.6,56.3 521.4,56.6"/>
<polyline points="666.8,56.5 668.1,57.8 666.7,58.2 666.3,59.2 664.4,59 663.7,59.3 664.2,60.3 665.8,61.3 666.2,62.1 666.4,63.3 665.9,63.4 665.9,64.3 664.5,63.2 662.3,61.2 662,60.4 662.4,60.3 662.4,59.5 662.3,58.4 660.5,58.2 660.4,59.6 658.7,59.6 656.5,59.6 655.1,59.9 654.9,61.4 655.2,62.3 657.5,63.2 658.2,63.6 659,64.9 659.6,65.8 659.3,66.6 659.4,68.1 658.3,69.1 657.4,69.2 657.3,70.2 656.9,71 658.4,72.6 658.9,73.6 657.9,74 657.6,74.1 657,72.6 656.1,72.1 655.3,71 654.1,71.4 653.3,70.3 653.9,70.5 653.1,70.3 652.7,70.9 652.2,71.3 652.3,71.8 653.2,72.5 653.9,72.1 654.9,72.4 654.2,73.2 654,73.8 655.2,75.3 656.2,76.3 656.4,76.9 656.5,78 656,78.9 655.8,79.7 654.8,80.7 653.5,81.5 652,82 651.7,82.7 651.2,81.9 650.4,81.9 649.8,82.7 649.4,83.6 650,84.4 651.4,85.7 651.8,87.2 651.7,88 650.7,88.7 649.8,89.7 649.6,88.7 648.6,88.3 648.2,87.5 647.4,87.2 647.1,86.8 646.5,87.5 646.7,88.7 647.3,89.9 647.4,90.7 647.9,90.7 648.4,91.2 649,92.1 649.1,93.1 649.5,94.1 649.1,94.1 648,93.2 647.4,91.6 646.3,90.1 646.2,88.9 646.1,87 645.4,85 645.1,84.7 644.6,84.9 643.7,85.3 643.4,83.6 642.8,82.8 642.2,81.9 641.9,81.3 641.3,81.5 640.5,81.8 639.5,81.9 639.5,82.5 638.6,83.3 637.4,84.9 636.4,85.6 636.5,86.9 636.4,88.7 635.6,89.5 635.2,90 634.7,89.5 634,88 633.4,86 632.8,85.3 632.2,83.3 632.1,82.2 631.9,81.5 630.8,82.2 630,81.5 630.5,81.3 629.7,80.7 629,80 628.5,79.6 626.2,79.7 624.4,79.5 623.5,78.6 623.1,78.5 622.2,78.9 620.6,78.1 619.8,76.8 618.9,76.8 618.7,77.2 619.6,78.6 620.1,79.1 620.8,79.8 620.9,80.4 622.1,80.3 623.1,79.9 623.2,79.1 623.4,80.1 624.5,80.7 625.3,81.4 624.7,82.5 624.4,83.5 623.3,84.4 621.6,85.4 619.8,86.5 617.9,87.2 617.1,87.2 616.7,86.2 616.6,85 615.7,83.1 614.6,81.9 614,80.3 613,78.9 612.1,78 612.1,77.1 611.9,78 611.4,78.1 610.8,76.9 610.6,76"/>
<polyline points="607.8,70 609.3,70.1 610.4,69.6 611.7,69.8 613,70.3 614.3,69.9 614.3,69.3 613.4,68.7 612.6,68.1 611.9,67.7 611.6,67.6 611,67.8 610.2,68.1 609.7,67.6 610,67.2 609,66.9 608.5,67.4 608.3,67.7 607.9,68.2 607.7,69.2 607.8,70"/>
<polyline points="617.8,66.9 619.1,66.6 619.4,67.6 618.6,67.7 619.9,69.6 620.5,70.2 620.1,70.8 620.9,72.4 619.5,72.8 618.4,72.2 618.3,71.7 618.4,70.7 617.7,69.7 617.1,69 617,68.3 616.5,68 616.7,67.5 617.4,67 617.8,66.9"/>
<polyline points="591.6,64.8 592.6,64.7 594.8,64.3 595,63.3 594.3,62.9 593.5,62 593.3,61.4 592.8,61.4 593.4,60.5 592.7,60 592.1,60 591.6,60.8 591.7,61.3 591.7,61.8 592.2,62.1 592.8,62.3 592.9,63 592.1,63 592.3,63.6 591.8,63.9 592.7,64.1 592.3,64.2 591.6,64.8"/>
<polyline points="591.5,63.7 591.4,62.5 591.7,62.2 591.5,61.9 591,61.8 590.4,62.3 589.7,62.5 589.8,63 589.5,63.7 589.9,64 590.8,63.7 591.5,63.7"/>
<polyline points="661.4,67.6 664.1,68.8 663.7,69.6 662.5,69.3 662.2,69.9 661.6,68.8 661.4,67.6"/>
<polyline points="662.2,69.9 663,70 663.9,71.1 663.8,71.9 664.3,72.9 664.5,73.5 664.2,73.8 663.6,74 662.8,74.1 662.7,74.7 662.1,74.5 662,74 661,74.3 660.1,74.5 659.9,74.1 660.4,73.5 661.9,73.4 662,72.4 662.7,72.1 662.7,70.9 662.2,69.9"/>
<polyline points="659.6,74.7 660.7,74.8 660.8,76 660.3,76.1 659.7,75.2 659.6,74.7"/>
<polyline points="657.5,62.4 658.8,63.2 660.1,64.9 661,65.5 661.9,66.9 661.4,67.2 660.2,65.5 658.6,63.7 657.5,62.4"/>
<polyline points="656.9,79.7 657.3,80.1 657,81.6 656.5,80.9 656.9,79.7"/>
<polyline points="651.8,82.8 652.1,83.1 651.7,83.9 651,83.4 651.3,82.8 651.8,82.8"/>
<polyline points="657.3,83.8 658.2,83.8 658.2,85.3 658.2,86.3 659.5,87.1 659.3,87.3 657.7,86.3 657.2,85.3 657.3,83.8"/>
<polyline points="658.8,90.7 660.6,89.2 661.2,90.7 660.7,91.5 659.9,91 658.8,90.7"/>
<polyline points="652.4,93.8 653.1,93.9 654.2,93.1 655.4,91.7 656.2,90.7 657.3,91.7 656.8,92.3 656.6,94.3 657.3,94.3 656.6,94.9 656,96.4 655.7,97.3 655,97 653.4,96.7 652.7,96.6 652.6,95.6 652.1,94.7 652.4,93.8"/>
<polyline points="644.7,91.5 645.9,91.8 647.5,93.6 649.3,95.5 650.5,96.7 650.3,98.4 649.6,98.5 648.5,97.3 647.5,95.5 646.5,93.9 644.7,91.5"/>
<polyline points="649.9,99 651.6,98.6 653,98.8 653.9,99.1 654.8,99.6 654.7,100.1 653,99.8 651.4,99.6 650,99.1 649.9,99"/>
<polyline points="657.6,98.2 658.1,96.6 657.3,96.7 657.3,95.5 657.8,94.6 658.2,94.3 660,94.3 660.6,94 659.7,94.7 658.2,94.6 658.7,95.5 659.7,95.4 659,96.1 659.2,97.8 658.4,96.7 658,98.3 657.6,98.2"/>
<polyline points="663.7,95.7 665.4,95.4 666.1,96.9 667.5,95.9 669,96.5 671.1,97.6 671.8,99.1 672.3,99.8 673.5,101.1 671.9,101 670.7,99.5 670.1,100.3 668.8,100.4 667.5,99.9 667.2,98 665.6,97.4 664.5,97.3 664.3,96.6 663.7,95.7"/>
<polyline points="653.2,108.2 653,110.6 652.8,113 652.3,115.1 651.9,115.6 653.3,116 655.3,115.3 656.7,114.8 657.9,114.4 659.6,113.9 660.7,113.9 661.8,114.7 662.2,115.9 663.5,114.8 662.9,116.3 663.7,115.8 663.7,116.6 663.6,117.8 664.8,118.3 666.1,118.5 667.4,117.7 668.5,117.4 670.3,115.3 672.1,113.3 672.9,111.9 673.2,110.3 672.5,109.1 671.9,108.3 671,106.5 670.5,104.8 670.6,103.9 669.7,103.3 669.5,101.3 668.7,103 668.5,104.5 667.9,105.4 667.1,105.3 666.4,104.5 665.4,103.9 665.8,103 666.3,102.3 665.4,102.3 664.1,101.8 663.3,102.3 662.3,103.9 661.5,103.9 660.5,103.3 659.5,104.8 658.4,105.1 657.5,106.7 656.1,107.1 655,107.3 653.8,108 653.2,108.2"/>
<polyline points="664.8,119.4 666.4,119.5 665.4,120.8 664.5,121.1 664.4,120.3 664.8,119.4"/>
<polyline points="680.9,115.6 681.2,116.6 681.3,117.6 682.5,117.6 681.4,118.6 679.7,119.8 679.1,119.8 680.1,118.7 679.6,118.5 680.6,117.5 680.9,115.6"/>
<polyline points="678.5,119.3 678.7,120 677.1,121.2 675.7,121.9 673.8,122.9 673,122.6 674.8,121.4 676.5,120.6 677.9,119.6 678.5,119.3"/>
<polyline points="636.5,89 637.5,90.4 637.3,91.2 636.6,91.3 636.4,90.1 636.5,89"/>
<polyline points="533.3,139.9 538.4,139.9 539.5,139.2 541.8,139 544.1,138.3 547.4,138.1 550.6,137.7 554.6,138.1 557.5,137.4 561.1,137.3 564.8,137.4 566.1,136.6 567.5,135.9 568.4,134.9 568.8,133.3 570.8,132.4 569.9,133 569.6,134.1 569.9,135.4 571.2,136.4 571.9,137.6 572.7,138.3 575.1,139.2 578.9,139.7 582.2,139.6 583.7,139 585.3,138.6 586.9,137.6 589.7,136.6 594.2,135.9 598,135.9 601.8,135.9 605.7,135.6 609.6,135.4 614,134.2 617.8,134.5 621.4,135.1 623,135.6 625.6,134.6 629.9,134.1 634.1,133.8 638.1,133.8 641.7,134.2 646,133.9 649.6,134.2 652.4,135.1 655.3,135.9 657.9,136.6 655,138.3 650.5,139.7 655.1,139.9"/>
<polyline points="559.3,56.2 561.3,56.2 561.5,57.1 559.4,57.8 558.7,57.1 559.3,56.2"/>
<polyline points="561.6,51.2 566.3,50.8 565.4,51.7 561.8,51.7 561.6,51.2"/>
<polyline points="559.8,52 561.2,52 560,52.9 559.1,52.7 559.8,52"/>
<polyline points="557.1,52.4 558.8,52.2 557.9,53.2 556.4,53.2 557.1,52.4"/>
<polyline points="553,51 557.1,50.9 556.3,51.5 552.9,51.6 553,51"/>
<polyline points="563.1,49.1 565.6,48.9 565.3,49.7 562.5,50.1 563.1,49.1"/>
<polyline points="556.2,54.2 557.4,54.2 556.9,54.7 555.8,54.7 556.2,54.2"/>
<polyline points="598,50.1 599.8,49.2 603.1,49.2 601.8,50.6 599.8,50.8 598,50.1"/>
<polyline points="613.8,53.4 614.5,52 615.5,50.8 618.1,50.6 615.2,52 614.9,53.4 613.8,53.4"/>
<polyline points="626.1,49.7 626.9,49.1 629.4,49.7 628.3,50.1 626.1,49.7"/>
<polyline points="643.2,51.5 644.6,51.2 647.1,51.5 646,52 643.2,51.5"/>
<polyline points="609,49.2 612.1,48.9 614.8,49.1 612.4,49.4 609,49.2"/></g>
</g>
<polygon points="543.3,46.3 546.1,46.3 549,46.3 551.8,46.3 554.6,46.3 557.5,46.3 560.3,46.3 563.1,46.3 565.9,46.3 568.8,46.3 571.6,46.3 574.4,46.3 577.2,46.3 580.1,46.3 582.9,46.3 585.7,46.3 588.5,46.3 591.4,46.3 594.2,46.3 597,46.3 599.9,46.3 602.7,46.3 605.5,46.3 608.3,46.3 611.2,46.3 614,46.3 616.8,46.3 619.6,46.3 622.5,46.3 625.3,46.3 628.1,46.3 630.9,46.3 633.8,46.3 636.6,46.3 639.4,46.3 642.3,46.3 645.1,46.3 645.1,46.3 648.9,47.5 653.6,49.2 658.6,51.5 662.9,53.9 666.8,56.5 670.5,59.2 674,62 677.2,64.9 679.9,67.8 682.3,70.8 684.3,73.8 686,76.8 687.2,79.8 688.1,82.8 688.8,85.9 689.4,88.9 689.7,91.9 689.8,94.9 689.7,97.9 689.4,100.9 688.8,103.9 688.1,107 687.2,110 686,113 684.3,116 682.3,119 679.9,122 677.2,124.9 674,127.8 670.5,130.6 666.8,133.3 662.9,135.9 658.6,138.3 653.6,140.6 648.9,142.3 645.1,143.5 645.1,143.5 642.3,143.5 639.4,143.5 636.6,143.5 633.8,143.5 630.9,143.5 628.1,143.5 625.3,143.5 622.5,143.5 619.6,143.5 616.8,143.5 614,143.5 611.2,143.5 608.3,143.5 605.5,143.5 602.7,143.5 599.9,143.5 597,143.5 594.2,143.5 591.4,143.5 588.5,143.5 585.7,143.5 582.9,143.5 580.1,143.5 577.2,143.5 574.4,143.5 571.6,143.5 568.8,143.5 565.9,143.5 563.1,143.5 560.3,143.5 557.5,143.5 554.6,143.5 551.8,143.5 549,143.5 546.1,143.5 543.3,143.5 543.3,143.5 539.5,142.3 534.8,140.6 529.8,138.3 525.5,135.9 521.6,133.3 517.9,130.6 514.4,127.8 511.2,124.9 508.5,122 506.1,119 504.1,116 502.4,113 501.2,110 500.3,107 499.6,103.9 499,100.9 498.7,97.9 498.6,94.9 498.7,91.9 499,88.9 499.6,85.9 500.3,82.8 501.2,79.8 502.4,76.8 504.1,73.8 506.1,70.8 508.5,67.8 511.2,64.9 514.4,62 517.9,59.2 521.6,56.5 525.5,53.9 529.8,51.5 534.8,49.2 539.5,47.5 543.3,46.3" fill="none" stroke="#333" stroke-width="1.1"/>
<g font-family="'Liberation Sans', Arial, Helvetica, sans-serif" font-size="13.2" fill="#262626" text-anchor="middle">
<text x="167.9" y="38">18 ka - 2k</text><text x="380" y="38">12 ka - 2k</text><text x="591.9" y="38">9 ka - 2k</text></g>
<defs><linearGradient id="rb" x1="0" y1="1" x2="0" y2="0">
<stop offset="0.00" stop-color="#053061"/>
<stop offset="0.10" stop-color="#2166ac"/>
<stop offset="0.20" stop-color="#4393c3"/>
<stop offset="0.30" stop-color="#92c5de"/>
<stop offset="0.40" stop-color="#d1e5f0"/>
<stop offset="0.50" stop-color="#f7f7f7"/>
<stop offset="0.60" stop-color="#fddbc7"/>
<stop offset="0.70" stop-color="#f4a582"/>
<stop offset="0.80" stop-color="#d6604d"/>
<stop offset="0.90" stop-color="#b2182b"/>
<stop offset="1.00" stop-color="#67001f"/>
</linearGradient></defs>
<rect x="698.5" y="41.8" width="14.7" height="105.2" fill="url(#rb)" stroke="#262626" stroke-width="1"/>
<line x1="711" y1="69.2" x2="713.2" y2="69.2" stroke="#262626" stroke-width="1"/>
<line x1="711" y1="95.3" x2="713.2" y2="95.3" stroke="#262626" stroke-width="1"/>
<line x1="711" y1="121.4" x2="713.2" y2="121.4" stroke="#262626" stroke-width="1"/>
<g font-family="'Liberation Sans', Arial, Helvetica, sans-serif" font-size="12.4" fill="#262626">
<text x="718.8" y="47.5">20</text>
<text x="718.8" y="73.6">10</text>
<text x="718.8" y="99.7">0</text>
<text x="718.5" y="125.8">-10</text>
<text x="718.5" y="151.9">-20</text>
</g>
<text font-family="'Liberation Sans', Arial, Helvetica, sans-serif" font-size="12.4" fill="#262626" transform="translate(756 95) rotate(-90)" text-anchor="middle">ΔSAT (<tspan font-size="10" dy="-4.2" dx="1">°</tspan><tspan dy="4.2" dx="0.5">C)</tspan></text>
<rect x="166.8" y="444.7" width="5.4" height="4.2" fill="#6e6e6e" stroke="#8a8a8a" stroke-width="0.6"/>
<rect x="173.8" y="440" width="5.4" height="8.9" fill="#6e6e6e" stroke="#8a8a8a" stroke-width="0.6"/>
<rect x="180.9" y="433.8" width="5.4" height="15.1" fill="#6e6e6e" stroke="#8a8a8a" stroke-width="0.6"/>
<rect x="187.6" y="430.3" width="5.4" height="18.6" fill="#6e6e6e" stroke="#8a8a8a" stroke-width="0.6"/>
<rect x="194.7" y="430.3" width="5.4" height="18.6" fill="#6e6e6e" stroke="#8a8a8a" stroke-width="0.6"/>
<rect x="201.7" y="424.8" width="5.4" height="24.1" fill="#6e6e6e" stroke="#8a8a8a" stroke-width="0.6"/>
<rect x="208.8" y="411.2" width="5.4" height="37.7" fill="#6e6e6e" stroke="#8a8a8a" stroke-width="0.6"/>
<rect x="215.9" y="408.5" width="5.4" height="40.4" fill="#6e6e6e" stroke="#8a8a8a" stroke-width="0.6"/>
<rect x="222.7" y="435.5" width="5.4" height="13.4" fill="#6e6e6e" stroke="#8a8a8a" stroke-width="0.6"/>
<rect x="229.8" y="447.6" width="5.4" height="1.3" fill="#6e6e6e" stroke="#8a8a8a" stroke-width="0.6"/>
<rect x="340.5" y="448" width="5.4" height="0.9" fill="#b9b9b9" stroke="#cfcfcf" stroke-width="0.6"/>
<rect x="347.5" y="447.8" width="5.4" height="1.1" fill="#b9b9b9" stroke="#cfcfcf" stroke-width="0.6"/>
<rect x="354.5" y="447.9" width="5.4" height="1" fill="#b9b9b9" stroke="#cfcfcf" stroke-width="0.6"/>
<rect x="361.4" y="448" width="5.4" height="0.9" fill="#b9b9b9" stroke="#cfcfcf" stroke-width="0.6"/>
<rect x="368.3" y="443.4" width="5.4" height="5.5" fill="#b9b9b9" stroke="#cfcfcf" stroke-width="0.6"/>
<rect x="375.4" y="439" width="5.4" height="9.9" fill="#b9b9b9" stroke="#cfcfcf" stroke-width="0.6"/>
<rect x="382.3" y="418" width="5.4" height="30.9" fill="#b9b9b9" stroke="#cfcfcf" stroke-width="0.6"/>
<rect x="389.4" y="388.4" width="5.4" height="60.5" fill="#b9b9b9" stroke="#cfcfcf" stroke-width="0.6"/>
<rect x="396.4" y="405.8" width="5.4" height="43.1" fill="#b9b9b9" stroke="#cfcfcf" stroke-width="0.6"/>
<rect x="403.4" y="437.6" width="5.4" height="11.3" fill="#b9b9b9" stroke="#cfcfcf" stroke-width="0.6"/>
<rect x="410.4" y="434.6" width="5.4" height="14.3" fill="#b9b9b9" stroke="#cfcfcf" stroke-width="0.6"/>
<rect x="417.4" y="446" width="5.4" height="2.9" fill="#b9b9b9" stroke="#cfcfcf" stroke-width="0.6"/>
<defs><filter id="bl" x="-5%" y="-5%" width="110%" height="110%"><feGaussianBlur stdDeviation="0.45"/></filter></defs>
<g filter="url(#bl)"><polygon points="72.5,343.6 73.3,343.8 74.1,344.2 74.9,344.7 75.7,345.2 76.5,345.7 77.3,346.2 78.1,346.6 78.9,346.9 79.7,347.1 80.5,347.4 81.3,347.6 82.1,347.9 82.9,348.1 83.7,348.4 84.5,348.9 85.3,349.3 86.1,349.8 86.9,350.3 87.7,350.7 88.5,351.2 89.3,351.8 90.1,352.4 90.9,353 91.7,353.6 92.5,354.2 93.3,354.7 94.1,355 94.9,355.2 95.7,355.5 96.5,355.8 97.3,356 98.1,356.3 98.9,356.8 99.7,357.2 100.5,357.7 101.3,358.2 102.1,358.7 102.9,359.2 103.7,359.6 104.5,359.9 105.3,360.1 106.1,360.4 106.9,360.6 107.7,360.7 108.5,360.8 109.3,360.9 110.1,361 110.9,361.1 111.7,361.2 112.5,361.3 113.3,361.5 114.1,361.6 114.9,361.7 115.7,361.9 116.5,362 117.3,362.2 118.1,362.3 118.9,362.4 119.7,362.6 120.5,362.8 121.3,362.9 122.1,363.1 122.9,363.3 123.7,363.5 124.5,363.6 125.3,363.9 126.1,364.2 126.9,365 127.7,365.7 128.5,366.5 129.3,367.3 130.1,368 130.9,368.8 131.7,369.6 132.5,370.3 133.3,371.1 134.1,371.1 134.9,370.8 135.7,370.5 136.5,370.1 137.3,369.7 138.1,369.1 138.9,368.5 139.7,367.9 140.5,367.3 141.3,366.8 142.1,366.5 142.9,366.2 143.7,365.9 144.5,365.6 145.3,365.5 146.1,365.5 146.9,365.5 147.7,365.3 148.5,364.8 149.3,364.3 150.1,363.9 150.9,363.4 151.7,363 152.5,362.9 153.3,362.8 154.1,362.7 154.9,362.5 155.7,362.9 156.5,363.4 157.3,364 158.1,364.5 158.9,365 159.7,365.6 160.5,366.1 161.3,366.9 162.1,367.8 162.9,368.6 163.7,369.4 164.5,370.2 165.3,370.9 166.1,371.2 166.9,371.1 167.7,371 168.5,370.9 169.3,370.7 170.1,370.6 170.9,370.5 171.7,370.4 172.5,370.4 173.3,370.7 174.1,371 174.9,371.3 175.7,371.6 176.5,371.9 177.3,372.2 178.1,372.4 178.9,372.5 179.7,372.5 180.5,372.5 181.3,372.5 182.1,372.4 182.9,372 183.7,371.7 184.5,371.3 185.3,371 186.1,370.6 186.9,370.3 187.7,369.9 188.5,369.7 189.3,369.8 190.1,370 190.9,370.2 191.7,370.3 192.5,370.5 193.3,370.7 194.1,370.8 194.9,371.1 195.7,371.5 196.5,371.8 197.3,372.2 198.1,372.5 198.9,372.9 199.7,373.1 200.5,372.9 201.3,372 202.1,371 202.9,370.1 203.7,369.2 204.5,368.3 205.3,367.3 206.1,366.8 206.9,366.3 207.7,365.8 208.5,365.3 209.3,364.8 210.1,364.1 210.9,363.2 211.7,362.2 212.5,361.2 213.3,360.3 214.1,359.3 214.9,358.4 215.7,357.9 216.5,357.3 217.3,356.7 218.1,356.2 218.9,355.6 219.7,354.8 220.5,353.8 221.3,352.8 222.1,351.8 222.9,350.8 223.7,349.7 224.5,348.6 225.3,347.5 226.1,346.4 226.9,345.3 227.7,344.3 228.5,343.7 229.3,343.1 230.1,342.5 230.9,341.9 231.7,341.3 232.5,340.5 233.3,339.3 234.1,338.2 234.9,337.1 235.7,336 236.5,334.9 237.3,333.9 238.1,333.2 238.9,332.6 239.7,331.9 240.5,331.3 241.3,330.7 242.1,330.2 242.9,329.6 243.7,328.9 244.5,327.9 245.3,326.8 246.1,325.8 246.9,324.7 247.7,323.7 248.5,322.6 249.3,321.6 250.1,320.5 250.9,319.7 251.7,318.8 252.5,318 253.3,317.1 254.1,316.3 254.9,315.5 255.7,314.7 256.5,314 257.3,313.3 258.1,312.6 258.9,311.8 259.7,311.1 260.5,310.4 261.3,309.7 262.1,308.9 262.9,308.2 263.7,307.5 264.5,306.8 265.3,306.1 266.1,305.5 266.9,304.8 267.7,304.2 268.5,303.6 269.3,303 270.1,302.3 270.9,301.3 271.7,300.2 272.5,299.1 273.3,298 274.1,296.9 274.9,296.1 275.7,295.6 276.5,295.1 277.3,294.6 278.1,294 278.9,293.5 279.7,293 280.5,292.5 281.3,291.8 282.1,291 282.9,290.2 283.7,289.3 284.5,288.5 285.3,287.7 286.1,286.9 286.9,286.4 287.7,286.1 288.5,285.8 289.3,285.5 290.1,285.2 290.9,284.3 291.7,283.4 292.5,282.5 293.3,281.5 294.1,280.8 294.9,280.2 295.7,280.1 296.5,279.9 297.3,279.7 298.1,279.5 298.9,279.3 299.7,279.2 300.5,279.2 301.3,279.2 302.1,278.9 302.9,278.6 303.7,278.4 304.5,278.1 305.3,277.8 306.1,277.5 306.9,277.2 307.7,277.1 308.5,277 309.3,277 310.1,276.8 310.9,276.6 311.7,276.4 312.5,276.1 313.3,275.9 314.1,275.8 314.9,275.7 315.7,275.2 316.5,274.7 317.3,274.1 318.1,273.6 318.9,273.1 319.7,272.5 320.5,271.9 321.3,271.2 322.1,270.6 322.9,270 323.7,269.2 324.5,268.2 325.3,267.3 326.1,266.4 326.9,265.4 327.7,264.5 328.5,263.3 329.3,261.9 330.1,260.6 330.9,259.4 331.7,258.3 332.5,257.2 333.3,256 334.1,254.8 334.9,253.3 335.7,251.8 336.5,250.3 337.3,248.8 338.1,247.3 338.9,246 339.7,244.7 340.5,243.3 341.3,242 342.1,240.8 342.9,239.7 343.7,238.7 344.5,237.6 345.3,236.5 346.1,235.4 346.9,234.6 347.7,233.8 348.5,233 349.3,232.3 350.1,231.5 350.9,230.6 351.7,229.6 352.5,228.9 353.3,228.3 354.1,227.7 354.9,227.1 355.7,226.5 356.5,225.9 357.3,225.4 358.1,224.8 358.9,224.7 359.7,224.6 360.5,224.3 361.3,223.9 362.1,223.6 362.9,223.4 363.7,223.4 364.5,223.5 365.3,223.5 366.1,223.5 366.9,223 367.7,222.5 368.5,222 369.3,221.6 370.1,221.1 370.9,220.6 371.7,220.4 372.5,220.4 373.3,220.5 374.1,220.5 374.9,220.6 375.7,220.3 376.5,219.9 377.3,219.2 378.1,218.5 378.9,217.9 379.7,217.2 380.5,216.5 381.3,215.8 382.1,215 382.9,214.4 383.7,213.7 384.5,213 385.3,212.4 386.1,211.8 386.9,211.3 387.7,210.7 388.5,210.1 389.3,209.6 390.1,209.1 390.9,208.8 391.7,208.6 392.5,208.4 393.3,208.2 394.1,208 394.9,207.8 395.7,207.6 396.5,207.3 397.3,206.8 398.1,206.4 398.9,206 399.7,205.6 400.5,205 401.3,204.3 402.1,203.6 402.9,203.2 403.7,202.7 404.5,202.3 405.3,202.1 406.1,202.3 406.9,202.5 407.7,202.6 408.5,202.7 409.3,202.7 410.1,202.6 410.9,202.6 411.7,202.5 412.5,202.4 413.3,202.4 414.1,202.3 414.9,202.2 415.7,202.1 416.5,201.9 417.3,201.8 418.1,201.7 418.9,201.8 419.7,201.8 420.5,201.8 421.3,201.9 422.1,201.9 422.9,201.9 423.7,202 424.5,202.1 425.3,202.1 426.1,202.2 426.9,202.3 427.7,202.3 428.5,202.3 429.3,202.2 430.1,202.1 430.9,202 431.7,201.9 432.5,202.1 433.3,202.3 434.1,202.4 434.9,202.5 435.7,202.6 436.5,202.6 437.3,202.7 438.1,202.6 438.9,202.2 439.7,201.8 440.5,201.4 441.3,200.9 442.1,200.5 442.9,200.1 443.7,199.8 444.5,199.8 445.3,199.7 446.1,199.6 446.9,199.5 447.7,199.4 448.5,199.2 449.3,199.1 450.1,198.9 450.9,198.8 451.7,198.6 452.5,198.5 453.3,198.4 454.1,198.4 454.9,198.3 455.7,198.3 456.5,198.4 457.3,198.5 458.1,198.8 458.9,199.1 459.7,199.4 460.5,199.7 461.3,200 462.1,200.3 462.9,200.6 463.7,200.9 464.5,200.7 465.3,200.4 466.1,200.2 466.9,200 467.7,199.7 468.5,199.5 469.3,199.4 470.1,199.4 470.9,199.5 471.7,199.5 472.5,199.5 473.3,199.6 474.1,199.6 474.9,199.7 475.7,199.6 476.5,199.5 477.3,199.4 478.1,199.2 478.9,199.1 479.7,199 480.5,199.2 481.3,199.5 482.1,199.8 482.9,200.1 483.7,200.4 484.5,200.6 485.3,200.6 486.1,200.6 486.9,200.5 487.7,200.5 488.5,200.4 489.3,200.4 490.1,200.4 490.9,200.4 491.7,200.4 492.5,200.4 493.3,200.4 494.1,200.4 494.9,200.5 495.7,200.7 496.5,200.9 497.3,201.1 498.1,201.3 498.9,201.5 499.7,201.7 500.5,201.8 501.3,201.9 502.1,202.1 502.9,202.2 503.7,202.4 504.5,202.7 505.3,203.1 506.1,203.4 506.9,203.7 507.7,204 508.5,204.1 509.3,204.3 510.1,204.4 510.9,204.6 511.7,204.7 512.5,204.7 513.3,204.8 514.1,204.9 514.9,204.9 515.7,205 516.5,205.1 517.3,205 518.1,205 518.9,205 519.7,205 520.5,205 521.3,205 522.1,204.9 522.9,204.7 523.7,204.6 524.5,204.4 525.3,204.3 526.1,204.1 526.9,204 527.7,203.8 528.5,204 529.3,204.2 530.1,204.4 530.9,204.7 531.7,204.9 532.5,205.1 533.3,204.9 534.1,204.8 534.9,204.6 535.7,204.4 536.5,204.2 537.3,203.9 538.1,203.6 538.9,203.3 539.7,203 540.5,202.7 541.3,202.4 542.1,202.3 542.9,202.5 543.7,202.8 544.5,203.1 545.3,203.3 546.1,203.6 546.9,203.8 547.7,204.1 548.5,204 549.3,203.9 550.1,203.8 550.9,203.6 551.7,203.5 552.5,203.4 553.3,203.2 554.1,202.9 554.9,202.6 555.7,202.3 556.5,202 557.3,201.7 558.1,201.4 558.9,201.1 559.7,201.1 560.5,201.2 561.3,201.3 562.1,201.3 562.9,201.4 563.7,201.5 564.5,201.5 565.3,201.6 566.1,201.6 566.9,201.6 567.7,201.7 568.5,201.7 569.3,201.7 570.1,201.7 570.9,201.6 571.7,201.5 572.5,201.3 573.3,201.2 574.1,201 574.9,200.8 575.7,200.7 576.5,200.6 577.3,200.6 578.1,200.5 578.9,200.5 579.7,200.5 580.5,200.5 581.3,200.5 582,200.5 582,211.4 581.3,211.5 580.5,211.6 579.7,211.7 578.9,211.9 578.1,211.7 577.3,211.6 576.5,211.4 575.7,211.3 574.9,211.4 574.1,211.7 573.3,212 572.5,212.3 571.7,212.7 570.9,213 570.1,213.3 569.3,213.4 568.5,213.3 567.7,213.2 566.9,213 566.1,212.9 565.3,212.8 564.5,213.2 563.7,213.6 562.9,213.9 562.1,214.3 561.3,214.7 560.5,214.8 559.7,214.8 558.9,214.8 558.1,214.8 557.3,214.7 556.5,214.7 555.7,214.7 554.9,214.7 554.1,214.7 553.3,214.8 552.5,214.8 551.7,214.9 550.9,214.9 550.1,215 549.3,215 548.5,215.2 547.7,215.5 546.9,215.8 546.1,216.1 545.3,216.4 544.5,216.7 543.7,217 542.9,217.1 542.1,217.3 541.3,217.5 540.5,217.7 539.7,217.9 538.9,218.1 538.1,218.3 537.3,218.5 536.5,218.7 535.7,219 534.9,219.2 534.1,219.5 533.3,219.8 532.5,220 531.7,220.1 530.9,220.1 530.1,220.1 529.3,220.1 528.5,220.1 527.7,220.1 526.9,220.1 526.1,220.1 525.3,220 524.5,220 523.7,219.9 522.9,219.8 522.1,220.3 521.3,220.8 520.5,221.3 519.7,221.7 518.9,222.1 518.1,222.3 517.3,222.3 516.5,222.2 515.7,222.2 514.9,222.1 514.1,222.1 513.3,222 512.5,222 511.7,221.8 510.9,221.7 510.1,221.5 509.3,221.4 508.5,221.2 507.7,221.1 506.9,220.8 506.1,220.6 505.3,220.6 504.5,220.6 503.7,220.6 502.9,220.6 502.1,220.6 501.3,220.6 500.5,220.6 499.7,220.6 498.9,220.6 498.1,220.6 497.3,220.4 496.5,219.9 495.7,219.5 494.9,219 494.1,218.6 493.3,218.2 492.5,217.7 491.7,217.7 490.9,218.1 490.1,218.4 489.3,218.8 488.5,219.2 487.7,219.1 486.9,219 486.1,218.9 485.3,218.8 484.5,218.7 483.7,218.6 482.9,218.5 482.1,218.3 481.3,217.9 480.5,217.6 479.7,217.3 478.9,217.3 478.1,217.3 477.3,217.3 476.5,217.4 475.7,217.6 474.9,217.7 474.1,217.9 473.3,218.1 472.5,218.6 471.7,219.1 470.9,219.6 470.1,220.1 469.3,220.6 468.5,220.7 467.7,220.7 466.9,220.5 466.1,220.2 465.3,220 464.5,219.8 463.7,219.7 462.9,219.9 462.1,220.1 461.3,220.3 460.5,220.5 459.7,220.4 458.9,219.9 458.1,219.4 457.3,218.9 456.5,218.4 455.7,217.9 454.9,218 454.1,218.3 453.3,218.5 452.5,218.7 451.7,218.9 450.9,219.1 450.1,219.1 449.3,219.2 448.5,219.3 447.7,219.4 446.9,219.4 446.1,219.5 445.3,219.7 444.5,220 443.7,220.2 442.9,220.4 442.1,220.8 441.3,221.2 440.5,221.3 439.7,221.5 438.9,221.7 438.1,221.9 437.3,222.1 436.5,222.2 435.7,222.4 434.9,222.6 434.1,222.6 433.3,222.7 432.5,222.6 431.7,222.5 430.9,222.3 430.1,222.4 429.3,222.4 428.5,222.5 427.7,222.5 426.9,222.6 426.1,222.5 425.3,222.4 424.5,222.3 423.7,222.2 422.9,222.3 422.1,222.4 421.3,222.5 420.5,222.7 419.7,222.8 418.9,223 418.1,223.1 417.3,223.3 416.5,223.4 415.7,223.6 414.9,223.7 414.1,223.9 413.3,224 412.5,224 411.7,223.7 410.9,223.5 410.1,223.3 409.3,223.1 408.5,223 407.7,222.9 406.9,222.8 406.1,222.7 405.3,222.6 404.5,222.7 403.7,222.9 402.9,223.1 402.1,223.4 401.3,223.7 400.5,224 399.7,224.3 398.9,224.6 398.1,225 397.3,225.5 396.5,225.9 395.7,226.4 394.9,226.9 394.1,227.4 393.3,227.8 392.5,228.1 391.7,228.5 390.9,228.9 390.1,229.2 389.3,229.7 388.5,230.5 387.7,231.2 386.9,232 386.1,232.7 385.3,233.5 384.5,233.8 383.7,234.2 382.9,234.5 382.1,234.9 381.3,235.2 380.5,235.5 379.7,235.9 378.9,236.5 378.1,237.2 377.3,237.8 376.5,238.5 375.7,239.2 374.9,239.9 374.1,240.5 373.3,241 372.5,241.6 371.7,242.2 370.9,242.6 370.1,242.5 369.3,242.5 368.5,242.4 367.7,242.4 366.9,242.8 366.1,243.3 365.3,243.9 364.5,244.5 363.7,245.1 362.9,245.6 362.1,246.2 361.3,246.6 360.5,247 359.7,247.3 358.9,247.3 358.1,247.2 357.3,247.7 356.5,248.2 355.7,248.7 354.9,249.2 354.1,249.6 353.3,250.2 352.5,250.7 351.7,251.3 350.9,252.3 350.1,253.4 349.3,254.5 348.5,255.6 347.7,256.5 346.9,257.4 346.1,258.3 345.3,259.4 344.5,260.5 343.7,261.6 342.9,262.7 342.1,263.8 341.3,265.1 340.5,266.5 339.7,267.9 338.9,269.3 338.1,270.6 337.3,272 336.5,273.4 335.7,274.6 334.9,275.8 334.1,276.9 333.3,278 332.5,279.1 331.7,280.2 330.9,281.3 330.1,282.4 329.3,283.6 328.5,285 327.7,286.2 326.9,287.1 326.1,288 325.3,288.8 324.5,289.5 323.7,290.2 322.9,291 322.1,291.5 321.3,292.1 320.5,292.8 319.7,293.4 318.9,294.1 318.1,294.8 317.3,295.5 316.5,296.2 315.7,296.8 314.9,297.4 314.1,297.3 313.3,297.1 312.5,297 311.7,296.8 310.9,296.7 310.1,296.5 309.3,296.5 308.5,296.6 307.7,296.7 306.9,296.9 306.1,297 305.3,297.2 304.5,297.2 303.7,297.3 302.9,297.4 302.1,297.5 301.3,297.5 300.5,297.7 299.7,298.1 298.9,298.7 298.1,299.3 297.3,300 296.5,300.6 295.7,301.2 294.9,301.5 294.1,301.6 293.3,301.7 292.5,302.1 291.7,302.4 290.9,302.8 290.1,303.6 289.3,304.5 288.5,305.4 287.7,306.3 286.9,307.2 286.1,308 285.3,308.6 284.5,309.3 283.7,309.9 282.9,310.6 282.1,311.2 281.3,311.9 280.5,312.5 279.7,313.1 278.9,313.7 278.1,314.3 277.3,314.9 276.5,315.4 275.7,315.7 274.9,316 274.1,316.5 273.3,316.9 272.5,317.4 271.7,317.9 270.9,318.5 270.1,319.3 269.3,320.2 268.5,321.1 267.7,322 266.9,322.8 266.1,323.7 265.3,324.6 264.5,325.3 263.7,326 262.9,326.7 262.1,327.4 261.3,328.1 260.5,328.9 259.7,329.8 258.9,330.7 258.1,331.7 257.3,332.6 256.5,333.5 255.7,334.4 254.9,335.3 254.1,336.3 253.3,337.2 252.5,338.2 251.7,339.1 250.9,340.3 250.1,341.7 249.3,343.1 248.5,344.5 247.7,346 246.9,347.1 246.1,348.1 245.3,349.2 244.5,350.2 243.7,351.3 242.9,352.3 242.1,353.4 241.3,354.5 240.5,355.9 239.7,357.2 238.9,358.6 238.1,360 237.3,361.3 236.5,362.7 235.7,364 234.9,365.1 234.1,366.2 233.3,367.3 232.5,368.4 231.7,369.5 230.9,370.6 230.1,371.8 229.3,372.7 228.5,373.7 227.7,374.6 226.9,375.6 226.1,376.1 225.3,376.6 224.5,377.2 223.7,377.7 222.9,378.2 222.1,378.8 221.3,379.6 220.5,380.5 219.7,381.4 218.9,382.3 218.1,383.2 217.3,384.1 216.5,385 215.7,385.8 214.9,386.7 214.1,387.6 213.3,388.4 212.5,389.3 211.7,390.2 210.9,391.1 210.1,391.9 209.3,392.9 208.5,393.9 207.7,394.8 206.9,395.7 206.1,396.6 205.3,397.6 204.5,398.5 203.7,399.4 202.9,400.3 202.1,401.1 201.3,400.9 200.5,400.6 199.7,400.4 198.9,399.7 198.1,399 197.3,398.3 196.5,397.6 195.7,396.8 194.9,396.1 194.1,395.9 193.3,395.8 192.5,395.8 191.7,396 190.9,396.4 190.1,396.8 189.3,397.2 188.5,397.6 187.7,397.7 186.9,397.7 186.1,397.7 185.3,397.8 184.5,397.8 183.7,397.7 182.9,397.5 182.1,397.4 181.3,397.2 180.5,397.1 179.7,397.1 178.9,397.2 178.1,397.3 177.3,397.3 176.5,397.3 175.7,397.3 174.9,397.4 174.1,397.5 173.3,397.6 172.5,397.6 171.7,397.7 170.9,397.8 170.1,397.8 169.3,397.8 168.5,397.8 167.7,397.8 166.9,397.8 166.1,397.1 165.3,396.3 164.5,395.3 163.7,394.4 162.9,393.4 162.1,392.4 161.3,392 160.5,392.6 159.7,393.2 158.9,393.8 158.1,394.3 157.3,394.8 156.5,395.2 155.7,395.5 154.9,395.9 154.1,396.3 153.3,396.6 152.5,396.6 151.7,396.6 150.9,396.6 150.1,396.6 149.3,396.6 148.5,397 147.7,397.5 146.9,398.1 146.1,398.6 145.3,399.2 144.5,399.4 143.7,399.4 142.9,399.4 142.1,399.4 141.3,399.4 140.5,399.4 139.7,399.4 138.9,399.2 138.1,399.1 137.3,398.9 136.5,398.8 135.7,398.6 134.9,398.5 134.1,398.4 133.3,398.3 132.5,398.3 131.7,398.3 130.9,398.2 130.1,398.2 129.3,398.2 128.5,398.2 127.7,398.3 126.9,398.3 126.1,398.4 125.3,398.4 124.5,398.4 123.7,398.3 122.9,398.3 122.1,398.2 121.3,398.1 120.5,398 119.7,397.9 118.9,397.7 118.1,397.3 117.3,396.9 116.5,396.5 115.7,396.1 114.9,395.7 114.1,395.9 113.3,396.2 112.5,396.4 111.7,396.7 110.9,396.9 110.1,396.9 109.3,396.8 108.5,396.6 107.7,396.5 106.9,396.3 106.1,395.9 105.3,395.6 104.5,395.3 103.7,395 102.9,394.6 102.1,394.3 101.3,394.1 100.5,394 99.7,393.8 98.9,393.7 98.1,393.5 97.3,393.4 96.5,393.2 95.7,392.9 94.9,392.5 94.1,392.1 93.3,391.6 92.5,391.2 91.7,391 90.9,390.8 90.1,390.6 89.3,390.4 88.5,390.2 87.7,390 86.9,389.8 86.1,389.5 85.3,389.2 84.5,389 83.7,388.7 82.9,388.4 82.1,388.1 81.3,387.8 80.5,387.4 79.7,387 78.9,386.6 78.1,386.2 77.3,385.8 76.5,385.4 75.7,385 74.9,384.7 74.1,384.5 73.3,384.3 72.5,384" fill="#d5e9f4"/>
<polygon points="72.5,348.5 73.3,348.9 74.1,349.4 74.9,350.2 75.7,350.9 76.5,351.3 77.3,351.6 78.1,351.9 78.9,352.3 79.7,352.7 80.5,353 81.3,353.4 82.1,353.5 82.9,353.5 83.7,353.5 84.5,353.6 85.3,353.6 86.1,353.7 86.9,354.4 87.7,355.3 88.5,356.3 89.3,357.2 90.1,358 90.9,358.4 91.7,358.4 92.5,358.4 93.3,358.3 94.1,358.4 94.9,358.4 95.7,358.5 96.5,358.8 97.3,359.4 98.1,359.9 98.9,360.3 99.7,360.8 100.5,361.1 101.3,361.4 102.1,361.7 102.9,362 103.7,362.3 104.5,362.6 105.3,363 106.1,363.5 106.9,364 107.7,364.4 108.5,364.8 109.3,365.1 110.1,365.1 110.9,365.1 111.7,365 112.5,364.9 113.3,365 114.1,365 114.9,365 115.7,364.9 116.5,365.1 117.3,365.2 118.1,365.4 118.9,365.5 119.7,365.7 120.5,366 121.3,366.4 122.1,366.7 122.9,367.1 123.7,367.4 124.5,367.7 125.3,367.9 126.1,368.1 126.9,368.8 127.7,369.5 128.5,370 129.3,370.4 130.1,370.8 130.9,371.2 131.7,371.7 132.5,372.2 133.3,372.7 134.1,372.7 134.9,372.6 135.7,372.5 136.5,372.4 137.3,372.2 138.1,372.1 138.9,371.6 139.7,371.1 140.5,370.6 141.3,370.2 142.1,369.8 142.9,369.3 143.7,368.6 144.5,367.9 145.3,367.3 146.1,366.9 146.9,366.5 147.7,366.4 148.5,366.3 149.3,366.1 150.1,366.1 150.9,366.2 151.7,366.3 152.5,366.3 153.3,366.5 154.1,366.6 154.9,366.7 155.7,367.2 156.5,367.9 157.3,368.5 158.1,369.1 158.9,369.7 159.7,370 160.5,370.3 161.3,370.6 162.1,370.9 162.9,371.2 163.7,371.9 164.5,372.6 165.3,373.2 166.1,373.5 166.9,373.8 167.7,374.1 168.5,373.9 169.3,373.7 170.1,373.5 170.9,373.3 171.7,373.2 172.5,373 173.3,372.8 174.1,372.6 174.9,372.7 175.7,372.9 176.5,373.1 177.3,373.2 178.1,373.4 178.9,373.5 179.7,373.4 180.5,373.3 181.3,373.2 182.1,373.1 182.9,373 183.7,372.9 184.5,372.7 185.3,372.6 186.1,372.4 186.9,372.2 187.7,372.1 188.5,371.9 189.3,372.3 190.1,372.9 190.9,373.5 191.7,374.1 192.5,374.7 193.3,375.3 194.1,375.5 194.9,375.5 195.7,375.5 196.5,375.5 197.3,375.5 198.1,375.5 198.9,375.4 199.7,375.4 200.5,375.6 201.3,375.1 202.1,374.7 202.9,374.2 203.7,373.7 204.5,373.1 205.3,372.5 206.1,371.9 206.9,370.8 207.7,369.7 208.5,368.5 209.3,367.3 210.1,366 210.9,365 211.7,364.5 212.5,363.9 213.3,363.3 214.1,362.8 214.9,362.1 215.7,361.5 216.5,360.9 217.3,360.1 218.1,359.1 218.9,358.2 219.7,357.2 220.5,356.2 221.3,355.1 222.1,354 222.9,352.9 223.7,351.9 224.5,350.8 225.3,349.8 226.1,348.8 226.9,347.7 227.7,346.7 228.5,345.6 229.3,344.6 230.1,343.7 230.9,342.8 231.7,342 232.5,341.2 233.3,340.4 234.1,340 234.9,339.6 235.7,339.1 236.5,338.7 237.3,338.3 238.1,337.6 238.9,336.7 239.7,335.8 240.5,335 241.3,334.1 242.1,333 242.9,331.9 243.7,330.7 244.5,329.5 245.3,328.4 246.1,327.5 246.9,327 247.7,326.4 248.5,325.8 249.3,325.1 250.1,324.5 250.9,323.9 251.7,323.2 252.5,321.8 253.3,320.5 254.1,319.1 254.9,317.7 255.7,316.4 256.5,315.2 257.3,314.6 258.1,314 258.9,313.4 259.7,312.8 260.5,312.2 261.3,311.6 262.1,310.8 262.9,310 263.7,309.1 264.5,308.3 265.3,307.3 266.1,306.3 266.9,305.4 267.7,304.5 268.5,304.2 269.3,303.8 270.1,303.5 270.9,303.2 271.7,302.9 272.5,302.2 273.3,301.1 274.1,300 274.9,298.9 275.7,297.8 276.5,297.2 277.3,296.7 278.1,296.1 278.9,295.7 279.7,295.2 280.5,294.8 281.3,294.3 282.1,293.5 282.9,292.4 283.7,291.2 284.5,290.1 285.3,288.9 286.1,289 286.9,289 287.7,289 288.5,289 289.3,288.7 290.1,287.9 290.9,287.1 291.7,286.4 292.5,285.7 293.3,284.9 294.1,284.3 294.9,283.8 295.7,283.2 296.5,282.7 297.3,282.2 298.1,281.6 298.9,281.1 299.7,280.7 300.5,280.9 301.3,281.3 302.1,281.7 302.9,282 303.7,282.4 304.5,282 305.3,281.5 306.1,281 306.9,280.5 307.7,280 308.5,279.5 309.3,279 310.1,278.9 310.9,278.7 311.7,278.5 312.5,278.3 313.3,278.1 314.1,277.9 314.9,277.7 315.7,276.9 316.5,276.1 317.3,275.2 318.1,274.4 318.9,273.5 319.7,273.1 320.5,272.9 321.3,272.7 322.1,272.5 322.9,272.2 323.7,271.7 324.5,271.3 325.3,270.7 326.1,269.9 326.9,269 327.7,268.2 328.5,267.1 329.3,265.8 330.1,264.6 330.9,262.9 331.7,261.1 332.5,259.3 333.3,257.5 334.1,256 334.9,255.2 335.7,254.4 336.5,253.5 337.3,252.6 338.1,251.6 338.9,250.6 339.7,249.1 340.5,247.5 341.3,246 342.1,244.6 342.9,243.1 343.7,241.7 344.5,240.3 345.3,239 346.1,237.9 346.9,236.8 347.7,235.8 348.5,234.8 349.3,233.8 350.1,233.1 350.9,232.3 351.7,231.7 352.5,231.4 353.3,231.2 354.1,230.9 354.9,230.4 355.7,229.8 356.5,229.3 357.3,228.8 358.1,228.2 358.9,228.2 359.7,228.2 360.5,228 361.3,227.8 362.1,227.5 362.9,227.2 363.7,226.8 364.5,226.4 365.3,226 366.1,225.6 366.9,225.3 367.7,225 368.5,224.6 369.3,224.3 370.1,223.9 370.9,223.5 371.7,223 372.5,222.6 373.3,222.1 374.1,221.7 374.9,221.4 375.7,221.1 376.5,220.8 377.3,220.6 378.1,220.3 378.9,220 379.7,219.1 380.5,218.1 381.3,217.1 382.1,216 382.9,215 383.7,214.4 384.5,213.9 385.3,213.3 386.1,212.8 386.9,212.3 387.7,211.8 388.5,211.2 389.3,210.5 390.1,210 390.9,209.6 391.7,209.1 392.5,208.8 393.3,208.7 394.1,208.5 394.9,208.4 395.7,208.2 396.5,208 397.3,207.9 398.1,207.8 398.9,207.7 399.7,207.7 400.5,207.6 401.3,207.4 402.1,207.1 402.9,206.9 403.7,206.6 404.5,205.9 405.3,205.3 406.1,205 406.9,204.8 407.7,204.5 408.5,204.2 409.3,204 410.1,203.8 410.9,203.6 411.7,203.6 412.5,203.4 413.3,203.3 414.1,203.2 414.9,203.5 415.7,203.8 416.5,204.1 417.3,204.5 418.1,204.9 418.9,205.4 419.7,205.2 420.5,205 421.3,204.7 422.1,204.4 422.9,204.1 423.7,203.8 424.5,203.9 425.3,204.2 426.1,204.5 426.9,204.7 427.7,205 428.5,205.3 429.3,205.5 430.1,205.6 430.9,205.7 431.7,205.8 432.5,205.8 433.3,205.7 434.1,205.6 434.9,205.4 435.7,205.1 436.5,204.9 437.3,204.6 438.1,204.4 438.9,204.1 439.7,203.9 440.5,203.7 441.3,203.5 442.1,203.4 442.9,203.2 443.7,203.2 444.5,203 445.3,202.7 446.1,202.5 446.9,202.2 447.7,202 448.5,201.8 449.3,201.9 450.1,201.9 450.9,202 451.7,202 452.5,202.1 453.3,202 454.1,201.6 454.9,201.2 455.7,200.8 456.5,200.5 457.3,200.2 458.1,200.2 458.9,200.2 459.7,200.2 460.5,200.1 461.3,200.1 462.1,200.3 462.9,200.5 463.7,200.7 464.5,201 465.3,201.3 466.1,201.6 466.9,202 467.7,202.3 468.5,202.3 469.3,202.2 470.1,202 470.9,201.9 471.7,201.8 472.5,201.8 473.3,201.8 474.1,201.8 474.9,201.8 475.7,201.8 476.5,201.8 477.3,201.8 478.1,201.9 478.9,202.1 479.7,202.3 480.5,202.6 481.3,202.8 482.1,203.1 482.9,203.4 483.7,203.7 484.5,203.9 485.3,204.1 486.1,204.3 486.9,204.5 487.7,204.6 488.5,204.5 489.3,204.1 490.1,203.7 490.9,203.4 491.7,203.1 492.5,203.2 493.3,203.5 494.1,203.8 494.9,204.1 495.7,204.4 496.5,204.7 497.3,204.9 498.1,205.1 498.9,204.8 499.7,204.7 500.5,204.6 501.3,204.5 502.1,204.4 502.9,204.1 503.7,203.8 504.5,203.7 505.3,203.8 506.1,204 506.9,204.2 507.7,204.4 508.5,204.6 509.3,205.2 510.1,205.9 510.9,206.5 511.7,207.1 512.5,207.7 513.3,207.7 514.1,207.6 514.9,207.5 515.7,207.4 516.5,207.4 517.3,207.3 518.1,207.3 518.9,207.2 519.7,207.2 520.5,207.2 521.3,207.3 522.1,207.3 522.9,207.2 523.7,206.7 524.5,206.3 525.3,205.8 526.1,205.4 526.9,204.9 527.7,204.8 528.5,205.1 529.3,205.4 530.1,205.6 530.9,205.9 531.7,206.2 532.5,206.4 533.3,206.6 534.1,206.4 534.9,206.1 535.7,205.8 536.5,205.5 537.3,205.3 538.1,205 538.9,204.6 539.7,204.3 540.5,204 541.3,203.8 542.1,203.6 542.9,203.4 543.7,203.3 544.5,203.3 545.3,203.2 546.1,203.1 546.9,203 547.7,203 548.5,203.1 549.3,203.1 550.1,203.1 550.9,203.1 551.7,203.2 552.5,203.3 553.3,203.5 554.1,203.6 554.9,203.8 555.7,203.9 556.5,204 557.3,203.5 558.1,203 558.9,202.5 559.7,202 560.5,201.6 561.3,201.9 562.1,202.3 562.9,202.6 563.7,202.9 564.5,203.3 565.3,203.3 566.1,202.9 566.9,202.6 567.7,202.3 568.5,202 569.3,201.9 570.1,202.1 570.9,202.4 571.7,202.7 572.5,202.9 573.3,203 574.1,202.5 574.9,202 575.7,201.6 576.5,201.1 577.3,200.6 578.1,200.1 578.9,200.1 579.7,200.2 580.5,200.3 581.3,200.5 582,200.7 582,210.7 581.3,210.7 580.5,210.8 579.7,210.9 578.9,211 578.1,211 577.3,210.9 576.5,210.7 575.7,210.5 574.9,210.4 574.1,210.2 573.3,210 572.5,210.1 571.7,210.4 570.9,210.8 570.1,211.2 569.3,211.5 568.5,211.9 567.7,212.2 566.9,212.6 566.1,212.9 565.3,213.2 564.5,213.6 563.7,213.9 562.9,214.3 562.1,214.2 561.3,213.9 560.5,213.6 559.7,213.3 558.9,213 558.1,212.6 557.3,212.3 556.5,212.5 555.7,212.7 554.9,212.9 554.1,213.1 553.3,213.2 552.5,213.3 551.7,213.3 550.9,213.4 550.1,213.5 549.3,213.5 548.5,213.6 547.7,213.7 546.9,213.8 546.1,214.2 545.3,214.5 544.5,214.9 543.7,215.3 542.9,215.7 542.1,216.1 541.3,216.2 540.5,216.2 539.7,216.4 538.9,216.5 538.1,216.7 537.3,216.7 536.5,216.6 535.7,216.5 534.9,216.4 534.1,216.3 533.3,216.2 532.5,216.2 531.7,216.3 530.9,216.4 530.1,216.4 529.3,216.5 528.5,216.6 527.7,216.7 526.9,216.8 526.1,216.9 525.3,217.1 524.5,217.2 523.7,217.3 522.9,218 522.1,218.5 521.3,219 520.5,219.4 519.7,219.5 518.9,219.2 518.1,218.8 517.3,218.5 516.5,218.2 515.7,217.9 514.9,218.2 514.1,218.4 513.3,218.6 512.5,218.9 511.7,219.1 510.9,219.3 510.1,219.4 509.3,219.4 508.5,219.4 507.7,219.4 506.9,219.3 506.1,219.2 505.3,219.2 504.5,219 503.7,218.5 502.9,218.1 502.1,217.6 501.3,217 500.5,216.7 499.7,216.7 498.9,216.7 498.1,216.8 497.3,217 496.5,217.1 495.7,217.2 494.9,217.2 494.1,217.2 493.3,217.2 492.5,217.2 491.7,217.2 490.9,217.1 490.1,217 489.3,217 488.5,217 487.7,217 486.9,217 486.1,216.9 485.3,216.7 484.5,216.7 483.7,216.7 482.9,216.6 482.1,216.6 481.3,216.6 480.5,216.4 479.7,216.3 478.9,216.4 478.1,216.5 477.3,216.6 476.5,216.6 475.7,216.6 474.9,216.6 474.1,216.6 473.3,216.7 472.5,216.9 471.7,217 470.9,217.1 470.1,217.3 469.3,217.4 468.5,217.6 467.7,217.5 466.9,217.7 466.1,217.9 465.3,218.1 464.5,218.3 463.7,218.6 462.9,218.9 462.1,219 461.3,218.8 460.5,218.7 459.7,218.6 458.9,218.4 458.1,218.2 457.3,218.1 456.5,217.9 455.7,217.8 454.9,217.7 454.1,217.7 453.3,217.6 452.5,217.4 451.7,217.2 450.9,217 450.1,216.8 449.3,216.6 448.5,216.3 447.7,216.1 446.9,216 446.1,216.3 445.3,216.6 444.5,216.8 443.7,217.2 442.9,217.5 442.1,218.1 441.3,218.6 440.5,219.1 439.7,219.5 438.9,219.9 438.1,220.3 437.3,220.7 436.5,221.1 435.7,221.5 434.9,221.6 434.1,221.7 433.3,221.8 432.5,221.8 431.7,221.7 430.9,221.5 430.1,221.2 429.3,220.8 428.5,220.5 427.7,220.1 426.9,219.7 426.1,219.4 425.3,219.4 424.5,219.4 423.7,219.4 422.9,219.4 422.1,219.5 421.3,219.5 420.5,219.6 419.7,219.7 418.9,219.9 418.1,220.2 417.3,220.4 416.5,220.6 415.7,220.9 414.9,221.2 414.1,221.5 413.3,221.4 412.5,221.2 411.7,221 410.9,220.8 410.1,220.6 409.3,220.3 408.5,220.1 407.7,219.9 406.9,219.9 406.1,219.8 405.3,219.8 404.5,219.9 403.7,220.2 402.9,220.8 402.1,221.4 401.3,221.9 400.5,222.5 399.7,223 398.9,223.4 398.1,223.5 397.3,223.6 396.5,223.8 395.7,223.9 394.9,224.1 394.1,224.5 393.3,224.9 392.5,225.3 391.7,225.8 390.9,226.2 390.1,226.6 389.3,227.1 388.5,227.8 387.7,228.7 386.9,229.5 386.1,230.3 385.3,231.1 384.5,231.9 383.7,232.6 382.9,233.3 382.1,233.9 381.3,234.6 380.5,235.3 379.7,235.8 378.9,236.2 378.1,236.7 377.3,237.2 376.5,237.7 375.7,237.8 374.9,238 374.1,237.9 373.3,237.8 372.5,237.7 371.7,237.8 370.9,238.4 370.1,239 369.3,239.6 368.5,240.2 367.7,240.8 366.9,241.5 366.1,242.1 365.3,242.7 364.5,243.2 363.7,243.8 362.9,244.3 362.1,244.9 361.3,245.3 360.5,245.4 359.7,245.5 358.9,245.2 358.1,245 357.3,245.2 356.5,245.5 355.7,245.8 354.9,246.1 354.1,246.5 353.3,246.9 352.5,247.3 351.7,247.7 350.9,248.5 350.1,249.4 349.3,250.3 348.5,251.3 347.7,252.6 346.9,253.9 346.1,255.2 345.3,256.6 344.5,258 343.7,259.4 342.9,260.8 342.1,262.1 341.3,263.3 340.5,264.6 339.7,266 338.9,267.3 338.1,268.7 337.3,270.1 336.5,271.5 335.7,272.9 334.9,274.2 334.1,275.5 333.3,276.8 332.5,278.1 331.7,279 330.9,280 330.1,281 329.3,282 328.5,283 327.7,283.9 326.9,284.8 326.1,285.6 325.3,286.4 324.5,287.3 323.7,288.2 322.9,289.2 322.1,290.1 321.3,290.9 320.5,291.6 319.7,292.4 318.9,293.2 318.1,293.9 317.3,294.4 316.5,295 315.7,295.6 314.9,296.1 314.1,295.9 313.3,295.8 312.5,295.7 311.7,295.5 310.9,295.4 310.1,295.1 309.3,295 308.5,294.8 307.7,294.7 306.9,294.6 306.1,294.5 305.3,294.6 304.5,294.7 303.7,294.8 302.9,294.8 302.1,294.9 301.3,294.9 300.5,295.1 299.7,295.5 298.9,296.2 298.1,296.8 297.3,297.3 296.5,297.7 295.7,298 294.9,298.3 294.1,298.7 293.3,299.1 292.5,299.9 291.7,300.7 290.9,301.4 290.1,302.3 289.3,303.1 288.5,303.9 287.7,304.7 286.9,305.3 286.1,305.8 285.3,306.1 284.5,306.5 283.7,306.9 282.9,307.3 282.1,307.6 281.3,308 280.5,308.4 279.7,308.7 278.9,309.1 278.1,309.5 277.3,310.4 276.5,311.4 275.7,312.3 274.9,313.3 274.1,314.3 273.3,315.3 272.5,316 271.7,316.7 270.9,317.4 270.1,318.2 269.3,318.9 268.5,319.7 267.7,320.5 266.9,321.3 266.1,322.2 265.3,323 264.5,323.9 263.7,324.7 262.9,325.4 262.1,326.2 261.3,327.1 260.5,328 259.7,328.8 258.9,329.7 258.1,330.6 257.3,331.4 256.5,332.2 255.7,333 254.9,334.2 254.1,335.3 253.3,336.4 252.5,337.7 251.7,339 250.9,340.3 250.1,341.6 249.3,342.9 248.5,343.9 247.7,345 246.9,346 246.1,347 245.3,347.8 244.5,348.5 243.7,349.1 242.9,349.7 242.1,350.3 241.3,351 240.5,351.7 239.7,352.9 238.9,354.3 238.1,355.7 237.3,357.1 236.5,358.4 235.7,359.8 234.9,361.1 234.1,362.4 233.3,363.1 232.5,363.8 231.7,364.5 230.9,365.2 230.1,365.9 229.3,366.9 228.5,368.1 227.7,369.3 226.9,370.4 226.1,371.6 225.3,372.7 224.5,373.5 223.7,374.2 222.9,374.9 222.1,375.5 221.3,376.3 220.5,377 219.7,378.4 218.9,379.7 218.1,381.1 217.3,382.4 216.5,383.8 215.7,384.6 214.9,385.3 214.1,386 213.3,386.7 212.5,387.3 211.7,388 210.9,388.7 210.1,389.5 209.3,390.7 208.5,391.8 207.7,392.8 206.9,393.8 206.1,394.8 205.3,395.6 204.5,396.4 203.7,397.3 202.9,398.1 202.1,398.7 201.3,398.4 200.5,398.2 199.7,398 198.9,397.8 198.1,397.6 197.3,397.3 196.5,397.1 195.7,396.8 194.9,396.6 194.1,396.2 193.3,395.9 192.5,395.6 191.7,395.2 190.9,394.9 190.1,394.6 189.3,394.4 188.5,394.1 187.7,394.4 186.9,394.7 186.1,394.9 185.3,395.2 184.5,395.5 183.7,395.8 182.9,396 182.1,396.2 181.3,395.7 180.5,395.2 179.7,394.7 178.9,394.2 178.1,393.7 177.3,393.9 176.5,394.2 175.7,394.4 174.9,394.6 174.1,394.9 173.3,395.2 172.5,395.5 171.7,395.6 170.9,395.3 170.1,394.9 169.3,394.6 168.5,394.2 167.7,393.9 166.9,393.5 166.1,393.1 165.3,392.8 164.5,392.5 163.7,392.2 162.9,391.8 162.1,391.4 161.3,391.5 160.5,391.7 159.7,391.7 158.9,391.6 158.1,391.5 157.3,391.3 156.5,391.2 155.7,391.4 154.9,391.6 154.1,391.8 153.3,392.1 152.5,392.3 151.7,392.5 150.9,392.6 150.1,392.6 149.3,392.7 148.5,392.8 147.7,392.9 146.9,393.1 146.1,393.2 145.3,393.6 144.5,393.9 143.7,394.1 142.9,394.3 142.1,394.5 141.3,394.7 140.5,394.9 139.7,395.1 138.9,394.9 138.1,394.6 137.3,394.3 136.5,394.1 135.7,393.9 134.9,393.6 134.1,393.6 133.3,393.8 132.5,394 131.7,394.1 130.9,394.4 130.1,394.5 129.3,394.4 128.5,394.4 127.7,394.3 126.9,394.2 126.1,394.1 125.3,394.1 124.5,394 123.7,394 122.9,393.9 122.1,393.8 121.3,393.7 120.5,393.7 119.7,393.6 118.9,393.6 118.1,393.6 117.3,393.4 116.5,393.2 115.7,393 114.9,392.7 114.1,392.4 113.3,392 112.5,391.7 111.7,391.8 110.9,392.3 110.1,392.7 109.3,393.1 108.5,393.5 107.7,393.5 106.9,393.1 106.1,392.6 105.3,392 104.5,391.5 103.7,391.1 102.9,391 102.1,391 101.3,390.9 100.5,390.9 99.7,390.9 98.9,390.8 98.1,390.8 97.3,390.6 96.5,390 95.7,389.4 94.9,388.7 94.1,388.1 93.3,387.5 92.5,387.1 91.7,386.8 90.9,386.5 90.1,386.3 89.3,386 88.5,385.7 87.7,385.3 86.9,385 86.1,384.7 85.3,384.4 84.5,384.1 83.7,383.8 82.9,383.6 82.1,383.3 81.3,383 80.5,382.8 79.7,382.6 78.9,382.4 78.1,382.2 77.3,382 76.5,381.8 75.7,381.4 74.9,381.1 74.1,380.7 73.3,380.5 72.5,380.3" fill="#a8d1ea"/>
<polygon points="72.5,352.5 73.3,352.1 74.1,352 74.9,352.3 75.7,352.5 76.5,352.8 77.3,353 78.1,353.2 78.9,353.5 79.7,353.9 80.5,354.5 81.3,355 82.1,355.6 82.9,356.2 83.7,356.7 84.5,357.3 85.3,357.5 86.1,357.8 86.9,358.1 87.7,358.4 88.5,358.7 89.3,359.1 90.1,359.4 90.9,359.6 91.7,359.9 92.5,360.2 93.3,360.5 94.1,360.8 94.9,361.4 95.7,362.2 96.5,363.1 97.3,363.9 98.1,364.6 98.9,365.3 99.7,366 100.5,365.9 101.3,365.8 102.1,365.7 102.9,365.6 103.7,365.7 104.5,366.2 105.3,366.7 106.1,367.2 106.9,367.6 107.7,368 108.5,368.3 109.3,368.6 110.1,368.8 110.9,369 111.7,369.3 112.5,369.5 113.3,369.9 114.1,370.3 114.9,370.5 115.7,370.3 116.5,370 117.3,369.7 118.1,369.4 118.9,369.2 119.7,369 120.5,368.9 121.3,368.9 122.1,368.9 122.9,369 123.7,369.4 124.5,369.7 125.3,370 126.1,370.3 126.9,371.1 127.7,371.8 128.5,372.5 129.3,372.9 130.1,373 130.9,373.1 131.7,373.3 132.5,373.7 133.3,374 134.1,373.9 134.9,373.4 135.7,373.2 136.5,372.9 137.3,372.7 138.1,372.5 138.9,372.3 139.7,372.2 140.5,372.1 141.3,371.9 142.1,371.7 142.9,371.5 143.7,371.3 144.5,371.1 145.3,371.1 146.1,370.9 146.9,370.5 147.7,370.1 148.5,369.7 149.3,369.3 150.1,369.1 150.9,369.1 151.7,369.3 152.5,369.5 153.3,369.6 154.1,369.8 154.9,370.1 155.7,370.6 156.5,371.2 157.3,371.8 158.1,372.4 158.9,373.1 159.7,373.6 160.5,374.2 161.3,374.8 162.1,375.4 162.9,376 163.7,376.4 164.5,376.6 165.3,376.8 166.1,376.8 166.9,376.9 167.7,377 168.5,377 169.3,377 170.1,376.9 170.9,376.8 171.7,376.7 172.5,376.6 173.3,376.5 174.1,376.5 174.9,376.6 175.7,376.8 176.5,377.1 177.3,377.4 178.1,377.7 178.9,377.9 179.7,377.7 180.5,377.4 181.3,377.2 182.1,376.9 182.9,376.7 183.7,376.4 184.5,376.5 185.3,376.7 186.1,376.9 186.9,377.1 187.7,377.2 188.5,377.4 189.3,377.7 190.1,377.7 190.9,377.7 191.7,377.8 192.5,377.9 193.3,378 194.1,377.8 194.9,377.6 195.7,377.2 196.5,376.9 197.3,376.8 198.1,377.1 198.9,377.3 199.7,377.5 200.5,377.8 201.3,377.5 202.1,377.1 202.9,376.6 203.7,376.1 204.5,375.2 205.3,374.6 206.1,373.9 206.9,373.2 207.7,372.6 208.5,372 209.3,371.3 210.1,370.5 210.9,369.7 211.7,369 212.5,368 213.3,366.8 214.1,365.7 214.9,364.5 215.7,363.2 216.5,362 217.3,361.2 218.1,360.4 218.9,359.6 219.7,358.7 220.5,357.9 221.3,357 222.1,356.2 222.9,355.4 223.7,354.6 224.5,353.7 225.3,352.8 226.1,351.9 226.9,351 227.7,350 228.5,349 229.3,347.9 230.1,346.9 230.9,345.9 231.7,344.9 232.5,343.9 233.3,342.8 234.1,341.9 234.9,341.1 235.7,340.4 236.5,339.7 237.3,339 238.1,338.1 238.9,337.3 239.7,336.5 240.5,335.7 241.3,334.8 242.1,333.9 242.9,333.1 243.7,332.4 244.5,331.6 245.3,330.8 246.1,330.1 246.9,329.2 247.7,328.4 248.5,327.7 249.3,326.9 250.1,326.1 250.9,325.3 251.7,324.4 252.5,323.4 253.3,322.3 254.1,321.1 254.9,320 255.7,318.8 256.5,317.9 257.3,317 258.1,316.1 258.9,315.3 259.7,314.5 260.5,313.7 261.3,313 262.1,312.2 262.9,311.5 263.7,310.8 264.5,310.1 265.3,309.1 266.1,308.1 266.9,307.2 267.7,306.3 268.5,305.5 269.3,304.7 270.1,304 270.9,303.2 271.7,302.5 272.5,301.8 273.3,301.2 274.1,300.5 274.9,299.9 275.7,299.2 276.5,298.5 277.3,297.8 278.1,297.1 278.9,296.4 279.7,295.7 280.5,294.9 281.3,294.2 282.1,293.4 282.9,293.2 283.7,293.1 284.5,292.9 285.3,292.8 286.1,292.5 286.9,291.9 287.7,291.1 288.5,290.4 289.3,289.7 290.1,289 290.9,288.3 291.7,287.6 292.5,286.7 293.3,285.9 294.1,285.2 294.9,284.7 295.7,284.1 296.5,283.6 297.3,283.1 298.1,282.9 298.9,282.7 299.7,282.4 300.5,282.4 301.3,282.5 302.1,282.6 302.9,282.8 303.7,282.9 304.5,283 305.3,283 306.1,282.9 306.9,282.9 307.7,282.8 308.5,282.6 309.3,282.1 310.1,281.7 310.9,281.2 311.7,280.7 312.5,280.3 313.3,279.8 314.1,279.4 314.9,279.3 315.7,279 316.5,278.7 317.3,278.3 318.1,278 318.9,277.7 319.7,277.3 320.5,277 321.3,276.1 322.1,275.1 322.9,274 323.7,272.8 324.5,271.6 325.3,270.5 326.1,269.5 326.9,268.4 327.7,267.6 328.5,266.4 329.3,265.2 330.1,263.9 330.9,262.6 331.7,261.8 332.5,261 333.3,260.3 334.1,259.5 334.9,258.6 335.7,257.3 336.5,255.9 337.3,254.5 338.1,253 338.9,251.6 339.7,250.1 340.5,248.8 341.3,247.6 342.1,246.4 342.9,245.2 343.7,244.1 344.5,243 345.3,241.9 346.1,240.9 346.9,239.6 347.7,238.3 348.5,237 349.3,235.7 350.1,234.4 350.9,233.1 351.7,232.5 352.5,232.3 353.3,232.1 354.1,231.9 354.9,231.5 355.7,230.8 356.5,230.1 357.3,229.5 358.1,228.8 358.9,228.7 359.7,228.6 360.5,228.4 361.3,228.1 362.1,227.6 362.9,227 363.7,226.4 364.5,226.1 365.3,225.9 366.1,225.8 366.9,225.7 367.7,225.6 368.5,225.5 369.3,225.3 370.1,225.2 370.9,224.9 371.7,224.7 372.5,224.4 373.3,224.2 374.1,224.1 374.9,224.1 375.7,223.8 376.5,223.5 377.3,223.2 378.1,222.9 378.9,222.3 379.7,221.7 380.5,221.1 381.3,220.5 382.1,219.7 382.9,219 383.7,218.1 384.5,217.1 385.3,216.1 386.1,215.2 386.9,214.4 387.7,213.5 388.5,212.8 389.3,212.4 390.1,212.2 390.9,212.2 391.7,212.1 392.5,212.1 393.3,211.9 394.1,211.6 394.9,211.2 395.7,210.8 396.5,210.5 397.3,210.1 398.1,209.7 398.9,209.4 399.7,209.3 400.5,209.1 401.3,208.8 402.1,208.5 402.9,208.1 403.7,207.7 404.5,207.4 405.3,207.2 406.1,207.3 406.9,207.4 407.7,207.5 408.5,207.7 409.3,207.7 410.1,207.6 410.9,207.6 411.7,207.6 412.5,207.4 413.3,206.9 414.1,206.4 414.9,205.9 415.7,205.4 416.5,205 417.3,205.4 418.1,205.9 418.9,206.3 419.7,206.8 420.5,207.2 421.3,206.9 422.1,206.6 422.9,206.2 423.7,206 424.5,205.8 425.3,205.6 426.1,205.4 426.9,205.3 427.7,205.6 428.5,206 429.3,206.3 430.1,206.7 430.9,207 431.7,207.1 432.5,207 433.3,206.7 434.1,206.4 434.9,206.1 435.7,205.8 436.5,205.4 437.3,205.1 438.1,204.9 438.9,204.7 439.7,204.6 440.5,204.4 441.3,204.1 442.1,203.8 442.9,203.5 443.7,203.2 444.5,203 445.3,202.9 446.1,202.8 446.9,202.7 447.7,202.6 448.5,202.6 449.3,202.6 450.1,202.7 450.9,202.7 451.7,202.7 452.5,202.6 453.3,202.6 454.1,202.6 454.9,202.5 455.7,202.7 456.5,202.9 457.3,203.2 458.1,203.4 458.9,203.6 459.7,203.6 460.5,203.3 461.3,203 462.1,202.8 462.9,202.5 463.7,202.2 464.5,202.1 465.3,202.3 466.1,202.5 466.9,202.7 467.7,203 468.5,203.2 469.3,203.1 470.1,203.3 470.9,203.5 471.7,203.7 472.5,203.8 473.3,204 474.1,204.2 474.9,204.3 475.7,204.3 476.5,204.2 477.3,204 478.1,204 478.9,204 479.7,204 480.5,204.1 481.3,204.1 482.1,204.1 482.9,204.2 483.7,204.3 484.5,204.4 485.3,204.4 486.1,204.6 486.9,204.9 487.7,205.1 488.5,205.2 489.3,205.4 490.1,205.5 490.9,205.7 491.7,205.8 492.5,205.9 493.3,206 494.1,206.2 494.9,206.1 495.7,205.8 496.5,205.4 497.3,205 498.1,204.7 498.9,205.2 499.7,205.9 500.5,206.5 501.3,207.2 502.1,207.8 502.9,207.7 503.7,207.5 504.5,207.3 505.3,207.1 506.1,206.9 506.9,206.7 507.7,206.9 508.5,207 509.3,207.1 510.1,207.2 510.9,207.3 511.7,207.3 512.5,207.1 513.3,207 514.1,206.9 514.9,207 515.7,207 516.5,207 517.3,207.1 518.1,207.2 518.9,207.3 519.7,207.3 520.5,207.6 521.3,207.9 522.1,208.2 522.9,208.4 523.7,208.3 524.5,208.1 525.3,207.7 526.1,207.4 526.9,207.1 527.7,206.9 528.5,206.6 529.3,206.4 530.1,206.2 530.9,206 531.7,205.8 532.5,205.7 533.3,205.6 534.1,205.6 534.9,205.7 535.7,205.9 536.5,206.1 537.3,206.3 538.1,206.2 538.9,206.2 539.7,206.2 540.5,206 541.3,205.8 542.1,205.6 542.9,205.3 543.7,205.1 544.5,204.9 545.3,204.7 546.1,204.7 546.9,204.9 547.7,205.1 548.5,205.4 549.3,205.6 550.1,205.7 550.9,205.6 551.7,205.3 552.5,205 553.3,204.7 554.1,204.4 554.9,204.1 555.7,203.8 556.5,204.1 557.3,204.4 558.1,204.7 558.9,205 559.7,205.3 560.5,205.7 561.3,205.3 562.1,204.9 562.9,204.5 563.7,204 564.5,203.6 565.3,203.5 566.1,203.6 566.9,203.8 567.7,204 568.5,204.2 569.3,204.3 570.1,204.1 570.9,203.8 571.7,203.5 572.5,203.3 573.3,203 574.1,202.7 574.9,202.5 575.7,202.3 576.5,202.3 577.3,202.2 578.1,202.1 578.9,202 579.7,201.9 580.5,201.8 581.3,201.8 582,201.9 582,209.5 581.3,209.6 580.5,209.6 579.7,209.6 578.9,209.5 578.1,209.5 577.3,209.4 576.5,209.2 575.7,209.1 574.9,209.3 574.1,209.6 573.3,210 572.5,210.3 571.7,210.7 570.9,211 570.1,211.3 569.3,211.6 568.5,211.9 567.7,212.2 566.9,212.4 566.1,212.6 565.3,212.4 564.5,212.3 563.7,212.2 562.9,212.1 562.1,211.9 561.3,211.9 560.5,212.1 559.7,212.2 558.9,212.4 558.1,212.5 557.3,212.6 556.5,212.8 555.7,212.9 554.9,213 554.1,212.9 553.3,212.9 552.5,212.9 551.7,212.9 550.9,212.9 550.1,212.9 549.3,212.9 548.5,212.8 547.7,212.8 546.9,212.7 546.1,212.6 545.3,212.5 544.5,212.5 543.7,212.6 542.9,212.9 542.1,213.2 541.3,213.5 540.5,213.7 539.7,214.1 538.9,214.5 538.1,214.9 537.3,215.1 536.5,215.2 535.7,215.2 534.9,215.3 534.1,215.3 533.3,215.4 532.5,215.4 531.7,215.5 530.9,215.7 530.1,215.8 529.3,216 528.5,216.2 527.7,216.3 526.9,216.5 526.1,216.8 525.3,216.9 524.5,217 523.7,217.1 522.9,217.2 522.1,217 521.3,216.9 520.5,216.8 519.7,216.8 518.9,217 518.1,217.2 517.3,217.4 516.5,217.4 515.7,217.4 514.9,217.5 514.1,217.5 513.3,217.6 512.5,217.7 511.7,217.8 510.9,217.7 510.1,217.6 509.3,217.5 508.5,217.4 507.7,217.3 506.9,217 506.1,217 505.3,217 504.5,216.9 503.7,216.8 502.9,216.7 502.1,216.5 501.3,216.2 500.5,215.7 499.7,215.4 498.9,215.3 498.1,215.4 497.3,215.7 496.5,215.9 495.7,216.2 494.9,216.3 494.1,216.3 493.3,216.1 492.5,216 491.7,215.8 490.9,215.6 490.1,215.5 489.3,215.5 488.5,215.5 487.7,215.5 486.9,215.5 486.1,215.3 485.3,215.1 484.5,214.9 483.7,214.7 482.9,214.5 482.1,214.2 481.3,214 480.5,213.7 479.7,213.5 478.9,213.5 478.1,213.4 477.3,213.4 476.5,213.5 475.7,213.6 474.9,214.1 474.1,214.6 473.3,215.2 472.5,215.6 471.7,216 470.9,216.4 470.1,216.9 469.3,216.9 468.5,216.7 467.7,216.3 466.9,215.8 466.1,215.3 465.3,214.9 464.5,214.7 463.7,214.6 462.9,214.5 462.1,214.5 461.3,214.5 460.5,214.5 459.7,214.5 458.9,214.4 458.1,214.3 457.3,214.2 456.5,214.1 455.7,214.2 454.9,214.5 454.1,214.8 453.3,215.1 452.5,215.4 451.7,215.5 450.9,215.3 450.1,215.1 449.3,214.8 448.5,214.6 447.7,214.3 446.9,214.1 446.1,213.9 445.3,214 444.5,214.4 443.7,214.9 442.9,215.5 442.1,216.3 441.3,216.6 440.5,216.8 439.7,216.9 438.9,217 438.1,217 437.3,217.1 436.5,217.2 435.7,217.4 434.9,217.9 434.1,218.4 433.3,218.9 432.5,219.4 431.7,219.7 430.9,220 430.1,220.2 429.3,219.8 428.5,219.3 427.7,218.9 426.9,218.4 426.1,218.1 425.3,217.7 424.5,217.3 423.7,217.3 422.9,217.6 422.1,218 421.3,218.4 420.5,218.8 419.7,219 418.9,219.3 418.1,219.5 417.3,219.4 416.5,219.3 415.7,219.3 414.9,219.3 414.1,219.3 413.3,219.3 412.5,219.3 411.7,219.3 410.9,219.2 410.1,219.2 409.3,219.1 408.5,219 407.7,219 406.9,219 406.1,219.1 405.3,219.2 404.5,219.3 403.7,219.6 402.9,219.9 402.1,220.2 401.3,220.4 400.5,220.6 399.7,220.7 398.9,220.9 398.1,221.1 397.3,221.3 396.5,221.6 395.7,221.8 394.9,222.1 394.1,222.3 393.3,222.5 392.5,222.9 391.7,223.4 390.9,223.9 390.1,224.3 389.3,224.9 388.5,225.5 387.7,226 386.9,226.6 386.1,227.2 385.3,227.7 384.5,228.5 383.7,229.4 382.9,230.3 382.1,231.2 381.3,232.2 380.5,233 379.7,233.5 378.9,234 378.1,234.6 377.3,235.1 376.5,235.6 375.7,236.1 374.9,236.6 374.1,236.8 373.3,236.9 372.5,237.1 371.7,237.3 370.9,237.6 370.1,237.8 369.3,238 368.5,238.2 367.7,238.5 366.9,238.8 366.1,239.2 365.3,239.6 364.5,240.2 363.7,240.9 362.9,241.5 362.1,242.2 361.3,242.5 360.5,242.6 359.7,242.6 358.9,242.3 358.1,242 357.3,242.2 356.5,242.5 355.7,242.9 354.9,243.3 354.1,243.8 353.3,244.4 352.5,244.9 351.7,245.4 350.9,246.4 350.1,247.4 349.3,248.5 348.5,249.7 347.7,250.8 346.9,252 346.1,253.2 345.3,254.4 344.5,255.6 343.7,256.8 342.9,258 342.1,259.3 341.3,260.6 340.5,262 339.7,263.4 338.9,264.6 338.1,265.7 337.3,266.9 336.5,268 335.7,269 334.9,270 334.1,270.9 333.3,272 332.5,273.3 331.7,274.6 330.9,276 330.1,277.4 329.3,278.8 328.5,280 327.7,281.1 326.9,281.8 326.1,282.6 325.3,283.4 324.5,284.1 323.7,285 322.9,286.2 322.1,287.3 321.3,288.3 320.5,289.2 319.7,290.2 318.9,291.1 318.1,291.7 317.3,292.1 316.5,292.4 315.7,292.8 314.9,293.1 314.1,292.8 313.3,292.6 312.5,292.4 311.7,292.5 310.9,292.5 310.1,292.7 309.3,292.9 308.5,293.1 307.7,293.3 306.9,293.6 306.1,293.8 305.3,294 304.5,294.2 303.7,294.2 302.9,294.3 302.1,294.1 301.3,293.9 300.5,293.7 299.7,293.6 298.9,293.8 298.1,294 297.3,294.5 296.5,294.9 295.7,295.4 294.9,295.8 294.1,296.3 293.3,296.8 292.5,297.4 291.7,298.1 290.9,298.7 290.1,299.5 289.3,300.2 288.5,300.8 287.7,301.5 286.9,302.1 286.1,302.7 285.3,303.1 284.5,303.6 283.7,304 282.9,304.6 282.1,305.2 281.3,305.9 280.5,306.5 279.7,307.2 278.9,307.9 278.1,308.6 277.3,309.4 276.5,310.1 275.7,310.9 274.9,311.6 274.1,312.2 273.3,312.8 272.5,313.5 271.7,314.1 270.9,314.9 270.1,315.7 269.3,316.6 268.5,317.4 267.7,318.2 266.9,319.2 266.1,320.3 265.3,321.4 264.5,322.5 263.7,323.5 262.9,324.3 262.1,325.2 261.3,326 260.5,326.9 259.7,327.4 258.9,328.1 258.1,328.7 257.3,329.4 256.5,330 255.7,330.8 254.9,331.8 254.1,333 253.3,334.2 252.5,335.4 251.7,336.5 250.9,337.7 250.1,338.8 249.3,339.7 248.5,340.6 247.7,341.4 246.9,342.3 246.1,343.1 245.3,343.8 244.5,344.4 243.7,345.5 242.9,346.7 242.1,347.9 241.3,349.3 240.5,350.7 239.7,352 238.9,353.2 238.1,354 237.3,354.7 236.5,355.4 235.7,356.1 234.9,356.7 234.1,357.4 233.3,358.1 232.5,359.2 231.7,360.2 230.9,361.3 230.1,362.3 229.3,363.2 228.5,364.2 227.7,365.2 226.9,366.4 226.1,367.5 225.3,368.6 224.5,369.6 223.7,370.6 222.9,371.6 222.1,372.7 221.3,373.8 220.5,374.9 219.7,376 218.9,377.1 218.1,378.2 217.3,379.3 216.5,380.1 215.7,380.9 214.9,381.6 214.1,382.4 213.3,383 212.5,383.6 211.7,384.3 210.9,385.3 210.1,386.3 209.3,387.4 208.5,388.4 207.7,389.3 206.9,390.2 206.1,391.1 205.3,392 204.5,392.8 203.7,393.7 202.9,394.3 202.1,394.7 201.3,394.6 200.5,394.4 199.7,394.1 198.9,393.9 198.1,393.6 197.3,393.4 196.5,393.1 195.7,392.9 194.9,392.8 194.1,392.6 193.3,392.4 192.5,392.2 191.7,392.2 190.9,392.2 190.1,392.3 189.3,392.5 188.5,392.6 187.7,392.7 186.9,392.8 186.1,392.9 185.3,392.7 184.5,392.5 183.7,392.3 182.9,392 182.1,391.7 181.3,391.4 180.5,391.4 179.7,391.5 178.9,391.5 178.1,391.5 177.3,391.4 176.5,391.4 175.7,391.4 174.9,391.4 174.1,391.6 173.3,391.8 172.5,392 171.7,392.2 170.9,392.4 170.1,392.6 169.3,392.8 168.5,392.9 167.7,393.1 166.9,393.1 166.1,392.8 165.3,392.6 164.5,392.2 163.7,391.8 162.9,391.4 162.1,390.9 161.3,390.7 160.5,390.7 159.7,390.7 158.9,390.7 158.1,390.7 157.3,390.6 156.5,390.6 155.7,390.5 154.9,390.4 154.1,390.3 153.3,390.2 152.5,390 151.7,389.7 150.9,389.5 150.1,389.4 149.3,389.3 148.5,389.7 147.7,390 146.9,390.4 146.1,390.7 145.3,390.9 144.5,391 143.7,391 142.9,391 142.1,391.1 141.3,391.2 140.5,391.4 139.7,391.5 138.9,391.8 138.1,391.8 137.3,391.8 136.5,391.9 135.7,391.9 134.9,392 134.1,391.9 133.3,391.5 132.5,391.1 131.7,390.7 130.9,390.5 130.1,390.4 129.3,390.3 128.5,390.2 127.7,390.1 126.9,390.2 126.1,390.4 125.3,390.6 124.5,390.8 123.7,391 122.9,391.1 122.1,391 121.3,391 120.5,390.9 119.7,391 118.9,391.1 118.1,391.2 117.3,391.2 116.5,391.1 115.7,391.1 114.9,391 114.1,390.6 113.3,390.2 112.5,389.9 111.7,389.8 110.9,389.7 110.1,389.7 109.3,389.6 108.5,389.5 107.7,389.2 106.9,388.8 106.1,388.5 105.3,388 104.5,387.5 103.7,387.2 102.9,386.9 102.1,386.6 101.3,386.4 100.5,386.2 99.7,386 98.9,385.8 98.1,385.8 97.3,385.8 96.5,385.6 95.7,385.4 94.9,385.3 94.1,385.1 93.3,384.9 92.5,384.8 91.7,384.6 90.9,384.5 90.1,384.3 89.3,384.2 88.5,383.9 87.7,383.3 86.9,382.5 86.1,381.7 85.3,380.9 84.5,380.2 83.7,379.5 82.9,379.2 82.1,378.9 81.3,378.6 80.5,378.3 79.7,378 78.9,377.7 78.1,377.4 77.3,377.2 76.5,377.3 75.7,377.4 74.9,377.5 74.1,377.6 73.3,378 72.5,378.4" fill="#74b0dd"/>
<polygon points="72.5,356.9 73.3,356.7 74.1,356.5 74.9,357 75.7,357.3 76.5,357.7 77.3,358.1 78.1,358.4 78.9,358.9 79.7,359.2 80.5,359.5 81.3,359.9 82.1,360.2 82.9,360.5 83.7,360.8 84.5,361.1 85.3,361.4 86.1,361.7 86.9,362.2 87.7,362.6 88.5,363.1 89.3,363.6 90.1,363.9 90.9,364.1 91.7,364.4 92.5,364.7 93.3,364.9 94.1,365.2 94.9,365.8 95.7,366.4 96.5,366.9 97.3,367.5 98.1,367.8 98.9,368.2 99.7,368.4 100.5,368.6 101.3,368.8 102.1,368.9 102.9,369.2 103.7,369.6 104.5,369.9 105.3,370.3 106.1,370.8 106.9,371.1 107.7,371.4 108.5,371.7 109.3,372 110.1,372.1 110.9,372.3 111.7,372.5 112.5,372.7 113.3,373.1 114.1,373.6 114.9,374.1 115.7,374.1 116.5,374 117.3,373.9 118.1,373.7 118.9,373.6 119.7,373.4 120.5,373.3 121.3,373.3 122.1,373.3 122.9,373.3 123.7,373.3 124.5,373.4 125.3,373.4 126.1,373.4 126.9,373.8 127.7,374.2 128.5,374.5 129.3,374.8 130.1,375 130.9,375.3 131.7,375.8 132.5,376.5 133.3,377.1 134.1,377.4 134.9,377 135.7,376.4 136.5,375.8 137.3,375.2 138.1,374.5 138.9,374 139.7,373.5 140.5,373.2 141.3,373.1 142.1,372.9 142.9,372.8 143.7,372.7 144.5,372.6 145.3,372.6 146.1,372.8 146.9,372.6 147.7,372.5 148.5,372.4 149.3,372.3 150.1,372.4 150.9,372.5 151.7,372.6 152.5,372.8 153.3,372.9 154.1,373.1 154.9,373.3 155.7,373.6 156.5,374.2 157.3,375 158.1,375.8 158.9,376.5 159.7,377.1 160.5,377.7 161.3,378.4 162.1,378.7 162.9,378.9 163.7,378.8 164.5,378.7 165.3,378.6 166.1,378.2 166.9,378.1 167.7,378.1 168.5,378.1 169.3,378 170.1,377.9 170.9,377.8 171.7,378 172.5,378.2 173.3,378.5 174.1,378.8 174.9,379.1 175.7,379.4 176.5,379.5 177.3,379.6 178.1,379.8 178.9,379.9 179.7,379.9 180.5,379.9 181.3,380 182.1,380 182.9,380.1 183.7,380.2 184.5,380.1 185.3,380.1 186.1,380.1 186.9,380 187.7,379.9 188.5,379.7 189.3,379.6 190.1,379.6 190.9,379.6 191.7,379.6 192.5,379.8 193.3,379.9 194.1,380.1 194.9,380.3 195.7,380.3 196.5,380.3 197.3,380.3 198.1,380.2 198.9,380.2 199.7,380.1 200.5,380.1 201.3,379.7 202.1,379.3 202.9,378.9 203.7,378.5 204.5,377.5 205.3,376.8 206.1,376.2 206.9,375.5 207.7,374.8 208.5,374.2 209.3,373.5 210.1,372.6 210.9,371.8 211.7,370.9 212.5,369.8 213.3,368.8 214.1,367.7 214.9,366.5 215.7,365.5 216.5,364.8 217.3,364 218.1,363.2 218.9,362.5 219.7,361.4 220.5,360.4 221.3,359.3 222.1,358.3 222.9,357.4 223.7,356.5 224.5,355.6 225.3,354.7 226.1,353.8 226.9,352.8 227.7,351.9 228.5,350.9 229.3,349.9 230.1,348.9 230.9,347.8 231.7,346.8 232.5,345.7 233.3,344.7 234.1,343.8 234.9,343 235.7,342.1 236.5,341.3 237.3,340.4 238.1,339.4 238.9,338.4 239.7,337.4 240.5,336.5 241.3,335.6 242.1,334.9 242.9,334.3 243.7,333.6 244.5,333 245.3,332.5 246.1,332 246.9,331.4 247.7,330.6 248.5,329.9 249.3,329.1 250.1,328.2 250.9,327.2 251.7,326 252.5,324.8 253.3,323.7 254.1,322.5 254.9,321.3 255.7,320.1 256.5,319.3 257.3,318.5 258.1,317.8 258.9,317 259.7,316.2 260.5,315.6 261.3,315.1 262.1,314.7 262.9,314.3 263.7,314 264.5,313.5 265.3,312.5 266.1,311.5 266.9,310.5 267.7,309.5 268.5,308.7 269.3,308 270.1,307.2 270.9,306.2 271.7,305.2 272.5,304.3 273.3,303.3 274.1,302.4 274.9,301.5 275.7,300.8 276.5,300.2 277.3,299.5 278.1,298.8 278.9,298.4 279.7,298 280.5,297.6 281.3,297.2 282.1,296.7 282.9,296.3 283.7,296 284.5,295.6 285.3,295.2 286.1,294.7 286.9,293.8 287.7,292.9 288.5,292 289.3,291.1 290.1,290.1 290.9,289.3 291.7,288.8 292.5,288.3 293.3,287.8 294.1,287.5 294.9,287.1 295.7,286.6 296.5,286.2 297.3,285.7 298.1,285.2 298.9,284.7 299.7,284.2 300.5,284.1 301.3,284 302.1,284 302.9,284.1 303.7,284 304.5,284 305.3,283.9 306.1,283.6 306.9,283.3 307.7,283.1 308.5,282.8 309.3,282.6 310.1,282.3 310.9,282 311.7,281.9 312.5,281.7 313.3,281.5 314.1,281.4 314.9,281.2 315.7,280.6 316.5,280 317.3,279.4 318.1,278.8 318.9,278.2 319.7,277.6 320.5,277.1 321.3,276.7 322.1,276.2 322.9,275.6 323.7,274.9 324.5,273.9 325.3,273.1 326.1,272.3 326.9,271.5 327.7,270.7 328.5,269.5 329.3,267.9 330.1,266.4 330.9,264.8 331.7,263.4 332.5,262.2 333.3,261.2 334.1,260.3 334.9,259.3 335.7,258.3 336.5,257.2 337.3,256 338.1,254.7 338.9,253.2 339.7,251.9 340.5,250.6 341.3,249.4 342.1,248.2 342.9,247.1 343.7,246.1 344.5,245 345.3,244 346.1,242.9 346.9,241.7 347.7,240.6 348.5,239.5 349.3,238.3 350.1,237.2 350.9,236.1 351.7,235 352.5,234.4 353.3,233.7 354.1,233.1 354.9,232.4 355.7,231.9 356.5,231.4 357.3,231 358.1,230.6 358.9,230.6 359.7,230.7 360.5,230.7 361.3,230.7 362.1,230.5 362.9,230 363.7,229.5 364.5,229 365.3,228.8 366.1,228.7 366.9,228.2 367.7,227.8 368.5,227.3 369.3,226.9 370.1,226.7 370.9,226.6 371.7,226.6 372.5,226.5 373.3,226.5 374.1,226.4 374.9,226.3 375.7,225.5 376.5,224.8 377.3,224.1 378.1,223.3 378.9,222.6 379.7,222.1 380.5,221.5 381.3,220.9 382.1,220.1 382.9,219.4 383.7,218.7 384.5,217.9 385.3,217.3 386.1,216.8 386.9,216.3 387.7,215.9 388.5,215.4 389.3,214.9 390.1,214.7 390.9,214.5 391.7,214.2 392.5,213.9 393.3,213.7 394.1,213.4 394.9,213 395.7,212.7 396.5,212.4 397.3,212 398.1,211.7 398.9,211.4 399.7,211.3 400.5,211 401.3,210.7 402.1,210.3 402.9,209.8 403.7,209.3 404.5,208.9 405.3,208.5 406.1,208.4 406.9,208.3 407.7,208.3 408.5,208.3 409.3,208.4 410.1,208.4 410.9,208.5 411.7,208.5 412.5,208.5 413.3,208.4 414.1,208.3 414.9,208.2 415.7,208.1 416.5,208 417.3,208 418.1,208 418.9,208 419.7,208 420.5,208 421.3,207.8 422.1,207.9 422.9,207.9 423.7,208 424.5,208.3 425.3,208.5 426.1,208.8 426.9,209 427.7,209.1 428.5,209.2 429.3,209.4 430.1,209.5 430.9,209.5 431.7,209.3 432.5,209.1 433.3,208.8 434.1,208.4 434.9,208 435.7,207.6 436.5,207.2 437.3,206.9 438.1,206.8 438.9,206.7 439.7,206.7 440.5,206.6 441.3,206.2 442.1,205.9 442.9,205.6 443.7,205.4 444.5,205.1 445.3,205 446.1,204.8 446.9,204.7 447.7,204.6 448.5,204.6 449.3,204.6 450.1,204.7 450.9,205 451.7,205.1 452.5,205.3 453.3,205.5 454.1,205.6 454.9,205.8 455.7,205.7 456.5,205.6 457.3,205.5 458.1,205.5 458.9,205.4 459.7,205.3 460.5,205.1 461.3,205 462.1,204.9 462.9,204.7 463.7,204.6 464.5,204.6 465.3,204.8 466.1,205.1 466.9,205.4 467.7,205.7 468.5,206 469.3,206 470.1,205.9 470.9,205.8 471.7,205.8 472.5,205.8 473.3,205.8 474.1,205.7 474.9,205.6 475.7,205.5 476.5,205.4 477.3,205.3 478.1,205.3 478.9,205.4 479.7,205.5 480.5,205.6 481.3,205.8 482.1,205.9 482.9,206.2 483.7,206.3 484.5,206.2 485.3,206.2 486.1,206.1 486.9,206 487.7,205.6 488.5,205.6 489.3,205.7 490.1,205.7 490.9,205.8 491.7,206.1 492.5,206.4 493.3,206.6 494.1,206.9 494.9,207.2 495.7,207.5 496.5,207.5 497.3,207.4 498.1,207.1 498.9,207 499.7,207.2 500.5,207.5 501.3,207.7 502.1,207.8 502.9,207.6 503.7,207.6 504.5,207.7 505.3,207.8 506.1,208 506.9,208.2 507.7,208.8 508.5,209.2 509.3,209.6 510.1,209.7 510.9,209.9 511.7,209.9 512.5,209.6 513.3,209.4 514.1,209.2 514.9,208.9 515.7,208.8 516.5,208.8 517.3,208.8 518.1,208.9 518.9,208.9 519.7,208.9 520.5,209.1 521.3,209.4 522.1,209.7 522.9,209.8 523.7,209.6 524.5,209.3 525.3,209.1 526.1,208.8 526.9,208.5 527.7,208.3 528.5,208.1 529.3,208 530.1,207.8 530.9,207.6 531.7,207.4 532.5,207.4 533.3,207.5 534.1,207.6 534.9,207.7 535.7,207.8 536.5,207.7 537.3,207.6 538.1,207.3 538.9,206.9 539.7,206.6 540.5,206.3 541.3,206.2 542.1,206.2 542.9,206.4 543.7,206.5 544.5,206.7 545.3,206.8 546.1,207 546.9,207.1 547.7,207.1 548.5,206.9 549.3,206.7 550.1,206.5 550.9,206.3 551.7,206.1 552.5,206.1 553.3,206 554.1,206 554.9,205.9 555.7,205.9 556.5,205.9 557.3,205.8 558.1,205.8 558.9,205.7 559.7,205.6 560.5,205.6 561.3,205.5 562.1,205.5 562.9,205.6 563.7,205.6 564.5,205.6 565.3,205.6 566.1,205.7 566.9,205.7 567.7,205.5 568.5,205.2 569.3,204.9 570.1,204.6 570.9,204.4 571.7,204.1 572.5,204.2 573.3,204.3 574.1,204.4 574.9,204.5 575.7,204.5 576.5,204.6 577.3,204.6 578.1,204.5 578.9,204.2 579.7,203.8 580.5,203.5 581.3,203.3 582,203.2 582,207.1 581.3,207.2 580.5,207.4 579.7,207.8 578.9,208.1 578.1,208.5 577.3,208.8 576.5,209 575.7,209.2 574.9,209.3 574.1,209.4 573.3,209.4 572.5,209.5 571.7,209.6 570.9,209.7 570.1,209.8 569.3,210 568.5,210.1 567.7,210.3 566.9,210.5 566.1,210.7 565.3,211 564.5,211.2 563.7,211.3 562.9,211.2 562.1,211.2 561.3,211.1 560.5,211 559.7,210.8 558.9,210.7 558.1,210.6 557.3,210.7 556.5,210.8 555.7,211 554.9,211.1 554.1,211.2 553.3,211.2 552.5,211.1 551.7,211 550.9,211 550.1,211 549.3,211 548.5,211 547.7,211.2 546.9,211.3 546.1,211.5 545.3,211.7 544.5,211.9 543.7,212 542.9,212.2 542.1,212.3 541.3,212.3 540.5,212.4 539.7,212.6 538.9,212.9 538.1,213.1 537.3,213.4 536.5,213.4 535.7,213.4 534.9,213.3 534.1,213.3 533.3,213.3 532.5,213.6 531.7,213.9 530.9,214.3 530.1,214.7 529.3,215.1 528.5,215.4 527.7,215.5 526.9,215.7 526.1,216 525.3,216.3 524.5,216.5 523.7,216.7 522.9,216.8 522.1,216.5 521.3,216.1 520.5,215.6 519.7,215.3 518.9,215.5 518.1,215.6 517.3,215.8 516.5,215.9 515.7,216.1 514.9,216.4 514.1,216.6 513.3,216.8 512.5,216.9 511.7,217.1 510.9,217 510.1,216.8 509.3,216.5 508.5,216.3 507.7,216.1 506.9,215.7 506.1,215.6 505.3,215.7 504.5,215.7 503.7,215.8 502.9,215.9 502.1,216 501.3,215.7 500.5,215 499.7,214.4 498.9,213.8 498.1,213.6 497.3,213.7 496.5,213.9 495.7,214.2 494.9,214.3 494.1,214.2 493.3,214.2 492.5,214.3 491.7,214.1 490.9,213.9 490.1,213.8 489.3,213.8 488.5,213.9 487.7,213.9 486.9,214 486.1,213.7 485.3,213.4 484.5,213 483.7,212.7 482.9,212.3 482.1,212.1 481.3,212.1 480.5,212.1 479.7,212.1 478.9,212.3 478.1,212.4 477.3,212.4 476.5,212.5 475.7,212.6 474.9,212.6 474.1,212.7 473.3,213.1 472.5,213.5 471.7,213.8 470.9,214.2 470.1,214.6 469.3,214.7 468.5,214.6 467.7,214.3 466.9,213.9 466.1,213.4 465.3,213 464.5,212.5 463.7,212.5 462.9,212.7 462.1,212.9 461.3,213.1 460.5,213.4 459.7,213.6 458.9,213.7 458.1,213.8 457.3,213.9 456.5,214 455.7,214 454.9,213.8 454.1,213.5 453.3,213.3 452.5,213.1 451.7,212.9 450.9,212.8 450.1,212.9 449.3,213 448.5,213.1 447.7,213.2 446.9,213.3 446.1,213.6 445.3,213.4 444.5,213.1 443.7,213 442.9,213 442.1,213.5 441.3,214.2 440.5,214.9 439.7,215.4 438.9,215.9 438.1,216.3 437.3,216.6 436.5,216.9 435.7,217.2 434.9,217.5 434.1,217.8 433.3,217.9 432.5,218 431.7,218.1 430.9,218 430.1,217.9 429.3,217.7 428.5,217.6 427.7,217.4 426.9,217.3 426.1,217.1 425.3,216.7 424.5,216.3 423.7,216 422.9,215.7 422.1,215.6 421.3,215.9 420.5,216.2 419.7,216.4 418.9,216.5 418.1,216.7 417.3,216.9 416.5,217.1 415.7,217.4 414.9,217.4 414.1,217.4 413.3,217.5 412.5,217.5 411.7,217.5 410.9,217.4 410.1,217.3 409.3,217.2 408.5,217.2 407.7,217.2 406.9,217.3 406.1,217.4 405.3,217.5 404.5,217.8 403.7,218.2 402.9,218.6 402.1,219 401.3,219.2 400.5,219.4 399.7,219.6 398.9,219.9 398.1,220.2 397.3,220.6 396.5,221 395.7,221.2 394.9,221.4 394.1,221.6 393.3,221.7 392.5,221.8 391.7,221.9 390.9,222 390.1,222.1 389.3,222.5 388.5,223 387.7,223.6 386.9,224.2 386.1,224.8 385.3,225.4 384.5,226.2 383.7,226.9 382.9,227.7 382.1,228.4 381.3,229.2 380.5,229.9 379.7,230.4 378.9,231 378.1,231.6 377.3,232.1 376.5,232.5 375.7,233 374.9,233.6 374.1,233.9 373.3,234.2 372.5,234.6 371.7,235.1 370.9,235.6 370.1,236.2 369.3,236.6 368.5,237 367.7,237 366.9,236.9 366.1,236.9 365.3,236.9 364.5,237.1 363.7,237.7 362.9,238.3 362.1,239 361.3,239.5 360.5,239.7 359.7,239.8 358.9,239.7 358.1,239.5 357.3,239.8 356.5,240.2 355.7,240.6 354.9,241 354.1,241.6 353.3,242.2 352.5,242.9 351.7,243.7 350.9,244.9 350.1,246.1 349.3,247.4 348.5,248.6 347.7,249.7 346.9,250.5 346.1,251.5 345.3,252.3 344.5,253.1 343.7,254.3 342.9,255.5 342.1,256.8 341.3,258.1 340.5,259.5 339.7,260.8 338.9,262.2 338.1,263.7 337.3,265.2 336.5,266.7 335.7,268 334.9,269.1 334.1,270.1 333.3,271.1 332.5,272.1 331.7,273.1 330.9,274.2 330.1,275.6 329.3,277 328.5,278.5 327.7,279.7 326.9,280.6 326.1,281.5 325.3,282.3 324.5,282.9 323.7,283.7 322.9,284.6 322.1,285.2 321.3,285.8 320.5,286.2 319.7,286.7 318.9,287.2 318.1,287.9 317.3,288.5 316.5,289.1 315.7,289.7 314.9,290.3 314.1,290.4 313.3,290.6 312.5,290.8 311.7,291 310.9,291.2 310.1,291.5 309.3,291.9 308.5,292.3 307.7,292.5 306.9,292.6 306.1,292.7 305.3,292.9 304.5,292.8 303.7,292.7 302.9,292.6 302.1,292.5 301.3,292.3 300.5,292.2 299.7,292.3 298.9,292.6 298.1,293 297.3,293.2 296.5,293.5 295.7,293.8 294.9,294.3 294.1,294.9 293.3,295.6 292.5,296.4 291.7,297.2 290.9,297.8 290.1,298.5 289.3,299.2 288.5,300 287.7,300.6 286.9,301.2 286.1,301.8 285.3,302.1 284.5,302.4 283.7,302.9 282.9,303.4 282.1,304 281.3,304.6 280.5,305.2 279.7,305.7 278.9,306.2 278.1,306.7 277.3,307.5 276.5,308.2 275.7,309 274.9,309.8 274.1,310.4 273.3,311.1 272.5,311.7 271.7,312.4 270.9,313.2 270.1,314 269.3,314.9 268.5,315.8 267.7,316.7 266.9,317.8 266.1,319 265.3,320.1 264.5,321.3 263.7,322 262.9,322.7 262.1,323.3 261.3,324 260.5,324.7 259.7,325.3 258.9,326.1 258.1,326.9 257.3,327.7 256.5,328.5 255.7,329.3 254.9,330.3 254.1,331.2 253.3,332.1 252.5,333 251.7,334 250.9,335.2 250.1,336.3 249.3,337.4 248.5,338.5 247.7,339.6 246.9,340.7 246.1,341.7 245.3,342.6 244.5,343.4 243.7,344.2 242.9,345 242.1,345.8 241.3,346.7 240.5,347.7 239.7,348.8 238.9,349.8 238.1,350.9 237.3,351.9 236.5,352.8 235.7,353.7 234.9,354.6 234.1,355.4 233.3,356.4 232.5,357.5 231.7,358.6 230.9,359.7 230.1,360.8 229.3,361.7 228.5,362.6 227.7,363.4 226.9,364.2 226.1,365.1 225.3,365.8 224.5,366.6 223.7,367.4 222.9,368.3 222.1,369.2 221.3,370.2 220.5,371.4 219.7,372.6 218.9,373.8 218.1,374.9 217.3,376.1 216.5,377.3 215.7,378.5 214.9,379.7 214.1,380.6 213.3,381.2 212.5,381.9 211.7,382.6 210.9,383.2 210.1,384.2 209.3,385.2 208.5,386 207.7,386.8 206.9,387.6 206.1,388.4 205.3,389.2 204.5,389.9 203.7,390.9 202.9,391.4 202.1,391.8 201.3,391.8 200.5,391.7 199.7,391.6 198.9,391.5 198.1,391.3 197.3,391.1 196.5,390.9 195.7,390.7 194.9,390.5 194.1,390.2 193.3,389.9 192.5,389.6 191.7,389.4 190.9,389.3 190.1,389.3 189.3,389.3 188.5,389.4 187.7,389.5 186.9,389.7 186.1,389.9 185.3,390.1 184.5,390.3 183.7,390.5 182.9,390.7 182.1,390.8 181.3,390.8 180.5,390.9 179.7,391 178.9,390.8 178.1,390.4 177.3,390.1 176.5,389.9 175.7,389.6 174.9,389.4 174.1,389.3 173.3,389.4 172.5,389.5 171.7,389.6 170.9,389.7 170.1,389.9 169.3,390 168.5,390.2 167.7,390.3 166.9,390.1 166.1,389.6 165.3,389.3 164.5,388.9 163.7,388.6 162.9,388.4 162.1,388 161.3,387.8 160.5,387.8 159.7,387.7 158.9,387.7 158.1,387.6 157.3,387.4 156.5,387.2 155.7,387.1 154.9,387 154.1,386.9 153.3,386.8 152.5,386.7 151.7,386.6 150.9,386.5 150.1,386.5 149.3,386.6 148.5,386.9 147.7,387.3 146.9,387.6 146.1,387.9 145.3,388 144.5,388 143.7,387.9 142.9,387.8 142.1,387.6 141.3,387.6 140.5,387.5 139.7,387.5 138.9,387.6 138.1,387.8 137.3,388.1 136.5,388.4 135.7,388.7 134.9,389 134.1,389.2 133.3,389 132.5,388.7 131.7,388.4 130.9,388.3 130.1,388.5 129.3,388.4 128.5,388.2 127.7,388 126.9,387.7 126.1,387.4 125.3,387.2 124.5,387.1 123.7,386.9 122.9,386.9 122.1,387 121.3,387.1 120.5,387.3 119.7,387.5 118.9,387.7 118.1,387.8 117.3,388 116.5,388.2 115.7,388.3 114.9,388.4 114.1,388.2 113.3,387.9 112.5,387.6 111.7,387.7 110.9,387.6 110.1,387.3 109.3,387.1 108.5,386.8 107.7,386.4 106.9,386 106.1,385.6 105.3,385.5 104.5,385.4 103.7,385.3 102.9,385.2 102.1,385.2 101.3,385.2 100.5,384.6 99.7,384 98.9,383.4 98.1,382.8 97.3,382.5 96.5,382.1 95.7,381.7 94.9,381.3 94.1,380.9 93.3,380.7 92.5,380.5 91.7,380.3 90.9,380.1 90.1,379.8 89.3,379.6 88.5,379.2 87.7,378.7 86.9,378.2 86.1,377.7 85.3,377.3 84.5,376.9 83.7,376.5 82.9,376.1 82.1,375.7 81.3,375.4 80.5,375 79.7,374.7 78.9,374.4 78.1,374.1 77.3,374 76.5,373.9 75.7,373.8 74.9,373.7 74.1,373.5 73.3,373.8 72.5,374.1" fill="#488ecb"/>
<polygon points="72.5,361 73.3,360.6 74.1,360.3 74.9,360.5 75.7,360.7 76.5,360.9 77.3,361.1 78.1,361.4 78.9,361.9 79.7,362.3 80.5,362.8 81.3,363.3 82.1,363.5 82.9,363.8 83.7,364 84.5,364.3 85.3,364.5 86.1,365 86.9,365.5 87.7,366.1 88.5,366.7 89.3,367.2 90.1,367.4 90.9,367.6 91.7,367.8 92.5,368 93.3,368.2 94.1,368.5 94.9,369 95.7,369.7 96.5,370.4 97.3,371.1 98.1,371.6 98.9,371.9 99.7,372.1 100.5,372.2 101.3,372.3 102.1,372.4 102.9,372.6 103.7,373.1 104.5,373.6 105.3,374.2 106.1,374.7 106.9,375 107.7,375.3 108.5,375.6 109.3,375.8 110.1,375.9 110.9,375.9 111.7,376 112.5,376 113.3,376.5 114.1,376.9 114.9,377.4 115.7,377.4 116.5,377.2 117.3,377 118.1,376.7 118.9,376.4 119.7,376.1 120.5,375.8 121.3,375.8 122.1,375.8 122.9,375.8 123.7,376 124.5,376.2 125.3,376.1 126.1,376.2 126.9,376.5 127.7,376.8 128.5,377 129.3,377 130.1,377.1 130.9,377.1 131.7,377.5 132.5,378.1 133.3,378.8 134.1,379.2 134.9,378.8 135.7,378.3 136.5,377.7 137.3,377.2 138.1,376.6 138.9,376.2 139.7,375.8 140.5,375.6 141.3,375.4 142.1,375.3 142.9,375.2 143.7,375.2 144.5,375.1 145.3,375.1 146.1,375.2 146.9,375.1 147.7,374.9 148.5,374.8 149.3,374.6 150.1,374.8 150.9,375.2 151.7,375.6 152.5,376.1 153.3,376.6 154.1,377 154.9,377.4 155.7,377.9 156.5,378.4 157.3,378.9 158.1,379.4 158.9,379.8 159.7,380.1 160.5,380.4 161.3,380.8 162.1,381.2 162.9,381.7 163.7,381.8 164.5,381.9 165.3,381.9 166.1,381.8 166.9,381.8 167.7,381.7 168.5,381.6 169.3,381.4 170.1,381.2 170.9,381 171.7,380.9 172.5,380.9 173.3,380.8 174.1,380.8 174.9,380.8 175.7,381 176.5,381.3 177.3,381.5 178.1,381.7 178.9,381.9 179.7,382 180.5,381.9 181.3,381.9 182.1,381.9 182.9,382 183.7,382 184.5,382 185.3,382 186.1,382 186.9,381.9 187.7,381.9 188.5,381.9 189.3,382 190.1,382.1 190.9,382.1 191.7,382.3 192.5,382.5 193.3,382.7 194.1,382.8 194.9,383 195.7,383 196.5,382.9 197.3,382.8 198.1,382.7 198.9,382.7 199.7,382.5 200.5,382.3 201.3,381.8 202.1,381.4 202.9,381 203.7,380.5 204.5,379.4 205.3,378.7 206.1,378.2 206.9,377.6 207.7,377.1 208.5,376.6 209.3,376 210.1,375.2 210.9,374.2 211.7,373.3 212.5,372.3 213.3,371.4 214.1,370.5 214.9,369.3 215.7,368.2 216.5,367 217.3,366 218.1,365 218.9,364.1 219.7,363.1 220.5,362.1 221.3,361 222.1,360 222.9,359.1 223.7,358.2 224.5,357.3 225.3,356.4 226.1,355.4 226.9,354.3 227.7,353.2 228.5,352.1 229.3,351 230.1,349.9 230.9,348.8 231.7,347.7 232.5,346.6 233.3,345.5 234.1,344.6 234.9,344 235.7,343.5 236.5,343 237.3,342.4 238.1,341.7 238.9,340.8 239.7,339.9 240.5,339 241.3,338.1 242.1,337.3 242.9,336.8 243.7,336.3 244.5,335.7 245.3,335.1 246.1,334.5 246.9,333.8 247.7,333 248.5,332.1 249.3,331.2 250.1,330.4 250.9,329.5 251.7,328.4 252.5,327.3 253.3,326.2 254.1,325.1 254.9,324 255.7,323 256.5,322.1 257.3,321.3 258.1,320.4 258.9,319.6 259.7,318.9 260.5,318.3 261.3,317.7 262.1,317.1 262.9,316.5 263.7,315.9 264.5,315.1 265.3,313.9 266.1,312.7 266.9,311.5 267.7,310.4 268.5,309.6 269.3,308.9 270.1,308.1 270.9,307.4 271.7,306.7 272.5,306.1 273.3,305.5 274.1,304.8 274.9,304.2 275.7,303.2 276.5,302.3 277.3,301.4 278.1,300.4 278.9,299.9 279.7,299.5 280.5,299.1 281.3,298.6 282.1,298.2 282.9,297.9 283.7,297.4 284.5,296.9 285.3,296.3 286.1,295.8 286.9,294.9 287.7,294 288.5,293.2 289.3,292.4 290.1,291.6 290.9,290.8 291.7,290.2 292.5,289.6 293.3,289 294.1,288.8 294.9,288.6 295.7,288.4 296.5,288.3 297.3,288.2 298.1,288 298.9,287.5 299.7,287 300.5,286.8 301.3,286.8 302.1,286.8 302.9,286.7 303.7,286.6 304.5,286.6 305.3,286.5 306.1,286.1 306.9,285.8 307.7,285.5 308.5,285.2 309.3,284.8 310.1,284.4 310.9,284.1 311.7,283.8 312.5,283.7 313.3,283.6 314.1,283.5 314.9,283.4 315.7,282.8 316.5,282.3 317.3,281.7 318.1,281.1 318.9,280.5 319.7,279.9 320.5,279.3 321.3,278.6 322.1,277.8 322.9,276.9 323.7,275.8 324.5,274.8 325.3,274 326.1,273.3 326.9,272.7 327.7,272 328.5,271 329.3,269.8 330.1,268.6 330.9,267.3 331.7,266 332.5,264.9 333.3,263.8 334.1,262.7 334.9,261.5 335.7,260.4 336.5,259.1 337.3,257.5 338.1,256 338.9,254.5 339.7,253 340.5,251.7 341.3,250.5 342.1,249.4 342.9,248.3 343.7,247.3 344.5,246.4 345.3,245.5 346.1,244.6 346.9,243.4 347.7,242.3 348.5,241.3 349.3,240.2 350.1,239.1 350.9,238 351.7,237 352.5,236.3 353.3,235.6 354.1,234.9 354.9,234.2 355.7,233.7 356.5,233.3 357.3,232.9 358.1,232.5 358.9,232.6 359.7,232.8 360.5,232.8 361.3,232.7 362.1,232.3 362.9,231.7 363.7,231 364.5,230.4 365.3,230 366.1,229.8 366.9,229.7 367.7,229.5 368.5,229.3 369.3,229.1 370.1,228.9 370.9,228.5 371.7,228.3 372.5,228.2 373.3,228.1 374.1,227.9 374.9,227.7 375.7,227.3 376.5,226.7 377.3,226.1 378.1,225.6 378.9,225 379.7,224.4 380.5,223.9 381.3,223.3 382.1,222.4 382.9,221.6 383.7,220.9 384.5,220.1 385.3,219.3 386.1,218.7 386.9,218.1 387.7,217.6 388.5,217 389.3,216.5 390.1,216.2 390.9,216 391.7,215.8 392.5,215.6 393.3,215.4 394.1,215.2 394.9,214.8 395.7,214.4 396.5,214 397.3,213.6 398.1,213.4 398.9,213.3 399.7,213.3 400.5,213.4 401.3,213.2 402.1,212.9 402.9,212.4 403.7,211.9 404.5,211.4 405.3,211 406.1,210.7 406.9,210.6 407.7,210.5 408.5,210.5 409.3,210.6 410.1,210.6 410.9,210.6 411.7,210.5 412.5,210.3 413.3,210 414.1,209.7 414.9,209.5 415.7,209.2 416.5,209.1 417.3,209.3 418.1,209.5 418.9,209.7 419.7,210 420.5,210.2 421.3,209.9 422.1,209.6 422.9,209.4 423.7,209.2 424.5,209.2 425.3,209.2 426.1,209.3 426.9,209.5 427.7,209.8 428.5,210.1 429.3,210.4 430.1,210.7 430.9,210.9 431.7,210.9 432.5,210.7 433.3,210.6 434.1,210.4 434.9,210.2 435.7,210 436.5,209.8 437.3,209.6 438.1,209.4 438.9,209.2 439.7,209 440.5,208.8 441.3,208.3 442.1,207.7 442.9,207.2 443.7,206.8 444.5,206.6 445.3,206.5 446.1,206.4 446.9,206.3 447.7,206.4 448.5,206.5 449.3,206.7 450.1,206.8 450.9,206.9 451.7,207 452.5,207 453.3,207 454.1,207 454.9,207 455.7,207 456.5,207 457.3,207 458.1,207 458.9,207.1 459.7,207.1 460.5,207 461.3,206.9 462.1,206.8 462.9,206.7 463.7,206.6 464.5,206.6 465.3,207 466.1,207.4 466.9,207.7 467.7,208.1 468.5,208.4 469.3,208.4 470.1,208.3 470.9,208.2 471.7,208.1 472.5,208 473.3,207.9 474.1,207.6 474.9,207.3 475.7,207 476.5,206.8 477.3,206.6 478.1,206.6 478.9,206.7 479.7,206.7 480.5,206.8 481.3,206.9 482.1,207 482.9,207.3 483.7,207.6 484.5,207.9 485.3,208.2 486.1,208.5 486.9,208.7 487.7,208.5 488.5,208.3 489.3,208.1 490.1,207.9 490.9,207.9 491.7,208 492.5,208.1 493.3,208.2 494.1,208.4 494.9,208.6 495.7,208.7 496.5,208.5 497.3,208.3 498.1,208.1 498.9,208.1 499.7,208.7 500.5,209.3 501.3,209.8 502.1,210.2 502.9,210.1 503.7,209.9 504.5,209.7 505.3,209.5 506.1,209.4 506.9,209.4 507.7,209.7 508.5,210 509.3,210.3 510.1,210.6 510.9,210.8 511.7,210.9 512.5,210.7 513.3,210.6 514.1,210.4 514.9,210.2 515.7,210.1 516.5,210.1 517.3,210 518.1,209.9 518.9,209.7 519.7,209.6 520.5,209.9 521.3,210.4 522.1,210.7 522.9,210.9 523.7,210.6 524.5,210.3 525.3,210 526.1,209.7 526.9,209.3 527.7,209.1 528.5,209 529.3,208.9 530.1,208.7 530.9,208.6 531.7,208.5 532.5,208.4 533.3,208.5 534.1,208.6 534.9,208.7 535.7,208.9 536.5,209 537.3,209 538.1,208.8 538.9,208.5 539.7,208.3 540.5,208.1 541.3,208.1 542.1,208.1 542.9,208 543.7,208 544.5,207.9 545.3,207.9 546.1,207.8 546.9,207.8 547.7,207.8 548.5,207.7 549.3,207.7 550.1,207.6 550.9,207.5 551.7,207.4 552.5,207.3 553.3,207.2 554.1,207.1 554.9,207 555.7,206.9 556.5,206.9 557.3,206.9 558.1,206.9 558.9,206.8 559.7,206.8 560.5,206.8 561.3,206.7 562.1,206.6 562.9,206.6 563.7,206.6 564.5,206.6 565.3,206.6 566.1,206.6 566.9,206.6 567.7,206.6 568.5,206.6 569.3,206.6 570.1,206.6 570.9,206.6 571.7,206.5 572.5,206.3 573.3,206.2 574.1,206.1 574.9,205.9 575.7,205.8 576.5,205.6 577.3,205.5 578.1,205.2 578.9,204.9 579.7,204.6 580.5,204.3 581.3,204.1 582,204.1 582,207.1 581.3,207.2 580.5,207.4 579.7,207.7 578.9,208 578.1,208.3 577.3,208.5 576.5,208.6 575.7,208.7 574.9,208.8 574.1,208.8 573.3,208.9 572.5,208.9 571.7,208.9 570.9,209 570.1,209.1 569.3,209.2 568.5,209.3 567.7,209.4 566.9,209.5 566.1,209.6 565.3,209.6 564.5,209.7 563.7,209.7 562.9,209.8 562.1,209.8 561.3,209.8 560.5,209.8 559.7,209.8 558.9,209.7 558.1,209.7 557.3,209.7 556.5,209.7 555.7,209.8 554.9,209.9 554.1,210 553.3,210.1 552.5,210.1 551.7,210.3 550.9,210.5 550.1,210.7 549.3,210.8 548.5,210.9 547.7,211 546.9,211.1 546.1,211.1 545.3,211.2 544.5,211.2 543.7,211.2 542.9,211.2 542.1,211.1 541.3,211.1 540.5,211 539.7,211.2 538.9,211.5 538.1,211.8 537.3,212.1 536.5,212.2 535.7,212.1 534.9,212 534.1,212 533.3,212 532.5,212.1 531.7,212.2 530.9,212.4 530.1,212.6 529.3,212.7 528.5,212.9 527.7,213 526.9,213.2 526.1,213.5 525.3,213.8 524.5,214.1 523.7,214.4 522.9,214.7 522.1,214.5 521.3,214.1 520.5,213.6 519.7,213.3 518.9,213.3 518.1,213.3 517.3,213.4 516.5,213.4 515.7,213.5 514.9,213.8 514.1,214 513.3,214.3 512.5,214.5 511.7,214.8 510.9,214.8 510.1,214.5 509.3,214.2 508.5,213.9 507.7,213.6 506.9,213.2 506.1,213.1 505.3,213.2 504.5,213.3 503.7,213.5 502.9,213.7 502.1,213.9 501.3,213.6 500.5,213.1 499.7,212.7 498.9,212.2 498.1,212.3 497.3,212.5 496.5,212.7 495.7,212.9 494.9,212.7 494.1,212.5 493.3,212.3 492.5,212.1 491.7,211.9 490.9,211.7 490.1,211.6 489.3,211.8 488.5,212 487.7,212.1 486.9,212.3 486.1,212.1 485.3,211.8 484.5,211.6 483.7,211.3 482.9,211.1 482.1,210.9 481.3,210.8 480.5,210.7 479.7,210.7 478.9,210.8 478.1,210.9 477.3,211 476.5,211.3 475.7,211.7 474.9,211.9 474.1,212.1 473.3,212.4 472.5,212.5 471.7,212.5 470.9,212.6 470.1,212.7 469.3,212.7 468.5,212.7 467.7,212.4 466.9,212.1 466.1,211.8 465.3,211.5 464.5,211.2 463.7,211.2 462.9,211.4 462.1,211.6 461.3,211.7 460.5,211.8 459.7,211.8 458.9,211.8 458.1,211.8 457.3,211.7 456.5,211.7 455.7,211.6 454.9,211.5 454.1,211.5 453.3,211.4 452.5,211.4 451.7,211.4 450.9,211.4 450.1,211.3 449.3,211.1 448.5,210.9 447.7,210.7 446.9,210.7 446.1,210.7 445.3,210.7 444.5,210.7 443.7,210.9 442.9,211.3 442.1,211.8 441.3,212.4 440.5,213 439.7,213.3 438.9,213.6 438.1,213.8 437.3,214.1 436.5,214.3 435.7,214.5 434.9,214.8 434.1,215 433.3,215.2 432.5,215.4 431.7,215.6 430.9,215.8 430.1,215.7 429.3,215.5 428.5,215.4 427.7,215.2 426.9,214.9 426.1,214.7 425.3,214.5 424.5,214.3 423.7,214.1 422.9,214.1 422.1,214.2 421.3,214.3 420.5,214.6 419.7,214.6 418.9,214.6 418.1,214.6 417.3,214.6 416.5,214.4 415.7,214.4 414.9,214.5 414.1,214.6 413.3,214.7 412.5,215 411.7,215.2 410.9,215.2 410.1,215.3 409.3,215.3 408.5,215.4 407.7,215.4 406.9,215.7 406.1,216 405.3,216.3 404.5,216.7 403.7,217.1 402.9,217.4 402.1,217.6 401.3,217.6 400.5,217.6 399.7,217.6 398.9,217.7 398.1,217.9 397.3,218.3 396.5,218.7 395.7,219 394.9,219.4 394.1,219.8 393.3,220.1 392.5,220.3 391.7,220.5 390.9,220.7 390.1,220.9 389.3,221.2 388.5,221.7 387.7,222.2 386.9,222.8 386.1,223.3 385.3,223.9 384.5,224.7 383.7,225.5 382.9,226.3 382.1,227.1 381.3,228 380.5,228.6 379.7,229.1 378.9,229.6 378.1,230.2 377.3,230.7 376.5,231.2 375.7,231.7 374.9,232.4 374.1,232.7 373.3,233 372.5,233.4 371.7,233.7 370.9,234.1 370.1,234.5 369.3,234.7 368.5,235 367.7,235 366.9,235 366.1,235.1 365.3,235.1 364.5,235.4 363.7,236.1 362.9,236.8 362.1,237.5 361.3,237.9 360.5,238 359.7,238 358.9,237.9 358.1,237.7 357.3,238.1 356.5,238.5 355.7,238.9 354.9,239.4 354.1,240.1 353.3,240.7 352.5,241.3 351.7,241.9 350.9,243 350.1,244 349.3,245.1 348.5,246.2 347.7,247.4 346.9,248.5 346.1,249.8 345.3,250.9 344.5,251.9 343.7,252.8 342.9,253.7 342.1,254.8 341.3,255.9 340.5,257 339.7,258.2 338.9,259.6 338.1,261.1 337.3,262.6 336.5,264.1 335.7,265.4 334.9,266.5 334.1,267.6 333.3,268.7 332.5,269.8 331.7,270.9 330.9,272.1 330.1,273.5 329.3,274.8 328.5,276.1 327.7,277.3 326.9,278.1 326.1,278.9 325.3,279.7 324.5,280.6 323.7,281.6 322.9,282.7 322.1,283.6 321.3,284.3 320.5,284.8 319.7,285.4 318.9,285.9 318.1,286.4 317.3,286.9 316.5,287.5 315.7,288.1 314.9,288.7 314.1,288.9 313.3,289 312.5,289.2 311.7,289.3 310.9,289.5 310.1,289.7 309.3,289.9 308.5,290 307.7,290.2 306.9,290.3 306.1,290.6 305.3,291 304.5,291.2 303.7,291.3 302.9,291.4 302.1,291.3 301.3,291.3 300.5,291.2 299.7,291.3 298.9,291.7 298.1,292.1 297.3,292.4 296.5,292.7 295.7,293 294.9,293.3 294.1,293.6 293.3,293.9 292.5,294.4 291.7,294.9 290.9,295.4 290.1,296.1 289.3,296.8 288.5,297.5 287.7,298.4 286.9,299.3 286.1,300.1 285.3,300.5 284.5,301 283.7,301.5 282.9,302 282.1,302.4 281.3,302.9 280.5,303.4 279.7,304 278.9,304.4 278.1,305 277.3,305.8 276.5,306.7 275.7,307.5 274.9,308.4 274.1,308.9 273.3,309.5 272.5,310.2 271.7,310.8 270.9,311.5 270.1,312.2 269.3,313 268.5,313.8 267.7,314.7 266.9,315.9 266.1,317.1 265.3,318.4 264.5,319.7 263.7,320.4 262.9,321.1 262.1,321.7 261.3,322.3 260.5,322.9 259.7,323.5 258.9,324 258.1,324.6 257.3,325.2 256.5,325.8 255.7,326.7 254.9,327.9 254.1,329.2 253.3,330.4 252.5,331.7 251.7,333 250.9,334.2 250.1,335.2 249.3,336.1 248.5,337 247.7,337.9 246.9,338.8 246.1,339.6 245.3,340.2 244.5,340.8 243.7,341.4 242.9,341.9 242.1,342.4 241.3,343.2 240.5,344 239.7,345.1 238.9,346.2 238.1,347.4 237.3,348.5 236.5,349.5 235.7,350.1 234.9,350.8 234.1,351.4 233.3,352.1 232.5,353.1 231.7,354.3 230.9,355.4 230.1,356.6 229.3,357.7 228.5,358.8 227.7,360 226.9,361.1 226.1,362.2 225.3,363.1 224.5,364 223.7,364.9 222.9,365.7 222.1,366.6 221.3,367.7 220.5,368.7 219.7,369.7 218.9,370.7 218.1,371.7 217.3,372.8 216.5,373.8 215.7,374.9 214.9,376 214.1,377.1 213.3,378 212.5,378.9 211.7,379.8 210.9,380.7 210.1,381.6 209.3,382.5 208.5,383.4 207.7,384.1 206.9,384.9 206.1,385.6 205.3,386.4 204.5,387.2 203.7,388.3 202.9,388.7 202.1,389.1 201.3,389.1 200.5,389 199.7,388.9 198.9,388.8 198.1,388.6 197.3,388.5 196.5,388.5 195.7,388.5 194.9,388.5 194.1,388.4 193.3,388.2 192.5,388 191.7,387.9 190.9,387.8 190.1,387.9 189.3,387.9 188.5,387.9 187.7,388 186.9,388 186.1,388.1 185.3,388.2 184.5,388.3 183.7,388.4 182.9,388.4 182.1,388.4 181.3,388.3 180.5,388.2 179.7,388.1 178.9,387.9 178.1,387.6 177.3,387.3 176.5,387 175.7,386.8 174.9,386.7 174.1,386.8 173.3,387 172.5,387.1 171.7,387.3 170.9,387.5 170.1,387.7 169.3,387.7 168.5,387.8 167.7,387.8 166.9,387.7 166.1,387.4 165.3,387.5 164.5,387.5 163.7,387.6 162.9,387.5 162.1,387.1 161.3,386.9 160.5,386.7 159.7,386.5 158.9,386.3 158.1,385.9 157.3,385.5 156.5,385.1 155.7,384.9 154.9,384.7 154.1,384.4 153.3,384.1 152.5,383.9 151.7,383.6 150.9,383.2 150.1,382.9 149.3,382.8 148.5,383.1 147.7,383.4 146.9,383.7 146.1,384 145.3,384 144.5,383.9 143.7,383.8 142.9,383.7 142.1,383.6 141.3,383.6 140.5,383.6 139.7,383.7 138.9,383.9 138.1,384.1 137.3,384.5 136.5,384.9 135.7,385.4 134.9,386 134.1,386.3 133.3,385.9 132.5,385.5 131.7,385.1 130.9,384.9 130.1,385.1 129.3,385 128.5,384.9 127.7,384.7 126.9,384.4 126.1,384.1 125.3,384.2 124.5,384.3 123.7,384.3 122.9,384.3 122.1,384.3 121.3,384.3 120.5,384.2 119.7,384.4 118.9,384.7 118.1,385 117.3,385.3 116.5,385.6 115.7,385.9 114.9,386.1 114.1,385.5 113.3,385 112.5,384.5 111.7,384.4 110.9,384.3 110.1,384.2 109.3,384.2 108.5,384.1 107.7,384 106.9,383.9 106.1,383.8 105.3,383.5 104.5,383.1 103.7,382.7 102.9,382.2 102.1,381.8 101.3,381.5 100.5,381.2 99.7,380.9 98.9,380.7 98.1,380.4 97.3,380.1 96.5,379.5 95.7,378.9 94.9,378.4 94.1,377.8 93.3,377.5 92.5,377.3 91.7,377 90.9,376.7 90.1,376.5 89.3,376.2 88.5,375.8 87.7,375.3 86.9,374.9 86.1,374.4 85.3,374.2 84.5,373.9 83.7,373.6 82.9,373.2 82.1,372.8 81.3,372.4 80.5,372 79.7,371.6 78.9,371.2 78.1,370.8 77.3,370.6 76.5,370.5 75.7,370.3 74.9,370.2 74.1,369.9 73.3,370.2 72.5,370.6" fill="#2a6aae"/>
<polyline points="72.5,366.3 73.3,365.7 74.1,365.2 74.9,365.5 75.7,365.6 76.5,365.7 77.3,365.8 78.1,366 78.9,366.3 79.7,366.7 80.5,367 81.3,367.4 82.1,367.8 82.9,368.2 83.7,368.6 84.5,369.1 85.3,369.5 86.1,369.9 86.9,370.5 87.7,371.2 88.5,371.8 89.3,372.3 90.1,372.5 90.9,372.7 91.7,372.9 92.5,373.1 93.3,373.3 94.1,373.5 94.9,374.2 95.7,374.8 96.5,375.4 97.3,376 98.1,376.3 98.9,376.6 99.7,376.8 100.5,377 101.3,377.2 102.1,377.4 102.9,377.8 103.7,378.3 104.5,378.7 105.3,379.2 106.1,379.7 106.9,379.8 107.7,380 108.5,380.3 109.3,380.5 110.1,380.5 110.9,380.5 111.7,380.5 112.5,380.4 113.3,380.9 114.1,381.5 114.9,382 115.7,381.8 116.5,381.5 117.3,381.2 118.1,380.9 118.9,380.6 119.7,380.3 120.5,380.1 121.3,380.2 122.1,380.2 122.9,380.3 123.7,380.4 124.5,380.4 125.3,380.3 126.1,380.1 126.9,380.3 127.7,380.4 128.5,380.5 129.3,380.4 130.1,380.3 130.9,380.1 131.7,380.5 132.5,381.1 133.3,381.7 134.1,382.2 134.9,381.9 135.7,381.2 136.5,380.6 137.3,379.9 138.1,379.3 138.9,378.8 139.7,378.4 140.5,378.3 141.3,378.3 142.1,378.3 142.9,378.4 143.7,378.5 144.5,378.7 145.3,378.8 146.1,379 146.9,378.7 147.7,378.3 148.5,378 149.3,377.7 150.1,377.9 150.9,378.3 151.7,378.9 152.5,379.5 153.3,380.2 154.1,380.8 154.9,381.4 155.7,381.9 156.5,382.5 157.3,383 158.1,383.6 158.9,384.1 159.7,384.3 160.5,384.6 161.3,385 162.1,385.3 162.9,385.6 163.7,385.5 164.5,385.3 165.3,385.1 166.1,384.9 166.9,384.9 167.7,385 168.5,384.9 169.3,384.7 170.1,384.4 170.9,384.2 171.7,384.1 172.5,383.9 173.3,383.7 174.1,383.6 174.9,383.5 175.7,383.7 176.5,383.9 177.3,384.2 178.1,384.6 178.9,385 179.7,385.2 180.5,385.3 181.3,385.4 182.1,385.5 182.9,385.7 183.7,385.7 184.5,385.7 185.3,385.6 186.1,385.6 186.9,385.5 187.7,385.5 188.5,385.5 189.3,385.5 190.1,385.5 190.9,385.4 191.7,385.6 192.5,385.8 193.3,385.9 194.1,386.1 194.9,386.3 195.7,386.2 196.5,386.1 197.3,386 198.1,385.8 198.9,385.7 199.7,385.5 200.5,385.3 201.3,385.1 202.1,384.9 202.9,384.8 203.7,384.4 204.5,383.3 205.3,382.6 206.1,381.9 206.9,381.2 207.7,380.5 208.5,379.8 209.3,379 210.1,378.1 210.9,377.2 211.7,376.3 212.5,375.5 213.3,374.7 214.1,373.8 214.9,372.7 215.7,371.5 216.5,370.3 217.3,369.2 218.1,368.1 218.9,367 219.7,365.8 220.5,364.7 221.3,363.6 222.1,362.4 222.9,361.6 223.7,360.7 224.5,359.8 225.3,358.9 226.1,358 226.9,356.8 227.7,355.6 228.5,354.5 229.3,353.3 230.1,352.3 230.9,351.2 231.7,350.1 232.5,349.1 233.3,348 234.1,347.2 234.9,346.5 235.7,345.9 236.5,345.2 237.3,344.5 238.1,343.5 238.9,342.6 239.7,341.6 240.5,340.7 241.3,339.9 242.1,339.1 242.9,338.6 243.7,338.2 244.5,337.7 245.3,337.3 246.1,336.8 246.9,336.1 247.7,335.3 248.5,334.4 249.3,333.6 250.1,332.7 250.9,331.8 251.7,330.6 252.5,329.4 253.3,328.3 254.1,327.1 254.9,325.9 255.7,324.7 256.5,323.9 257.3,323.1 258.1,322.4 258.9,321.6 259.7,320.9 260.5,320.4 261.3,319.8 262.1,319.3 262.9,318.7 263.7,318.2 264.5,317.5 265.3,316.2 266.1,314.9 266.9,313.6 267.7,312.4 268.5,311.6 269.3,310.9 270.1,310.1 270.9,309.4 271.7,308.8 272.5,308.2 273.3,307.6 274.1,306.9 274.9,306.3 275.7,305.3 276.5,304.3 277.3,303.3 278.1,302.3 278.9,301.8 279.7,301.3 280.5,300.9 281.3,300.4 282.1,300 282.9,299.6 283.7,299.3 284.5,298.9 285.3,298.6 286.1,298.2 286.9,297.5 287.7,296.6 288.5,295.8 289.3,295 290.1,294.1 290.9,293.3 291.7,292.8 292.5,292.2 293.3,291.7 294.1,291.3 294.9,291 295.7,290.7 296.5,290.5 297.3,290.2 298.1,290 298.9,289.6 299.7,289.2 300.5,289.1 301.3,289.3 302.1,289.4 302.9,289.5 303.7,289.4 304.5,289.4 305.3,289.2 306.1,288.7 306.9,288.3 307.7,287.8 308.5,287.4 309.3,287 310.1,286.7 310.9,286.4 311.7,286.3 312.5,286.2 313.3,286.1 314.1,286 314.9,285.9 315.7,285.3 316.5,284.8 317.3,284.2 318.1,283.6 318.9,283.1 319.7,282.5 320.5,281.9 321.3,281.3 322.1,280.5 322.9,279.6 323.7,278.5 324.5,277.4 325.3,276.6 326.1,275.8 326.9,275.1 327.7,274.3 328.5,273.1 329.3,271.8 330.1,270.5 330.9,269.2 331.7,268 332.5,267 333.3,266 334.1,264.9 334.9,263.9 335.7,262.9 336.5,261.6 337.3,260.1 338.1,258.6 338.9,257 339.7,255.6 340.5,254.4 341.3,253.2 342.1,252.1 342.9,250.9 343.7,250 344.5,249.1 345.3,248.2 346.1,247.4 346.9,246.1 347.7,245 348.5,243.9 349.3,242.7 350.1,241.6 350.9,240.4 351.7,239.3 352.5,238.6 353.3,238 354.1,237.3 354.9,236.6 355.7,236.1 356.5,235.8 357.3,235.5 358.1,235.2 358.9,235.4 359.7,235.6 360.5,235.6 361.3,235.6 362.1,235.2 362.9,234.4 363.7,233.6 364.5,232.8 365.3,232.3 366.1,232.2 366.9,232.1 367.7,232 368.5,231.9 369.3,231.9 370.1,231.7 370.9,231.4 371.7,231.2 372.5,230.9 373.3,230.6 374.1,230.3 374.9,229.9 375.7,229.3 376.5,228.8 377.3,228.3 378.1,227.8 378.9,227.4 379.7,226.9 380.5,226.4 381.3,225.9 382.1,225 382.9,224.2 383.7,223.4 384.5,222.6 385.3,221.8 386.1,221.2 386.9,220.6 387.7,220 388.5,219.5 389.3,218.9 390.1,218.6 390.9,218.5 391.7,218.3 392.5,218.2 393.3,218.1 394.1,217.9 394.9,217.5 395.7,217.1 396.5,216.7 397.3,216.3 398.1,215.9 398.9,215.6 399.7,215.6 400.5,215.6 401.3,215.6 402.1,215.5 402.9,215.2 403.7,214.9 404.5,214.6 405.3,214.3 406.1,214 406.9,213.7 407.7,213.5 408.5,213.4 409.3,213.4 410.1,213.3 410.9,213.3 411.7,213.2 412.5,213 413.3,212.7 414.1,212.4 414.9,212 415.7,211.7 416.5,211.5 417.3,211.5 418.1,211.5 418.9,211.6 419.7,211.8 420.5,211.8 421.3,211.6 422.1,211.4 422.9,211.2 423.7,211.2 424.5,211.4 425.3,211.6 426.1,211.7 426.9,211.9 427.7,212.3 428.5,212.7 429.3,213 430.1,213.4 430.9,213.6 431.7,213.5 432.5,213.3 433.3,213 434.1,212.8 434.9,212.5 435.7,212.3 436.5,212.1 437.3,211.8 438.1,211.6 438.9,211.4 439.7,211.1 440.5,210.8 441.3,210.2 442.1,209.5 442.9,208.9 443.7,208.4 444.5,208.2 445.3,208.1 446.1,208.1 446.9,208 447.7,208.1 448.5,208.3 449.3,208.5 450.1,208.8 450.9,208.9 451.7,209 452.5,209 453.3,209.1 454.1,209.1 454.9,209.2 455.7,209.2 456.5,209.2 457.3,209.1 458.1,209.1 458.9,209.1 459.7,209.1 460.5,208.9 461.3,208.7 462.1,208.6 462.9,208.4 463.7,208.2 464.5,208.2 465.3,208.7 466.1,209.2 466.9,209.7 467.7,210.1 468.5,210.6 469.3,210.6 470.1,210.5 470.9,210.4 471.7,210.3 472.5,210.2 473.3,210.1 474.1,209.8 474.9,209.5 475.7,209.2 476.5,208.8 477.3,208.5 478.1,208.6 478.9,208.6 479.7,208.7 480.5,208.8 481.3,208.9 482.1,209 482.9,209.3 483.7,209.7 484.5,210 485.3,210.3 486.1,210.6 486.9,210.8 487.7,210.5 488.5,210.2 489.3,210 490.1,209.7 490.9,209.7 491.7,209.8 492.5,210 493.3,210.2 494.1,210.4 494.9,210.6 495.7,210.7 496.5,210.5 497.3,210.2 498.1,209.9 498.9,209.9 499.7,210.5 500.5,211.1 501.3,211.8 502.1,212.1 502.9,211.9 503.7,211.7 504.5,211.5 505.3,211.3 506.1,211.1 506.9,211.1 507.7,211.6 508.5,211.9 509.3,212.3 510.1,212.7 510.9,213 511.7,213.1 512.5,212.8 513.3,212.5 514.1,212.2 514.9,211.9 515.7,211.6 516.5,211.5 517.3,211.4 518.1,211.3 518.9,211.2 519.7,211.1 520.5,211.5 521.3,212.1 522.1,212.7 522.9,213 523.7,212.7 524.5,212.3 525.3,212 526.1,211.7 526.9,211.4 527.7,211.2 528.5,211 529.3,210.9 530.1,210.7 530.9,210.5 531.7,210.4 532.5,210.3 533.3,210.4 534.1,210.4 534.9,210.5 535.7,210.6 536.5,210.7 537.3,210.6 538.1,210.2 538.9,209.8 539.7,209.4 540.5,209.1 541.3,209.1 542.1,209 542.9,209 543.7,208.9 544.5,208.9 545.3,208.8 546.1,208.8 546.9,208.8 547.7,208.8 548.5,208.7 549.3,208.6 550.1,208.5 550.9,208.3 551.7,208.2 552.5,208.3 553.3,208.3 554.1,208.4 554.9,208.4 555.7,208.5 556.5,208.5 557.3,208.6 558.1,208.7 558.9,208.8 559.7,208.8 560.5,208.9 561.3,208.9 562.1,208.8 562.9,208.6 563.7,208.5 564.5,208.4 565.3,208.2 566.1,208.1 566.9,208.1 567.7,208 568.5,208 569.3,207.9 570.1,207.9 570.9,207.8 571.7,207.8 572.5,207.7 573.3,207.6 574.1,207.6 574.9,207.5 575.7,207.3 576.5,207.2 577.3,207 578.1,206.7 578.9,206.3 579.7,205.9 580.5,205.5 581.3,205.4 582,205.3" fill="none" stroke="#1b5496" stroke-width="1.1" stroke-linejoin="round"/></g>
<polygon points="588.5,200.5 589,200.1 589.5,199.7 590,199.7 590.5,199.9 591,200.2 591.5,199.7 592,199.2 592.5,199.4 593,200 593.5,199.9 594,199.4 594.5,199.1 595,198.8 595.5,198.7 596,198.7 596.5,198.8 597,199.2 597.5,199.8 598,200.2 598.5,200.3 599,199.6 599.5,199 600,199.2 600.5,199.3 601,199.4 601.5,199.6 602,199.7 602.5,199.6 603,199.5 603.5,199.4 604,199.5 604.5,199.6 605,199.6 605.5,199.4 606,199.1 606.5,199.1 607,199.7 607.5,200.2 608,199.8 608.5,199.6 609,199.9 609.5,200.4 610,200.7 610.5,200.9 611,200.8 611.5,200.6 612,200.4 612.5,200.5 613,200.7 613.5,200.8 614,200.8 614.5,200.8 615,200.4 615.5,200.1 616,200.1 616.5,200.5 617,200.9 617.5,200.8 618,200.7 618.5,200.3 619,200.3 619.5,200.3 620,200.7 620.5,201.2 621,201.5 621.5,201.3 622,201.1 622.5,200.6 623,200.2 623.5,200.1 624,200.3 624.5,200.6 625,200.2 625.5,199.5 626,199.2 626.5,200 627,200.8 627.5,200.9 628,200.4 628.5,199.9 629,199.6 629.5,199.4 630,199.7 630.5,200 631,200.2 631.5,200.4 632,200.6 632.5,199.8 633,199 633.5,199.2 634,199.5 634.5,199.7 635,199.6 635.5,199.6 636,199.8 636.5,200.2 637,200.3 637.5,200.5 638,200.5 638.5,200 639,199.7 639.5,199.4 640,199.5 640.5,199.9 641,200.3 641.5,200.8 642,201.4 642.5,201.8 643,201.6 643.5,201.5 644,201.2 644.5,201.2 645,200.6 645.5,199.9 646,200.2 646.5,200.6 647,200.6 647.5,200.5 648,200.5 648.5,200.9 649,201.3 649.5,201.5 650,201.5 650.5,201.5 651,202.3 651.5,202.4 652,202.3 652.5,201.8 653,201.2 653.5,201 654,201 654.5,201.3 655,201 655.5,200.5 656,200.6 656.5,201 657,201 657.5,200.8 658,200.6 658.5,201 659,201.4 659.5,201 660,200.4 660.5,200.2 661,200.2 661.5,200.6 662,200.9 662.5,201.2 663,201 663.5,200.7 664,200.8 664.5,200.9 665,200.7 665.5,200.4 666,200.1 666.5,200 667,200 667.5,200.1 668,200.8 668.5,201.5 669,201.5 669.5,201.5 670,201.3 670.5,200.8 671,200.4 671.5,200.8 672,201.3 672.5,201.8 673,201.9 673.5,201.8 674,201.2 674.5,201.3 675,201.8 675.5,202 676,201.9 676.5,201.2 677,200.5 677.5,200.4 678,200.7 678.5,200.6 679,200.5 679.5,200.6 680,200.9 680.5,201.2 681,201.3 681.5,201.2 682,201.3 682.5,201.5 683,201.8 683.5,201.7 684,201.2 684.5,200.9 685,200.9 685.5,200.9 686,200.9 686.5,201 687,201.1 687.5,201.4 688,201.6 688.5,201.6 689,201.3 689.5,201.2 690,201.2 690.5,201.6 691,201.5 691.5,201.3 692,201.3 692.5,201.3 693,201.3 693.5,201.7 694,202.1 694.5,202.5 695,202.6 695.5,202.4 696,202.5 696.5,202.6 697,202.7 697.5,203.3 698,203.7 698.5,203.7 699,203.7 699.5,203.2 700,202.7 700.5,202.2 701,202.1 701.5,202.4 702,203.2 702.5,203.5 703,203.4 703.5,203.4 704,203.4 704.5,203.1 705,203 705.5,203 706,202.8 706.5,202.5 707,202.3 707.5,202 708,201.8 708.5,201.6 709,201.9 709.5,202.3 710,202.7 710.5,203.1 711,202.7 711.5,202.5 712,203.1 712,217 711.5,217 711,217 710.5,217 710,216.2 709.5,215.1 709,214 708.5,214.2 708,214.6 707.5,214.8 707,215.2 706.5,215.7 706,216.2 705.5,216.7 705,217 704.5,216.6 704,215.9 703.5,215.5 703,216.1 702.5,216.7 702,217.2 701.5,217.1 701,217 700.5,216.3 700,216 699.5,216.6 699,217.3 698.5,217.4 698,217.4 697.5,217.1 697,216 696.5,215.5 696,216.1 695.5,216.4 695,215.8 694.5,214.7 694,214.3 693.5,214.5 693,214.6 692.5,214.8 692,214.9 691.5,214.8 691,213.9 690.5,213 690,213 689.5,213.9 689,214.4 688.5,214.7 688,214.1 687.5,213.4 687,212.7 686.5,212.3 686,213.3 685.5,214.4 685,215.4 684.5,215.2 684,214.8 683.5,214.5 683,215.4 682.5,215.8 682,215.3 681.5,214.8 681,214.9 680.5,215.2 680,215.1 679.5,214.5 679,213.9 678.5,214.6 678,215.1 677.5,214.9 677,214.1 676.5,214.2 676,214.7 675.5,215.4 675,215.8 674.5,215.9 674,216.1 673.5,216.2 673,215.6 672.5,215 672,214.6 671.5,214.4 671,214.2 670.5,214.2 670,214.4 669.5,214.6 669,214.3 668.5,214.1 668,214 667.5,213.4 667,213.1 666.5,213.5 666,213.8 665.5,213.7 665,213.5 664.5,214.1 664,214.7 663.5,215.2 663,215.2 662.5,215.1 662,214.5 661.5,214 661,213.5 660.5,214.1 660,215 659.5,214.9 659,214.2 658.5,213.3 658,212.9 657.5,212.9 657,213.5 656.5,214.4 656,214.6 655.5,214.6 655,214.4 654.5,214.3 654,214.2 653.5,214.4 653,214.7 652.5,214.6 652,214.3 651.5,214.4 651,214.7 650.5,214.4 650,214 649.5,213.6 649,213.2 648.5,213.3 648,213.6 647.5,214.1 647,214.1 646.5,214 646,213.8 645.5,213.6 645,214 644.5,214.5 644,214.6 643.5,214.4 643,214.2 642.5,214.1 642,213.2 641.5,212.7 641,212.3 640.5,212.2 640,212 639.5,212 639,212.7 638.5,213.5 638,214.3 637.5,214.1 637,213.8 636.5,213.9 636,214 635.5,214 635,214 634.5,213.9 634,213.5 633.5,213 633,212.7 632.5,212.6 632,212.6 631.5,212.9 631,213.3 630.5,213 630,211.9 629.5,211.6 629,211.8 628.5,212.2 628,213 627.5,213.8 627,214.9 626.5,214.8 626,213.9 625.5,213.6 625,214.2 624.5,214.7 624,214.6 623.5,213.8 623,213.3 622.5,213.9 622,214.6 621.5,214.7 621,214.7 620.5,214.3 620,213.2 619.5,212.6 619,212.7 618.5,213.6 618,214.4 617.5,214.4 617,213.5 616.5,212.8 616,213.2 615.5,213.4 615,213.5 614.5,213.9 614,213.9 613.5,214.1 613,214.3 612.5,214.5 612,214.6 611.5,214.9 611,215.1 610.5,215.3 610,214.8 609.5,214.3 609,214.1 608.5,214 608,213.9 607.5,213.4 607,212.9 606.5,212.4 606,213 605.5,213.6 605,214.1 604.5,213.4 604,212.6 603.5,212.3 603,212.4 602.5,212.7 602,213 601.5,213.2 601,213 600.5,213.1 600,213.6 599.5,213.5 599,213.1 598.5,212.8 598,212.7 597.5,213.4 597,213.8 596.5,213 596,212 595.5,211.7 595,212 594.5,212.5 594,212.6 593.5,212.8 593,213 592.5,213.2 592,212.8 591.5,212.3 591,212.1 590.5,212.5 590,212.8 589.5,213 589,212.9 588.5,212.8" fill="#c3dff0"/>
<polygon points="588.5,201.8 589,201.4 589.5,201 590,201 590.5,201.2 591,201.5 591.5,201 592,200.5 592.5,200.7 593,201.3 593.5,201.2 594,200.7 594.5,200.4 595,200.1 595.5,200 596,200 596.5,200.1 597,200.5 597.5,201.1 598,201.5 598.5,201.6 599,200.9 599.5,200.3 600,200.5 600.5,200.6 601,200.7 601.5,200.9 602,201 602.5,200.9 603,200.8 603.5,200.7 604,200.8 604.5,200.9 605,200.9 605.5,200.7 606,200.4 606.5,200.4 607,201 607.5,201.5 608,201.1 608.5,200.9 609,201.2 609.5,201.7 610,202 610.5,202.2 611,202.1 611.5,201.9 612,201.7 612.5,201.8 613,202 613.5,202.1 614,202.1 614.5,202.1 615,201.7 615.5,201.4 616,201.4 616.5,201.8 617,202.2 617.5,202.1 618,202 618.5,201.6 619,201.6 619.5,201.6 620,202 620.5,202.5 621,202.8 621.5,202.6 622,202.4 622.5,201.9 623,201.5 623.5,201.4 624,201.6 624.5,201.9 625,201.5 625.5,200.8 626,200.5 626.5,201.3 627,202.1 627.5,202.2 628,201.7 628.5,201.2 629,200.9 629.5,200.7 630,201 630.5,201.3 631,201.5 631.5,201.7 632,201.9 632.5,201.1 633,200.3 633.5,200.5 634,200.8 634.5,201 635,200.9 635.5,200.9 636,201.1 636.5,201.5 637,201.6 637.5,201.8 638,201.8 638.5,201.3 639,201 639.5,200.7 640,200.8 640.5,201.2 641,201.6 641.5,202.1 642,202.7 642.5,203.1 643,202.9 643.5,202.8 644,202.5 644.5,202.5 645,201.9 645.5,201.2 646,201.5 646.5,201.9 647,201.9 647.5,201.8 648,201.8 648.5,202.2 649,202.6 649.5,202.8 650,202.8 650.5,202.8 651,203.6 651.5,203.7 652,203.6 652.5,203.1 653,202.5 653.5,202.3 654,202.3 654.5,202.6 655,202.3 655.5,201.8 656,201.9 656.5,202.3 657,202.3 657.5,202.1 658,201.9 658.5,202.3 659,202.7 659.5,202.3 660,201.7 660.5,201.5 661,201.5 661.5,201.9 662,202.2 662.5,202.5 663,202.3 663.5,202 664,202.1 664.5,202.2 665,202 665.5,201.7 666,201.4 666.5,201.3 667,201.3 667.5,201.4 668,202.1 668.5,202.8 669,202.8 669.5,202.8 670,202.6 670.5,202.1 671,201.7 671.5,202.1 672,202.6 672.5,203.1 673,203.2 673.5,203.1 674,202.5 674.5,202.6 675,203.1 675.5,203.3 676,203.2 676.5,202.5 677,201.8 677.5,201.7 678,202 678.5,201.9 679,201.8 679.5,201.9 680,202.2 680.5,202.5 681,202.6 681.5,202.5 682,202.6 682.5,202.8 683,203.1 683.5,203 684,202.5 684.5,202.2 685,202.2 685.5,202.2 686,202.2 686.5,202.3 687,202.4 687.5,202.7 688,202.9 688.5,202.9 689,202.6 689.5,202.5 690,202.5 690.5,202.9 691,202.8 691.5,202.6 692,202.6 692.5,202.6 693,202.6 693.5,203 694,203.4 694.5,203.8 695,203.9 695.5,203.7 696,203.8 696.5,203.9 697,204 697.5,204.6 698,205 698.5,205 699,205 699.5,204.5 700,204 700.5,203.5 701,203.4 701.5,203.7 702,204.5 702.5,204.8 703,204.7 703.5,204.7 704,204.7 704.5,204.4 705,204.3 705.5,204.3 706,204.1 706.5,203.8 707,203.6 707.5,203.3 708,203.1 708.5,202.9 709,203.2 709.5,203.6 710,204 710.5,204.4 711,204 711.5,203.8 712,204.4 712,215.4 711.5,215.4 711,215.4 710.5,215.4 710,214.6 709.5,213.5 709,212.4 708.5,212.6 708,213 707.5,213.2 707,213.6 706.5,214.1 706,214.6 705.5,215.1 705,215.4 704.5,215 704,214.3 703.5,213.9 703,214.5 702.5,215.1 702,215.6 701.5,215.5 701,215.4 700.5,214.7 700,214.4 699.5,215 699,215.7 698.5,215.8 698,215.8 697.5,215.5 697,214.4 696.5,213.9 696,214.5 695.5,214.8 695,214.2 694.5,213.1 694,212.7 693.5,212.9 693,213 692.5,213.2 692,213.3 691.5,213.2 691,212.3 690.5,211.4 690,211.4 689.5,212.3 689,212.8 688.5,213.1 688,212.5 687.5,211.8 687,211.1 686.5,210.7 686,211.7 685.5,212.8 685,213.8 684.5,213.6 684,213.2 683.5,212.9 683,213.8 682.5,214.2 682,213.7 681.5,213.2 681,213.3 680.5,213.6 680,213.5 679.5,212.9 679,212.3 678.5,213 678,213.5 677.5,213.3 677,212.5 676.5,212.6 676,213.1 675.5,213.8 675,214.2 674.5,214.3 674,214.5 673.5,214.6 673,214 672.5,213.4 672,213 671.5,212.8 671,212.6 670.5,212.6 670,212.8 669.5,213 669,212.7 668.5,212.5 668,212.4 667.5,211.8 667,211.5 666.5,211.9 666,212.2 665.5,212.1 665,211.9 664.5,212.5 664,213.1 663.5,213.6 663,213.6 662.5,213.5 662,212.9 661.5,212.4 661,211.9 660.5,212.5 660,213.4 659.5,213.3 659,212.6 658.5,211.7 658,211.3 657.5,211.3 657,211.9 656.5,212.8 656,213 655.5,213 655,212.8 654.5,212.7 654,212.6 653.5,212.8 653,213.1 652.5,213 652,212.7 651.5,212.8 651,213.1 650.5,212.8 650,212.4 649.5,212 649,211.6 648.5,211.7 648,212 647.5,212.5 647,212.5 646.5,212.4 646,212.2 645.5,212 645,212.4 644.5,212.9 644,213 643.5,212.8 643,212.6 642.5,212.5 642,211.6 641.5,211.1 641,210.7 640.5,210.6 640,210.4 639.5,210.4 639,211.1 638.5,211.9 638,212.7 637.5,212.5 637,212.2 636.5,212.3 636,212.4 635.5,212.4 635,212.4 634.5,212.3 634,211.9 633.5,211.4 633,211.1 632.5,211 632,211 631.5,211.3 631,211.7 630.5,211.4 630,210.3 629.5,210 629,210.2 628.5,210.6 628,211.4 627.5,212.2 627,213.3 626.5,213.2 626,212.3 625.5,212 625,212.6 624.5,213.1 624,213 623.5,212.2 623,211.7 622.5,212.3 622,213 621.5,213.1 621,213.1 620.5,212.7 620,211.6 619.5,211 619,211.1 618.5,212 618,212.8 617.5,212.8 617,211.9 616.5,211.2 616,211.6 615.5,211.8 615,211.9 614.5,212.3 614,212.3 613.5,212.5 613,212.7 612.5,212.9 612,213 611.5,213.3 611,213.5 610.5,213.7 610,213.2 609.5,212.7 609,212.5 608.5,212.4 608,212.3 607.5,211.8 607,211.3 606.5,210.8 606,211.4 605.5,212 605,212.5 604.5,211.8 604,211 603.5,210.7 603,210.8 602.5,211.1 602,211.4 601.5,211.6 601,211.4 600.5,211.5 600,212 599.5,211.9 599,211.5 598.5,211.2 598,211.1 597.5,211.8 597,212.2 596.5,211.4 596,210.4 595.5,210.1 595,210.4 594.5,210.9 594,211 593.5,211.2 593,211.4 592.5,211.6 592,211.2 591.5,210.7 591,210.5 590.5,210.9 590,211.2 589.5,211.4 589,211.3 588.5,211.2" fill="#8ec0e3"/>
<polygon points="588.5,203.2 589,202.8 589.5,202.4 590,202.4 590.5,202.6 591,202.9 591.5,202.4 592,201.9 592.5,202.1 593,202.7 593.5,202.6 594,202.1 594.5,201.8 595,201.5 595.5,201.4 596,201.4 596.5,201.5 597,201.9 597.5,202.5 598,202.9 598.5,203 599,202.3 599.5,201.7 600,201.9 600.5,202 601,202.1 601.5,202.3 602,202.4 602.5,202.3 603,202.2 603.5,202.1 604,202.2 604.5,202.3 605,202.3 605.5,202.1 606,201.8 606.5,201.8 607,202.4 607.5,202.9 608,202.5 608.5,202.3 609,202.6 609.5,203.1 610,203.4 610.5,203.6 611,203.5 611.5,203.3 612,203.1 612.5,203.2 613,203.4 613.5,203.5 614,203.5 614.5,203.5 615,203.1 615.5,202.8 616,202.8 616.5,203.2 617,203.6 617.5,203.5 618,203.4 618.5,203 619,203 619.5,203 620,203.4 620.5,203.9 621,204.2 621.5,204 622,203.8 622.5,203.3 623,202.9 623.5,202.8 624,203 624.5,203.3 625,202.9 625.5,202.2 626,201.9 626.5,202.7 627,203.5 627.5,203.6 628,203.1 628.5,202.6 629,202.3 629.5,202.1 630,202.4 630.5,202.7 631,202.9 631.5,203.1 632,203.3 632.5,202.5 633,201.7 633.5,201.9 634,202.2 634.5,202.4 635,202.3 635.5,202.3 636,202.5 636.5,202.9 637,203 637.5,203.2 638,203.2 638.5,202.7 639,202.4 639.5,202.1 640,202.2 640.5,202.6 641,203 641.5,203.5 642,204.1 642.5,204.5 643,204.3 643.5,204.2 644,203.9 644.5,203.9 645,203.3 645.5,202.6 646,202.9 646.5,203.3 647,203.3 647.5,203.2 648,203.2 648.5,203.6 649,204 649.5,204.2 650,204.2 650.5,204.2 651,205 651.5,205.1 652,205 652.5,204.5 653,203.9 653.5,203.7 654,203.7 654.5,204 655,203.7 655.5,203.2 656,203.3 656.5,203.7 657,203.7 657.5,203.5 658,203.3 658.5,203.7 659,204.1 659.5,203.7 660,203.1 660.5,202.9 661,202.9 661.5,203.3 662,203.6 662.5,203.9 663,203.7 663.5,203.4 664,203.5 664.5,203.6 665,203.4 665.5,203.1 666,202.8 666.5,202.7 667,202.7 667.5,202.8 668,203.5 668.5,204.2 669,204.2 669.5,204.2 670,204 670.5,203.5 671,203.1 671.5,203.5 672,204 672.5,204.5 673,204.6 673.5,204.5 674,203.9 674.5,204 675,204.5 675.5,204.7 676,204.6 676.5,203.9 677,203.2 677.5,203.1 678,203.4 678.5,203.3 679,203.2 679.5,203.3 680,203.6 680.5,203.9 681,204 681.5,203.9 682,204 682.5,204.2 683,204.5 683.5,204.4 684,203.9 684.5,203.6 685,203.6 685.5,203.6 686,203.6 686.5,203.7 687,203.8 687.5,204.1 688,204.3 688.5,204.3 689,204 689.5,203.9 690,203.9 690.5,204.3 691,204.2 691.5,204 692,204 692.5,204 693,204 693.5,204.4 694,204.8 694.5,205.2 695,205.3 695.5,205.1 696,205.2 696.5,205.3 697,205.4 697.5,206 698,206.4 698.5,206.4 699,206.4 699.5,205.9 700,205.4 700.5,204.9 701,204.8 701.5,205.1 702,205.9 702.5,206.2 703,206.1 703.5,206.1 704,206.1 704.5,205.8 705,205.7 705.5,205.7 706,205.5 706.5,205.2 707,205 707.5,204.7 708,204.5 708.5,204.3 709,204.6 709.5,205 710,205.4 710.5,205.8 711,205.4 711.5,205.2 712,205.8 712,213.8 711.5,213.8 711,213.8 710.5,213.8 710,213 709.5,211.9 709,210.8 708.5,211 708,211.4 707.5,211.6 707,212 706.5,212.5 706,213 705.5,213.5 705,213.8 704.5,213.4 704,212.7 703.5,212.3 703,212.9 702.5,213.5 702,214 701.5,213.9 701,213.8 700.5,213.1 700,212.8 699.5,213.4 699,214.1 698.5,214.2 698,214.2 697.5,213.9 697,212.8 696.5,212.3 696,212.9 695.5,213.2 695,212.6 694.5,211.5 694,211.1 693.5,211.3 693,211.4 692.5,211.6 692,211.7 691.5,211.6 691,210.7 690.5,209.8 690,209.8 689.5,210.7 689,211.2 688.5,211.5 688,210.9 687.5,210.2 687,209.5 686.5,209.1 686,210.1 685.5,211.2 685,212.2 684.5,212 684,211.6 683.5,211.3 683,212.2 682.5,212.6 682,212.1 681.5,211.6 681,211.7 680.5,212 680,211.9 679.5,211.3 679,210.7 678.5,211.4 678,211.9 677.5,211.7 677,210.9 676.5,211 676,211.5 675.5,212.2 675,212.6 674.5,212.7 674,212.9 673.5,213 673,212.4 672.5,211.8 672,211.4 671.5,211.2 671,211 670.5,211 670,211.2 669.5,211.4 669,211.1 668.5,210.9 668,210.8 667.5,210.2 667,209.9 666.5,210.3 666,210.6 665.5,210.5 665,210.3 664.5,210.9 664,211.5 663.5,212 663,212 662.5,211.9 662,211.3 661.5,210.8 661,210.3 660.5,210.9 660,211.8 659.5,211.7 659,211 658.5,210.1 658,209.7 657.5,209.7 657,210.3 656.5,211.2 656,211.4 655.5,211.4 655,211.2 654.5,211.1 654,211 653.5,211.2 653,211.5 652.5,211.4 652,211.1 651.5,211.2 651,211.5 650.5,211.2 650,210.8 649.5,210.4 649,210 648.5,210.1 648,210.4 647.5,210.9 647,210.9 646.5,210.8 646,210.6 645.5,210.4 645,210.8 644.5,211.3 644,211.4 643.5,211.2 643,211 642.5,210.9 642,210 641.5,209.5 641,209.1 640.5,209 640,208.8 639.5,208.8 639,209.5 638.5,210.3 638,211.1 637.5,210.9 637,210.6 636.5,210.7 636,210.8 635.5,210.8 635,210.8 634.5,210.7 634,210.3 633.5,209.8 633,209.5 632.5,209.4 632,209.4 631.5,209.7 631,210.1 630.5,209.8 630,208.7 629.5,208.4 629,208.6 628.5,209 628,209.8 627.5,210.6 627,211.7 626.5,211.6 626,210.7 625.5,210.4 625,211 624.5,211.5 624,211.4 623.5,210.6 623,210.1 622.5,210.7 622,211.4 621.5,211.5 621,211.5 620.5,211.1 620,210 619.5,209.4 619,209.5 618.5,210.4 618,211.2 617.5,211.2 617,210.3 616.5,209.6 616,210 615.5,210.2 615,210.3 614.5,210.7 614,210.7 613.5,210.9 613,211.1 612.5,211.3 612,211.4 611.5,211.7 611,211.9 610.5,212.1 610,211.6 609.5,211.1 609,210.9 608.5,210.8 608,210.7 607.5,210.2 607,209.7 606.5,209.2 606,209.8 605.5,210.4 605,210.9 604.5,210.2 604,209.4 603.5,209.1 603,209.2 602.5,209.5 602,209.8 601.5,210 601,209.8 600.5,209.9 600,210.4 599.5,210.3 599,209.9 598.5,209.6 598,209.5 597.5,210.2 597,210.6 596.5,209.8 596,208.8 595.5,208.5 595,208.8 594.5,209.3 594,209.4 593.5,209.6 593,209.8 592.5,210 592,209.6 591.5,209.1 591,208.9 590.5,209.3 590,209.6 589.5,209.8 589,209.7 588.5,209.6" fill="#5597cf"/>
<polygon points="588.5,204.7 589,204.3 589.5,203.9 590,203.9 590.5,204.1 591,204.4 591.5,203.9 592,203.4 592.5,203.6 593,204.2 593.5,204.1 594,203.6 594.5,203.3 595,203 595.5,202.9 596,202.9 596.5,203 597,203.4 597.5,204 598,204.4 598.5,204.5 599,203.8 599.5,203.2 600,203.4 600.5,203.5 601,203.6 601.5,203.8 602,203.9 602.5,203.8 603,203.7 603.5,203.6 604,203.7 604.5,203.8 605,203.8 605.5,203.6 606,203.3 606.5,203.3 607,203.9 607.5,204.4 608,204 608.5,203.8 609,204.1 609.5,204.6 610,204.9 610.5,205.1 611,205 611.5,204.8 612,204.6 612.5,204.7 613,204.9 613.5,205 614,205 614.5,205 615,204.6 615.5,204.3 616,204.3 616.5,204.7 617,205.1 617.5,205 618,204.9 618.5,204.5 619,204.5 619.5,204.5 620,204.9 620.5,205.4 621,205.7 621.5,205.5 622,205.3 622.5,204.8 623,204.4 623.5,204.3 624,204.5 624.5,204.8 625,204.4 625.5,203.7 626,203.4 626.5,204.2 627,205 627.5,205.1 628,204.6 628.5,204.1 629,203.8 629.5,203.6 630,203.9 630.5,204.2 631,204.4 631.5,204.6 632,204.8 632.5,204 633,203.2 633.5,203.4 634,203.7 634.5,203.9 635,203.8 635.5,203.8 636,204 636.5,204.4 637,204.5 637.5,204.7 638,204.7 638.5,204.2 639,203.9 639.5,203.6 640,203.7 640.5,204.1 641,204.5 641.5,205 642,205.6 642.5,206 643,205.8 643.5,205.7 644,205.4 644.5,205.4 645,204.8 645.5,204.1 646,204.4 646.5,204.8 647,204.8 647.5,204.7 648,204.7 648.5,205.1 649,205.5 649.5,205.7 650,205.7 650.5,205.7 651,206.5 651.5,206.6 652,206.5 652.5,206 653,205.4 653.5,205.2 654,205.2 654.5,205.5 655,205.2 655.5,204.7 656,204.8 656.5,205.2 657,205.2 657.5,205 658,204.8 658.5,205.2 659,205.6 659.5,205.2 660,204.6 660.5,204.4 661,204.4 661.5,204.8 662,205.1 662.5,205.4 663,205.2 663.5,204.9 664,205 664.5,205.1 665,204.9 665.5,204.6 666,204.3 666.5,204.2 667,204.2 667.5,204.3 668,205 668.5,205.7 669,205.7 669.5,205.7 670,205.5 670.5,205 671,204.6 671.5,205 672,205.5 672.5,206 673,206.1 673.5,206 674,205.4 674.5,205.5 675,206 675.5,206.2 676,206.1 676.5,205.4 677,204.7 677.5,204.6 678,204.9 678.5,204.8 679,204.7 679.5,204.8 680,205.1 680.5,205.4 681,205.5 681.5,205.4 682,205.5 682.5,205.7 683,206 683.5,205.9 684,205.4 684.5,205.1 685,205.1 685.5,205.1 686,205.1 686.5,205.2 687,205.3 687.5,205.6 688,205.8 688.5,205.8 689,205.5 689.5,205.4 690,205.4 690.5,205.8 691,205.7 691.5,205.5 692,205.5 692.5,205.5 693,205.5 693.5,205.9 694,206.3 694.5,206.7 695,206.8 695.5,206.6 696,206.7 696.5,206.8 697,206.9 697.5,207.5 698,207.9 698.5,207.9 699,207.9 699.5,207.4 700,206.9 700.5,206.4 701,206.3 701.5,206.6 702,207.4 702.5,207.7 703,207.6 703.5,207.6 704,207.6 704.5,207.3 705,207.2 705.5,207.2 706,207 706.5,206.7 707,206.5 707.5,206.2 708,206 708.5,205.8 709,206.1 709.5,206.5 710,206.9 710.5,207.3 711,206.9 711.5,206.7 712,207.3 712,212.3 711.5,212.3 711,212.3 710.5,212.3 710,211.5 709.5,210.4 709,209.3 708.5,209.5 708,209.9 707.5,210.1 707,210.5 706.5,211 706,211.5 705.5,212 705,212.3 704.5,211.9 704,211.2 703.5,210.8 703,211.4 702.5,212 702,212.5 701.5,212.4 701,212.3 700.5,211.6 700,211.3 699.5,211.9 699,212.6 698.5,212.7 698,212.7 697.5,212.4 697,211.3 696.5,210.8 696,211.4 695.5,211.7 695,211.1 694.5,210 694,209.6 693.5,209.8 693,209.9 692.5,210.1 692,210.2 691.5,210.1 691,209.2 690.5,208.3 690,208.3 689.5,209.2 689,209.7 688.5,210 688,209.4 687.5,208.7 687,208 686.5,207.6 686,208.6 685.5,209.7 685,210.7 684.5,210.5 684,210.1 683.5,209.8 683,210.7 682.5,211.1 682,210.6 681.5,210.1 681,210.2 680.5,210.5 680,210.4 679.5,209.8 679,209.2 678.5,209.9 678,210.4 677.5,210.2 677,209.4 676.5,209.5 676,210 675.5,210.7 675,211.1 674.5,211.2 674,211.4 673.5,211.5 673,210.9 672.5,210.3 672,209.9 671.5,209.7 671,209.5 670.5,209.5 670,209.7 669.5,209.9 669,209.6 668.5,209.4 668,209.3 667.5,208.7 667,208.4 666.5,208.8 666,209.1 665.5,209 665,208.8 664.5,209.4 664,210 663.5,210.5 663,210.5 662.5,210.4 662,209.8 661.5,209.3 661,208.8 660.5,209.4 660,210.3 659.5,210.2 659,209.5 658.5,208.6 658,208.2 657.5,208.2 657,208.8 656.5,209.7 656,209.9 655.5,209.9 655,209.7 654.5,209.6 654,209.5 653.5,209.7 653,210 652.5,209.9 652,209.6 651.5,209.7 651,210 650.5,209.7 650,209.3 649.5,208.9 649,208.5 648.5,208.6 648,208.9 647.5,209.4 647,209.4 646.5,209.3 646,209.1 645.5,208.9 645,209.3 644.5,209.8 644,209.9 643.5,209.7 643,209.5 642.5,209.4 642,208.5 641.5,208 641,207.6 640.5,207.5 640,207.3 639.5,207.3 639,208 638.5,208.8 638,209.6 637.5,209.4 637,209.1 636.5,209.2 636,209.3 635.5,209.3 635,209.3 634.5,209.2 634,208.8 633.5,208.3 633,208 632.5,207.9 632,207.9 631.5,208.2 631,208.6 630.5,208.3 630,207.2 629.5,206.9 629,207.1 628.5,207.5 628,208.3 627.5,209.1 627,210.2 626.5,210.1 626,209.2 625.5,208.9 625,209.5 624.5,210 624,209.9 623.5,209.1 623,208.6 622.5,209.2 622,209.9 621.5,210 621,210 620.5,209.6 620,208.5 619.5,207.9 619,208 618.5,208.9 618,209.7 617.5,209.7 617,208.8 616.5,208.1 616,208.5 615.5,208.7 615,208.8 614.5,209.2 614,209.2 613.5,209.4 613,209.6 612.5,209.8 612,209.9 611.5,210.2 611,210.4 610.5,210.6 610,210.1 609.5,209.6 609,209.4 608.5,209.3 608,209.2 607.5,208.7 607,208.2 606.5,207.7 606,208.3 605.5,208.9 605,209.4 604.5,208.7 604,207.9 603.5,207.6 603,207.7 602.5,208 602,208.3 601.5,208.5 601,208.3 600.5,208.4 600,208.9 599.5,208.8 599,208.4 598.5,208.1 598,208 597.5,208.7 597,209.1 596.5,208.3 596,207.3 595.5,207 595,207.3 594.5,207.8 594,207.9 593.5,208.1 593,208.3 592.5,208.5 592,208.1 591.5,207.6 591,207.4 590.5,207.8 590,208.1 589.5,208.3 589,208.2 588.5,208.1" fill="#2d6bad"/>
<polyline points="588.5,207.5 589,207.1 589.5,206.5 590,205.9 590.5,205.5 591,205.1 591.5,205.3 592,205.8 592.5,206.4 593,205.8 593.5,205.1 594,204.5 594.5,204.4 595,204.4 595.5,204.8 596,205.5 596.5,206.1 597,206.7 597.5,207.2 598,207.2 598.5,206.8 599,206.5 599.5,206 600,205.4 600.5,204.8 601,205 601.5,205.6 602,205.4 602.5,204.8 603,204.5 603.5,204.3 604,204.6 604.5,205.2 605,205.7 605.5,205.9 606,206 606.5,206.1 607,206.1 607.5,206.2 608,206.2 608.5,206.2 609,206.2 609.5,206.4 610,207.2 610.5,208.1 611,207.9 611.5,207.8 612,207.7 612.5,207.3 613,206.7 613.5,206.1 614,205.9 614.5,205.9 615,206.3 615.5,207.2 616,207.6 616.5,207.7 617,207.8 617.5,207.9 618,208.1 618.5,207.3 619,206.3 619.5,205.3 620,205.7 620.5,207.2 621,207.9 621.5,208 622,208.1 622.5,206.9 623,205.6 623.5,205.4 624,206.2 624.5,207 625,206.6 625.5,205.5 626,205.4 626.5,206.7 627,207.7 627.5,206.8 628,205.8 628.5,204.9 629,204.9 629.5,204.9 630,206 630.5,207.3 631,206.9 631.5,206.6 632,206.1 632.5,205.6 633,205.3 633.5,205.2 634,205.1 634.5,205.1 635,205 635.5,205 636,205.1 636.5,205.2 637,205.4 637.5,206.6 638,207.7 638.5,207.3 639,206.6 639.5,206 640,205.8 640.5,205.8 641,205.8 641.5,206.4 642,207.4 642.5,208.1 643,207.3 643.5,206.5 644,205.9 644.5,205.9 645,206 645.5,206.1 646,206.9 646.5,207.7 647,207.4 647.5,206.7 648,206.1 648.5,206 649,206.2 649.5,206.7 650,207.1 650.5,207.6 651,208.1 651.5,208 652,208.4 652.5,208.9 653,208.8 653.5,208 654,207.2 654.5,206.7 655,206.3 655.5,205.9 656,206.6 656.5,207.8 657,207.8 657.5,207 658,206.3 658.5,206.4 659,207.2 659.5,207.4 660,206.8 660.5,206.3 661,205.9 661.5,206.6 662,207.3 662.5,208 663,207.6 663.5,207.1 664,206.5 664.5,205.9 665,205.4 665.5,205.7 666,205.9 666.5,206.2 667,206.4 667.5,206.4 668,206.5 668.5,206.9 669,207.4 669.5,207.8 670,207.5 670.5,206.9 671,206.5 671.5,206.4 672,206.3 672.5,206.6 673,207.4 673.5,208 674,208 674.5,208.1 675,208.3 675.5,208.7 676,209.2 676.5,207.9 677,206.5 677.5,206.7 678,207.3 678.5,207.3 679,206.8 679.5,207 680,207.5 680.5,207.8 681,207.5 681.5,207.3 682,208 682.5,208.6 683,209.2 683.5,208.8 684,208.4 684.5,208 685,207.2 685.5,206.5 686,206 686.5,205.7 687,206 687.5,206.7 688,207.4 688.5,207.6 689,207 689.5,206.4 690,205.8 690.5,206.5 691,207.2 691.5,207.8 692,207.7 692.5,207.7 693,207.7 693.5,207.6 694,207.5 694.5,207.4 695,208.1 695.5,209 696,209.8 696.5,209.9 697,210 697.5,209.9 698,210 698.5,210.1 699,210.1 699.5,209.6 700,209.2 700.5,208.7 701,209.1 701.5,209.8 702,210.4 702.5,209.9 703,209.4 703.5,208.9 704,209.1 704.5,209.5 705,210 705.5,209.9 706,209.6 706.5,209.3 707,209.2 707.5,209.1 708,208.7 708.5,208.1 709,207.4 709.5,208.1 710,209.3 710.5,210.4 711,210.2 711.5,210 712,209.7" fill="none" stroke="#1c5090" stroke-width="1.1" stroke-linejoin="round"/>
<polyline points="697.3,210.3 700,208.5 703,207.5 706,209.5 708.6,210.3 711,204.5 713.4,199.5 715,201.5 716.8,201.8 719.9,191.8 722.7,181.5 723.4,181.6" fill="none" stroke="#0b2d6b" stroke-width="2.6" stroke-linejoin="round"/>
<polyline points="72.5,340 75.9,338.6 79.3,335 84,339 88.7,346.2 93.3,351.2 98,353.6 101.8,353.8 105.5,359.2 109.3,359.3 113,358 116.7,358.3 121.3,356.7 126,353.6 130.2,358.5 134.5,367.7 139.2,356.4 143.2,356.6 147.2,353.3 151.2,353.4 154.9,358.1 158.7,358 163.3,358.8 168,362.7 173.6,365.5 178.3,368.1 183,366.4 187.7,360.7 192.3,358 196.1,361.2 199.8,360.8 203.6,359.4 207.3,359.9 211.1,357 214.8,350.6 218.5,345.6 222.2,345 228.9,337 232.8,330.5 238.1,327.9 242,327.5 245.9,324 251.1,317.5 256.4,309.6 260.3,301.8 264.2,300.5 269.4,297.8 274.7,293.9 278.5,289.3 283.2,284.5 287.9,283.7 293.5,277 300,276.6 304,276.1 308,272 311.5,271.9 315,273.4 321.5,264.2 326.8,257.7 332,247.2 337.2,242 343.8,234.2 350.3,226.3 355.1,220.8 359.8,218.7 365.4,224.3 371,216.8 376.6,215.2 382.2,211.2 386.9,208.6 391.6,207.5 395.8,208.7 400,205.6 406.5,196.3 411.5,195.2 416.6,199.1 421.6,197.6 425.4,196.7 429.2,202.1 433,201.4 438,196.6 443,196.3 448.1,196.1 453.1,193.2 458.1,192.1 463.2,195.1 468.3,193.8 472.1,197 475.8,194.9 479.6,198.9 483.5,195.4 488,198.3 492.5,195.9 497,197.5 502.4,200.5 507.7,201.6 511.9,199.2 516,198.9 521.6,202.3 525.8,204 530,201 534.8,198.5 539.6,198.9 543.1,202 546.6,201.6 551.5,200.4 556.3,201.6 561.1,201.1 566,197.5 571.5,196.5 577.1,198.2 582,197.5" fill="none" stroke="#76a5cc" stroke-width="1.1" stroke-dasharray="4.5 2.4 1.3 2.4" stroke-linejoin="round"/>
<polyline points="72.5,396.6 76.8,397.5 81.2,394.8 86.8,393.7 92.4,396.6 98,400.6 103.6,400.4 107.3,401.8 111.1,407.9 116.7,409.9 122.3,407.9 126.1,403.7 129.8,404.1 133.6,406.3 137.3,406.9 140,401 144.7,401.4 149.3,404.8 153.7,404.6 158,398 162.4,397.3 168,401 172.7,405.1 177.4,404.8 181.2,404.8 184.9,406.6 190.5,412.2 196.1,404.8 199.8,395.4 204.5,412.2 209.2,401 214.8,391.7 219.4,389.5 224.1,384.2 228,375.3 233.5,376.7 239.3,366 243.9,360.2 248.5,356.7 252.5,347.5 256.4,342.3 260.3,335.8 266.8,333.1 270.8,327.9 277.3,318.8 282.5,312.2 286,309.9 289.8,311.5 293.5,309.9 300,302.4 305,299.5 310,300 315.2,298.8 320.3,295.1 325.5,294.3 332,283.8 338.5,270.8 345,261.6 351.6,253.8 356.8,251.1 360.8,251 364.7,248.5 369.9,249.8 375,248.5 378.5,243 383.2,237 387.9,235.5 392.5,235.7 397.2,231.8 401.2,229.5 405.2,229.1 409.4,231.6 413.6,229 417.8,230.4 422.9,233 427.9,231.1 433,232.9 438,231.1 443,227.9 446.8,223.8 450.6,224.1 454.8,225.6 459,223.9 463.2,225.4 467.4,226.1 471.6,219.8 475.8,220.3 480,221.8 483.4,222 486.9,219.7 492.4,218.8 498,222.5 502.9,226.2 507.7,226.6 512.3,224.7 517,227.7 521.6,226.6 526.2,223.6 530.9,227.1 535.5,224.5 539,220.8 542.4,221.8 545.9,224.7 549.4,223.1 555,222.6 560.5,224.5 563.2,220.4 566.7,220.7 570.2,218.3 574.1,216.6 578.1,217.9 582,216.2" fill="none" stroke="#76a5cc" stroke-width="1.1" stroke-dasharray="4.5 2.4 1.3 2.4" stroke-linejoin="round"/>
<g stroke="#262626" stroke-width="1.3" fill="none">
<polyline points="72.4,174.3 72.4,449 582.2,449"/>
<polyline points="587.6,449 723.9,449 723.9,174.6"/>
<line x1="72.4" y1="207.6" x2="77.8" y2="207.6"/>
<line x1="72.4" y1="259.7" x2="77.8" y2="259.7"/>
<line x1="72.4" y1="311.9" x2="77.8" y2="311.9"/>
<line x1="72.4" y1="364" x2="77.8" y2="364"/>
<line x1="72.4" y1="416.2" x2="77.8" y2="416.2"/>
<line x1="718.5" y1="181.5" x2="723.9" y2="181.5"/>
<line x1="718.5" y1="207.6" x2="723.9" y2="207.6"/>
<line x1="718.5" y1="233.7" x2="723.9" y2="233.7"/>
<line x1="95.1" y1="449" x2="95.1" y2="443.6"/>
<line x1="141.4" y1="449" x2="141.4" y2="443.6"/>
<line x1="187.8" y1="449" x2="187.8" y2="443.6"/>
<line x1="234.2" y1="449" x2="234.2" y2="443.6"/>
<line x1="280.5" y1="449" x2="280.5" y2="443.6"/>
<line x1="326.9" y1="449" x2="326.9" y2="443.6"/>
<line x1="373.2" y1="449" x2="373.2" y2="443.6"/>
<line x1="419.5" y1="449" x2="419.5" y2="443.6"/>
<line x1="465.9" y1="449" x2="465.9" y2="443.6"/>
<line x1="512.2" y1="449" x2="512.2" y2="443.6"/>
<line x1="558.6" y1="449" x2="558.6" y2="443.6"/>
<line x1="619" y1="449" x2="619" y2="443.6"/>
<line x1="650.8" y1="449" x2="650.8" y2="443.6"/>
<line x1="682.5" y1="449" x2="682.5" y2="443.6"/>
<line x1="714.3" y1="449" x2="714.3" y2="443.6"/>
<line x1="575" y1="458.3" x2="591.9" y2="440.2"/><line x1="579.3" y1="458.3" x2="596.2" y2="440.2"/>
</g>
<g font-family="'Liberation Sans', Arial, Helvetica, sans-serif" font-size="13.2" fill="#262626">
<text x="66.4" y="212.2" text-anchor="end">0</text>
<text x="66.4" y="264.3" text-anchor="end">-2</text>
<text x="66.4" y="316.5" text-anchor="end">-4</text>
<text x="66.4" y="368.6" text-anchor="end">-6</text>
<text x="66.4" y="420.8" text-anchor="end">-8</text>
<text x="730.8" y="186.1">1</text>
<text x="730.8" y="212.2">0</text>
<text x="730.8" y="238.3">-1</text>
<text x="104.2" y="465.4" text-anchor="end" transform="rotate(-45 104.2 465.4)">22,000</text>
<text x="150.5" y="465.4" text-anchor="end" transform="rotate(-45 150.5 465.4)">20,000</text>
<text x="196.9" y="465.4" text-anchor="end" transform="rotate(-45 196.9 465.4)">18,000</text>
<text x="243.2" y="465.4" text-anchor="end" transform="rotate(-45 243.2 465.4)">16,000</text>
<text x="289.6" y="465.4" text-anchor="end" transform="rotate(-45 289.6 465.4)">14,000</text>
<text x="336" y="465.4" text-anchor="end" transform="rotate(-45 336 465.4)">12,000</text>
<text x="382.3" y="465.4" text-anchor="end" transform="rotate(-45 382.3 465.4)">10,000</text>
<text x="428.6" y="465.4" text-anchor="end" transform="rotate(-45 428.6 465.4)">8,000</text>
<text x="475" y="465.4" text-anchor="end" transform="rotate(-45 475 465.4)">6,000</text>
<text x="521.4" y="465.4" text-anchor="end" transform="rotate(-45 521.4 465.4)">4,000</text>
<text x="567.7" y="465.4" text-anchor="end" transform="rotate(-45 567.7 465.4)">2,000</text>
<text x="628.1" y="465.4" text-anchor="end" transform="rotate(-45 628.1 465.4)">750</text>
<text x="659.9" y="465.4" text-anchor="end" transform="rotate(-45 659.9 465.4)">500</text>
<text x="691.6" y="465.4" text-anchor="end" transform="rotate(-45 691.6 465.4)">250</text>
<text x="723.4" y="465.4" text-anchor="end" transform="rotate(-45 723.4 465.4)">0</text>
</g>
<text font-family="'Liberation Sans', Arial, Helvetica, sans-serif" font-size="13.5" fill="#262626" x="413.7" y="508.8" text-anchor="middle">Age (yr BP)</text>
<text font-family="'Liberation Sans', Arial, Helvetica, sans-serif" font-size="13.6" fill="#262626" transform="translate(46.2 310.8) rotate(-90)" text-anchor="middle">ΔGMST (<tspan font-size="11" dy="-4.5" dx="1">°</tspan><tspan dy="4.5" dx="0.5">C)</tspan></text>
<text font-family="'Liberation Sans', Arial, Helvetica, sans-serif" font-size="13" fill="#262626" transform="translate(762.6 212.8) rotate(-90)" text-anchor="middle">ΔGMST (<tspan font-size="11" dy="-4.5" dx="1">°</tspan><tspan dy="4.5" dx="0.5">C)</tspan></text>
<line x1="508.6" y1="302.3" x2="548.8" y2="302.3" stroke="#8ec5e3" stroke-width="1" stroke-dasharray="11.5 4 3 4"/>
<line x1="508.6" y1="320.6" x2="548.8" y2="320.6" stroke="#0b2d6b" stroke-width="2.4"/>
<text font-family="'Liberation Sans', Arial, Helvetica, sans-serif" font-size="12.1" fill="#262626" x="553.8" y="306.9">LGMR Decadal 95%CI</text>
<text font-family="'Liberation Sans', Arial, Helvetica, sans-serif" font-size="12.1" fill="#262626" x="553.8" y="325.2">HadCRUT5 (Decadal)</text>
<rect x="520.1" y="334.5" width="27.2" height="13.7" fill="#a3d2ea"/>
<rect x="547.3" y="334.5" width="28.3" height="13.7" fill="#3f91d0"/>
<rect x="575.6" y="334.5" width="24.2" height="13.7" fill="#4f97d2"/>
<rect x="599.8" y="334.5" width="27.2" height="13.7" fill="#2267b0"/>
<rect x="627" y="334.5" width="27.9" height="13.7" fill="#0a3a75"/>
<rect x="520.1" y="334.5" width="134.8" height="13.7" fill="none" stroke="#262626" stroke-width="1.1"/>
<g font-family="'Liberation Sans', Arial, Helvetica, sans-serif" font-size="12.6" fill="#262626">
<text x="528.3" y="362" text-anchor="end" transform="rotate(-45 528.3 362)">2.5-97.5</text>
<text x="555.6" y="362" text-anchor="end" transform="rotate(-45 555.6 362)">10-90</text>
<text x="582.8" y="362" text-anchor="end" transform="rotate(-45 582.8 362)">20-80</text>
<text x="608.9" y="362" text-anchor="end" transform="rotate(-45 608.9 362)">30-70</text>
<text x="636" y="362" text-anchor="end" transform="rotate(-45 636 362)">40-60</text>
<text x="662.2" y="362" text-anchor="end" transform="rotate(-45 662.2 362)">50</text>
</g>
<text font-family="'Liberation Sans', Arial, Helvetica, sans-serif" font-size="12.9" fill="#262626" x="518.5" y="401.2">Ensemble percentile (%)</text>
<g font-family="'Liberation Sans', Arial, Helvetica, sans-serif" font-size="12.4" font-style="italic" fill="#999999">
<text x="531.5" y="253.2">LGMR</text><text x="603.5" y="253.2">LMR</text></g>
<g stroke="#999999" stroke-width="1.9" fill="none"><line x1="504" y1="247.7" x2="524" y2="247.7"/><line x1="634" y1="247.7" x2="654" y2="247.7"/></g>
<g fill="#999999"><polygon points="497.5,247.7 506.5,243.6 505,247.7 506.5,251.8"/><polygon points="660.5,247.7 651.5,243.6 653,247.7 651.5,251.8"/></g>
<g stroke="#333" stroke-width="1.1"><line x1="575.5" y1="256.5" x2="589.5" y2="239.5"/><line x1="580.5" y1="256.5" x2="594.5" y2="239.5"/></g>
<g font-family="'Liberation Sans', Arial, Helvetica, sans-serif" font-size="12.4" font-style="italic" fill="#777">
<text x="233.9" y="409.8">Deglacial</text><text x="233.9" y="424.4">Onset</text></g>
<g font-family="'Liberation Sans', Arial, Helvetica, sans-serif" font-size="12.4" font-style="italic" fill="#ababab">
<text x="347.5" y="376.3">Interglacial</text><text x="347.5" y="391.6">Onset</text></g>
<polygon points="182.2,173 193.8,173 188,182.8" fill="#666" stroke="#444" stroke-width="0.6"/>
<polygon points="321.1,173 332.7,173 326.9,182.8" fill="#666" stroke="#444" stroke-width="0.6"/>
<polygon points="390.9,173 402.5,173 396.7,182.8" fill="#666" stroke="#444" stroke-width="0.6"/>
<g stroke="#222" stroke-width="1.9" stroke-dasharray="0.01 5.45" stroke-linecap="round" fill="none">
<line x1="169.3" y1="145.1" x2="189.2" y2="172.6"/>
<line x1="378.7" y1="145.3" x2="331" y2="171.8"/>
<line x1="590.1" y1="143.9" x2="400.6" y2="172"/>
</g>
</svg>
</body></html>
